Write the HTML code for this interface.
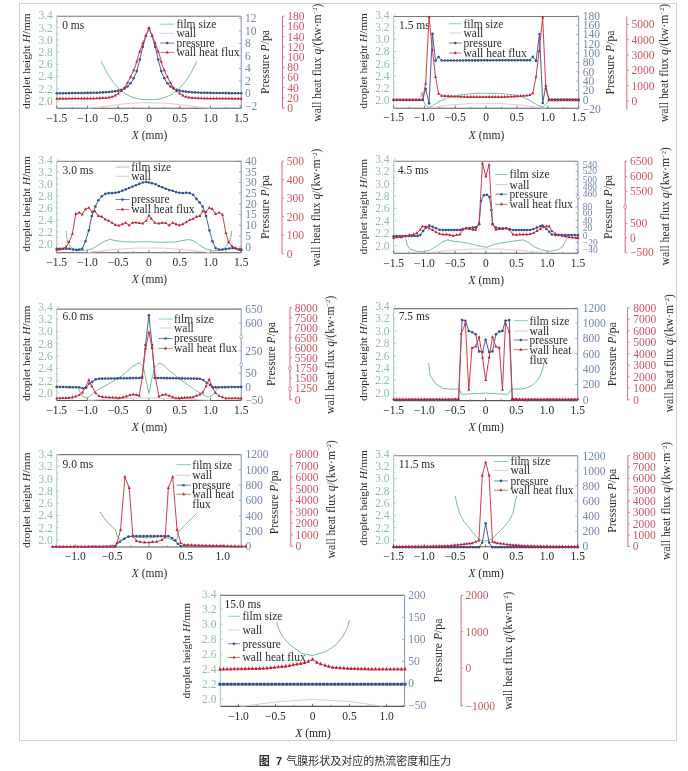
<!DOCTYPE html>
<html><head><meta charset="utf-8"><style>
html,body{margin:0;padding:0;background:#fff;}
svg{display:block;font-family:"Liberation Serif","Noto Serif CJK SC",serif;}
.cap{position:absolute;left:0;top:752px;width:688px;text-align:center;font-family:"Liberation Sans","Noto Sans CJK SC",sans-serif;font-size:11px;color:#222;}
</style></head><body>
<svg width="688" height="771" viewBox="0 0 688 771">
<rect x="19.5" y="3.5" width="657" height="737" fill="none" stroke="#ccd3d3" stroke-width="1"/>
<line x1="56.80" y1="16.20" x2="241.20" y2="16.20" stroke="#7a7a7a" stroke-width="1.1" />
<line x1="56.80" y1="108.30" x2="241.20" y2="108.30" stroke="#555" stroke-width="1.1" />
<line x1="56.80" y1="16.20" x2="56.80" y2="108.30" stroke="#9fd6b8" stroke-width="1.1" />
<line x1="241.20" y1="16.20" x2="241.20" y2="108.30" stroke="#8c9dbf" stroke-width="1.1" />
<line x1="56.80" y1="108.30" x2="56.80" y2="105.70" stroke="#555" stroke-width="0.8" />
<line x1="72.17" y1="108.30" x2="72.17" y2="106.50" stroke="#888" stroke-width="0.8" />
<line x1="87.53" y1="108.30" x2="87.53" y2="105.70" stroke="#555" stroke-width="0.8" />
<line x1="102.90" y1="108.30" x2="102.90" y2="106.50" stroke="#888" stroke-width="0.8" />
<line x1="118.27" y1="108.30" x2="118.27" y2="105.70" stroke="#555" stroke-width="0.8" />
<line x1="133.63" y1="108.30" x2="133.63" y2="106.50" stroke="#888" stroke-width="0.8" />
<line x1="149.00" y1="108.30" x2="149.00" y2="105.70" stroke="#555" stroke-width="0.8" />
<line x1="164.37" y1="108.30" x2="164.37" y2="106.50" stroke="#888" stroke-width="0.8" />
<line x1="179.73" y1="108.30" x2="179.73" y2="105.70" stroke="#555" stroke-width="0.8" />
<line x1="195.10" y1="108.30" x2="195.10" y2="106.50" stroke="#888" stroke-width="0.8" />
<line x1="210.47" y1="108.30" x2="210.47" y2="105.70" stroke="#555" stroke-width="0.8" />
<line x1="225.83" y1="108.30" x2="225.83" y2="106.50" stroke="#888" stroke-width="0.8" />
<line x1="241.20" y1="108.30" x2="241.20" y2="105.70" stroke="#555" stroke-width="0.8" />
<text x="56.80" y="121.51" font-size="11.5" fill="#2a2a2a" text-anchor="middle" >−1.5</text>
<text x="87.53" y="121.51" font-size="11.5" fill="#2a2a2a" text-anchor="middle" >−1.0</text>
<text x="118.27" y="121.51" font-size="11.5" fill="#2a2a2a" text-anchor="middle" >−0.5</text>
<text x="149.00" y="121.51" font-size="11.5" fill="#2a2a2a" text-anchor="middle" >0</text>
<text x="179.73" y="121.51" font-size="11.5" fill="#2a2a2a" text-anchor="middle" >0.5</text>
<text x="210.47" y="121.51" font-size="11.5" fill="#2a2a2a" text-anchor="middle" >1.0</text>
<text x="241.20" y="121.51" font-size="11.5" fill="#2a2a2a" text-anchor="middle" >1.5</text>
<text x="149.50" y="138.71" font-size="11.5" fill="#2a2a2a" text-anchor="middle" ><tspan font-style="italic">X</tspan> (mm)</text>
<text x="52.80" y="104.91" font-size="11.5" fill="#8fbfa2" text-anchor="end" >2.0</text>
<line x1="56.80" y1="101.00" x2="59.30" y2="101.00" stroke="#9fd6b8" stroke-width="0.8" />
<line x1="56.80" y1="94.89" x2="58.40" y2="94.89" stroke="#9fd6b8" stroke-width="0.7" />
<text x="52.80" y="92.70" font-size="11.5" fill="#8fbfa2" text-anchor="end" >2.2</text>
<line x1="56.80" y1="88.79" x2="59.30" y2="88.79" stroke="#9fd6b8" stroke-width="0.8" />
<line x1="56.80" y1="82.68" x2="58.40" y2="82.68" stroke="#9fd6b8" stroke-width="0.7" />
<text x="52.80" y="80.48" font-size="11.5" fill="#8fbfa2" text-anchor="end" >2.4</text>
<line x1="56.80" y1="76.57" x2="59.30" y2="76.57" stroke="#9fd6b8" stroke-width="0.8" />
<line x1="56.80" y1="70.46" x2="58.40" y2="70.46" stroke="#9fd6b8" stroke-width="0.7" />
<text x="52.80" y="68.27" font-size="11.5" fill="#8fbfa2" text-anchor="end" >2.6</text>
<line x1="56.80" y1="64.36" x2="59.30" y2="64.36" stroke="#9fd6b8" stroke-width="0.8" />
<line x1="56.80" y1="58.25" x2="58.40" y2="58.25" stroke="#9fd6b8" stroke-width="0.7" />
<text x="52.80" y="56.05" font-size="11.5" fill="#8fbfa2" text-anchor="end" >2.8</text>
<line x1="56.80" y1="52.14" x2="59.30" y2="52.14" stroke="#9fd6b8" stroke-width="0.8" />
<line x1="56.80" y1="46.04" x2="58.40" y2="46.04" stroke="#9fd6b8" stroke-width="0.7" />
<text x="52.80" y="43.84" font-size="11.5" fill="#8fbfa2" text-anchor="end" >3.0</text>
<line x1="56.80" y1="39.93" x2="59.30" y2="39.93" stroke="#9fd6b8" stroke-width="0.8" />
<line x1="56.80" y1="33.82" x2="58.40" y2="33.82" stroke="#9fd6b8" stroke-width="0.7" />
<text x="52.80" y="31.62" font-size="11.5" fill="#8fbfa2" text-anchor="end" >3.2</text>
<line x1="56.80" y1="27.71" x2="59.30" y2="27.71" stroke="#9fd6b8" stroke-width="0.8" />
<line x1="56.80" y1="21.61" x2="58.40" y2="21.61" stroke="#9fd6b8" stroke-width="0.7" />
<text x="52.80" y="19.41" font-size="11.5" fill="#8fbfa2" text-anchor="end" >3.4</text>
<line x1="56.80" y1="15.50" x2="59.30" y2="15.50" stroke="#9fd6b8" stroke-width="0.8" />
<text transform="translate(30.22,61.10) rotate(-90)" font-size="11.4" fill="#2a2a2a" text-anchor="middle">droplet height <tspan font-style="italic">H</tspan>/mm</text>
<text x="245.00" y="22.41" font-size="11.5" fill="#7286ab" text-anchor="start" >12</text>
<line x1="241.20" y1="18.50" x2="238.70" y2="18.50" stroke="#8c9dbf" stroke-width="0.8" />
<text x="245.00" y="34.81" font-size="11.5" fill="#7286ab" text-anchor="start" >10</text>
<line x1="241.20" y1="30.90" x2="238.70" y2="30.90" stroke="#8c9dbf" stroke-width="0.8" />
<text x="245.00" y="47.31" font-size="11.5" fill="#7286ab" text-anchor="start" >8</text>
<line x1="241.20" y1="43.40" x2="238.70" y2="43.40" stroke="#8c9dbf" stroke-width="0.8" />
<text x="245.00" y="59.81" font-size="11.5" fill="#7286ab" text-anchor="start" >6</text>
<line x1="241.20" y1="55.90" x2="238.70" y2="55.90" stroke="#8c9dbf" stroke-width="0.8" />
<text x="245.00" y="72.31" font-size="11.5" fill="#7286ab" text-anchor="start" >4</text>
<line x1="241.20" y1="68.40" x2="238.70" y2="68.40" stroke="#8c9dbf" stroke-width="0.8" />
<text x="245.00" y="84.81" font-size="11.5" fill="#7286ab" text-anchor="start" >2</text>
<line x1="241.20" y1="80.90" x2="238.70" y2="80.90" stroke="#8c9dbf" stroke-width="0.8" />
<text x="245.00" y="97.31" font-size="11.5" fill="#7286ab" text-anchor="start" >0</text>
<line x1="241.20" y1="93.40" x2="238.70" y2="93.40" stroke="#8c9dbf" stroke-width="0.8" />
<text x="245.00" y="109.71" font-size="11.5" fill="#7286ab" text-anchor="start" >−2</text>
<line x1="241.20" y1="105.80" x2="238.70" y2="105.80" stroke="#8c9dbf" stroke-width="0.8" />
<text transform="translate(269.31,62.00) rotate(-90)" font-size="11.7" fill="#2a2a2a" text-anchor="middle">Pressure <tspan font-style="italic">P</tspan>/pa</text>
<line x1="282.50" y1="16.20" x2="282.50" y2="108.70" stroke="#d86a72" stroke-width="1.0" />
<text x="287.30" y="111.91" font-size="11.5" fill="#cf5560" text-anchor="start" >0</text>
<line x1="282.50" y1="108.00" x2="284.50" y2="108.00" stroke="#d86a72" stroke-width="0.8" />
<text x="287.30" y="101.71" font-size="11.5" fill="#cf5560" text-anchor="start" >20</text>
<line x1="282.50" y1="97.80" x2="284.50" y2="97.80" stroke="#d86a72" stroke-width="0.8" />
<text x="287.30" y="91.51" font-size="11.5" fill="#cf5560" text-anchor="start" >40</text>
<line x1="282.50" y1="87.60" x2="284.50" y2="87.60" stroke="#d86a72" stroke-width="0.8" />
<text x="287.30" y="81.31" font-size="11.5" fill="#cf5560" text-anchor="start" >60</text>
<line x1="282.50" y1="77.40" x2="284.50" y2="77.40" stroke="#d86a72" stroke-width="0.8" />
<text x="287.30" y="71.11" font-size="11.5" fill="#cf5560" text-anchor="start" >80</text>
<line x1="282.50" y1="67.20" x2="284.50" y2="67.20" stroke="#d86a72" stroke-width="0.8" />
<text x="287.30" y="60.91" font-size="11.5" fill="#cf5560" text-anchor="start" >100</text>
<line x1="282.50" y1="57.00" x2="284.50" y2="57.00" stroke="#d86a72" stroke-width="0.8" />
<text x="287.30" y="50.71" font-size="11.5" fill="#cf5560" text-anchor="start" >120</text>
<line x1="282.50" y1="46.80" x2="284.50" y2="46.80" stroke="#d86a72" stroke-width="0.8" />
<text x="287.30" y="40.51" font-size="11.5" fill="#cf5560" text-anchor="start" >140</text>
<line x1="282.50" y1="36.60" x2="284.50" y2="36.60" stroke="#d86a72" stroke-width="0.8" />
<text x="287.30" y="30.31" font-size="11.5" fill="#cf5560" text-anchor="start" >160</text>
<line x1="282.50" y1="26.40" x2="284.50" y2="26.40" stroke="#d86a72" stroke-width="0.8" />
<text x="287.30" y="20.11" font-size="11.5" fill="#cf5560" text-anchor="start" >180</text>
<line x1="282.50" y1="16.20" x2="284.50" y2="16.20" stroke="#d86a72" stroke-width="0.8" />
<text transform="translate(320.51,62.60) rotate(-90)" font-size="11.7" fill="#2a2a2a" text-anchor="middle">wall heat flux <tspan font-style="italic">q</tspan>/(kw·m<tspan dy="-3.5" font-size="6.5">−2</tspan><tspan dy="3.5">)</tspan></text>
<text x="62.20" y="28.51" font-size="11.5" fill="#2a2a2a" text-anchor="start" >0 ms</text>
<line x1="160.20" y1="24.20" x2="174.20" y2="24.20" stroke="#8fcfa8" stroke-width="1.0" />
<line x1="160.20" y1="33.30" x2="174.20" y2="33.30" stroke="#c9cfe0" stroke-width="1.0" />
<line x1="160.20" y1="43.10" x2="174.20" y2="43.10" stroke="#6f84b0" stroke-width="1.0" />
<circle cx="167.20" cy="43.10" r="1.3" fill="#34508a"/>
<line x1="160.20" y1="52.50" x2="174.20" y2="52.50" stroke="#e0707e" stroke-width="1.0" />
<path d="M167.20,50.55 L168.70,53.55 L165.70,53.55 Z" fill="#bb1d36"/>
<text x="176.40" y="28.11" font-size="11.5" fill="#2a2a2a" text-anchor="start" >film size</text>
<text x="176.40" y="37.21" font-size="11.5" fill="#2a2a2a" text-anchor="start" >wall</text>
<text x="176.40" y="47.01" font-size="11.5" fill="#2a2a2a" text-anchor="start" >pressure</text>
<text x="176.40" y="56.41" font-size="11.5" fill="#2a2a2a" text-anchor="start" >wall heat flux</text>
<path d="M87.53,108.30 L105.97,106.30 L124.41,103.80 L142.85,102.60 L167.44,103.20 L185.88,105.50 L210.47,108.30" fill="none" stroke="#dcc4cc" stroke-width="0.9"/>
<path d="M101.06,61.10 L107.20,73.30 L113.35,82.50 L119.50,89.20 L125.64,94.00 L131.79,97.10 L139.78,99.20 L149.00,99.90 L158.22,99.20 L166.21,97.10 L172.36,94.00 L178.50,89.20 L184.65,82.50 L190.80,73.30 L196.94,61.10" fill="none" stroke="#66b886" stroke-width="0.9"/>
<path d="M56.80,93.30 L94.91,92.80 L107.20,92.20 L117.04,91.00 L123.18,89.20 L128.10,86.10 L131.79,81.90 L136.09,73.30 L139.17,62.30 L142.24,48.90 L145.93,36.00 L149.00,28.20 L152.07,36.00 L155.76,48.90 L158.83,62.30 L161.91,73.30 L166.21,81.90 L169.90,86.10 L174.82,89.20 L180.96,91.00 L190.80,92.20 L203.09,92.80 L241.20,93.30" fill="none" stroke="#44609a" stroke-width="1.0" stroke-linejoin="round"/>
<circle cx="56.80" cy="93.30" r="1.3" fill="#34508a"/>
<circle cx="59.87" cy="93.26" r="1.3" fill="#34508a"/>
<circle cx="62.95" cy="93.22" r="1.3" fill="#34508a"/>
<circle cx="66.02" cy="93.18" r="1.3" fill="#34508a"/>
<circle cx="69.09" cy="93.14" r="1.3" fill="#34508a"/>
<circle cx="72.17" cy="93.10" r="1.3" fill="#34508a"/>
<circle cx="75.24" cy="93.06" r="1.3" fill="#34508a"/>
<circle cx="78.31" cy="93.02" r="1.3" fill="#34508a"/>
<circle cx="81.39" cy="92.98" r="1.3" fill="#34508a"/>
<circle cx="84.46" cy="92.94" r="1.3" fill="#34508a"/>
<circle cx="87.53" cy="92.90" r="1.3" fill="#34508a"/>
<circle cx="90.61" cy="92.86" r="1.3" fill="#34508a"/>
<circle cx="93.68" cy="92.82" r="1.3" fill="#34508a"/>
<circle cx="96.75" cy="92.71" r="1.3" fill="#34508a"/>
<circle cx="99.83" cy="92.56" r="1.3" fill="#34508a"/>
<circle cx="102.90" cy="92.41" r="1.3" fill="#34508a"/>
<circle cx="105.97" cy="92.26" r="1.3" fill="#34508a"/>
<circle cx="109.05" cy="91.97" r="1.3" fill="#34508a"/>
<circle cx="112.12" cy="91.60" r="1.3" fill="#34508a"/>
<circle cx="115.19" cy="91.22" r="1.3" fill="#34508a"/>
<circle cx="118.27" cy="90.64" r="1.3" fill="#34508a"/>
<circle cx="121.34" cy="89.74" r="1.3" fill="#34508a"/>
<circle cx="124.41" cy="88.42" r="1.3" fill="#34508a"/>
<circle cx="127.49" cy="86.49" r="1.3" fill="#34508a"/>
<circle cx="130.56" cy="83.30" r="1.3" fill="#34508a"/>
<circle cx="133.63" cy="78.21" r="1.3" fill="#34508a"/>
<circle cx="136.71" cy="71.10" r="1.3" fill="#34508a"/>
<circle cx="139.78" cy="59.62" r="1.3" fill="#34508a"/>
<circle cx="142.85" cy="46.75" r="1.3" fill="#34508a"/>
<circle cx="145.93" cy="36.00" r="1.3" fill="#34508a"/>
<circle cx="149.00" cy="28.20" r="1.3" fill="#34508a"/>
<circle cx="152.07" cy="36.00" r="1.3" fill="#34508a"/>
<circle cx="155.15" cy="46.75" r="1.3" fill="#34508a"/>
<circle cx="158.22" cy="59.62" r="1.3" fill="#34508a"/>
<circle cx="161.29" cy="71.10" r="1.3" fill="#34508a"/>
<circle cx="164.37" cy="78.21" r="1.3" fill="#34508a"/>
<circle cx="167.44" cy="83.30" r="1.3" fill="#34508a"/>
<circle cx="170.51" cy="86.49" r="1.3" fill="#34508a"/>
<circle cx="173.59" cy="88.43" r="1.3" fill="#34508a"/>
<circle cx="176.66" cy="89.74" r="1.3" fill="#34508a"/>
<circle cx="179.73" cy="90.64" r="1.3" fill="#34508a"/>
<circle cx="182.81" cy="91.23" r="1.3" fill="#34508a"/>
<circle cx="185.88" cy="91.60" r="1.3" fill="#34508a"/>
<circle cx="188.95" cy="91.97" r="1.3" fill="#34508a"/>
<circle cx="192.03" cy="92.26" r="1.3" fill="#34508a"/>
<circle cx="195.10" cy="92.41" r="1.3" fill="#34508a"/>
<circle cx="198.17" cy="92.56" r="1.3" fill="#34508a"/>
<circle cx="201.25" cy="92.71" r="1.3" fill="#34508a"/>
<circle cx="204.32" cy="92.82" r="1.3" fill="#34508a"/>
<circle cx="207.39" cy="92.86" r="1.3" fill="#34508a"/>
<circle cx="210.47" cy="92.90" r="1.3" fill="#34508a"/>
<circle cx="213.54" cy="92.94" r="1.3" fill="#34508a"/>
<circle cx="216.61" cy="92.98" r="1.3" fill="#34508a"/>
<circle cx="219.69" cy="93.02" r="1.3" fill="#34508a"/>
<circle cx="222.76" cy="93.06" r="1.3" fill="#34508a"/>
<circle cx="225.83" cy="93.10" r="1.3" fill="#34508a"/>
<circle cx="228.91" cy="93.14" r="1.3" fill="#34508a"/>
<circle cx="231.98" cy="93.18" r="1.3" fill="#34508a"/>
<circle cx="235.05" cy="93.22" r="1.3" fill="#34508a"/>
<circle cx="238.13" cy="93.26" r="1.3" fill="#34508a"/>
<circle cx="241.20" cy="93.30" r="1.3" fill="#34508a"/>
<path d="M56.80,98.70 L94.91,98.40 L107.20,97.90 L113.35,96.50 L119.50,92.80 L124.41,88.00 L128.10,81.90 L131.79,74.50 L135.48,66.00 L138.55,55.00 L142.24,44.70 L145.93,35.50 L149.00,28.20 L152.07,35.50 L155.76,44.70 L159.45,55.00 L162.52,66.00 L166.21,74.50 L169.90,81.90 L173.59,88.00 L178.50,92.80 L184.65,96.50 L190.80,97.90 L203.09,98.40 L241.20,98.70" fill="none" stroke="#d23a4e" stroke-width="1.0" stroke-linejoin="round"/>
<path d="M56.80,96.81 L58.25,99.72 L55.35,99.72 Z" fill="#bb1d36"/>
<path d="M59.87,96.79 L61.32,99.69 L58.42,99.69 Z" fill="#bb1d36"/>
<path d="M62.95,96.77 L64.40,99.67 L61.50,99.67 Z" fill="#bb1d36"/>
<path d="M66.02,96.74 L67.47,99.64 L64.57,99.64 Z" fill="#bb1d36"/>
<path d="M69.09,96.72 L70.54,99.62 L67.64,99.62 Z" fill="#bb1d36"/>
<path d="M72.17,96.69 L73.62,99.59 L70.72,99.59 Z" fill="#bb1d36"/>
<path d="M75.24,96.67 L76.69,99.57 L73.79,99.57 Z" fill="#bb1d36"/>
<path d="M78.31,96.65 L79.76,99.55 L76.86,99.55 Z" fill="#bb1d36"/>
<path d="M81.39,96.62 L82.84,99.52 L79.94,99.52 Z" fill="#bb1d36"/>
<path d="M84.46,96.60 L85.91,99.50 L83.01,99.50 Z" fill="#bb1d36"/>
<path d="M87.53,96.57 L88.98,99.47 L86.08,99.47 Z" fill="#bb1d36"/>
<path d="M90.61,96.55 L92.06,99.45 L89.16,99.45 Z" fill="#bb1d36"/>
<path d="M93.68,96.52 L95.13,99.42 L92.23,99.42 Z" fill="#bb1d36"/>
<path d="M96.75,96.44 L98.20,99.34 L95.30,99.34 Z" fill="#bb1d36"/>
<path d="M99.83,96.31 L101.28,99.22 L98.38,99.22 Z" fill="#bb1d36"/>
<path d="M102.90,96.19 L104.35,99.09 L101.45,99.09 Z" fill="#bb1d36"/>
<path d="M105.97,96.06 L107.42,98.97 L104.52,98.97 Z" fill="#bb1d36"/>
<path d="M109.05,95.59 L110.50,98.50 L107.60,98.50 Z" fill="#bb1d36"/>
<path d="M112.12,94.89 L113.57,97.80 L110.67,97.80 Z" fill="#bb1d36"/>
<path d="M115.19,93.50 L116.64,96.41 L113.74,96.41 Z" fill="#bb1d36"/>
<path d="M118.27,91.65 L119.72,94.55 L116.82,94.55 Z" fill="#bb1d36"/>
<path d="M121.34,89.11 L122.79,92.02 L119.89,92.02 Z" fill="#bb1d36"/>
<path d="M124.41,86.11 L125.86,89.01 L122.96,89.01 Z" fill="#bb1d36"/>
<path d="M127.49,81.03 L128.94,83.93 L126.04,83.93 Z" fill="#bb1d36"/>
<path d="M130.56,75.08 L132.01,77.98 L129.11,77.98 Z" fill="#bb1d36"/>
<path d="M133.63,68.36 L135.08,71.27 L132.18,71.27 Z" fill="#bb1d36"/>
<path d="M136.71,59.71 L138.16,62.61 L135.26,62.61 Z" fill="#bb1d36"/>
<path d="M139.78,49.68 L141.23,52.58 L138.33,52.58 Z" fill="#bb1d36"/>
<path d="M142.85,41.28 L144.30,44.18 L141.40,44.18 Z" fill="#bb1d36"/>
<path d="M145.93,33.61 L147.38,36.51 L144.48,36.51 Z" fill="#bb1d36"/>
<path d="M149.00,26.31 L150.45,29.21 L147.55,29.21 Z" fill="#bb1d36"/>
<path d="M152.07,33.62 L153.52,36.52 L150.62,36.52 Z" fill="#bb1d36"/>
<path d="M155.15,41.28 L156.60,44.18 L153.70,44.18 Z" fill="#bb1d36"/>
<path d="M158.22,49.68 L159.67,52.58 L156.77,52.58 Z" fill="#bb1d36"/>
<path d="M161.29,59.72 L162.74,62.62 L159.84,62.62 Z" fill="#bb1d36"/>
<path d="M164.37,68.36 L165.82,71.27 L162.92,71.27 Z" fill="#bb1d36"/>
<path d="M167.44,75.08 L168.89,77.98 L165.99,77.98 Z" fill="#bb1d36"/>
<path d="M170.51,81.03 L171.96,83.93 L169.06,83.93 Z" fill="#bb1d36"/>
<path d="M173.59,86.11 L175.04,89.02 L172.14,89.02 Z" fill="#bb1d36"/>
<path d="M176.66,89.12 L178.11,92.02 L175.21,92.02 Z" fill="#bb1d36"/>
<path d="M179.73,91.65 L181.18,94.55 L178.28,94.55 Z" fill="#bb1d36"/>
<path d="M182.81,93.51 L184.26,96.41 L181.36,96.41 Z" fill="#bb1d36"/>
<path d="M185.88,94.89 L187.33,97.80 L184.43,97.80 Z" fill="#bb1d36"/>
<path d="M188.95,95.59 L190.40,98.50 L187.50,98.50 Z" fill="#bb1d36"/>
<path d="M192.03,96.06 L193.48,98.97 L190.58,98.97 Z" fill="#bb1d36"/>
<path d="M195.10,96.19 L196.55,99.09 L193.65,99.09 Z" fill="#bb1d36"/>
<path d="M198.17,96.31 L199.62,99.22 L196.72,99.22 Z" fill="#bb1d36"/>
<path d="M201.25,96.44 L202.70,99.34 L199.80,99.34 Z" fill="#bb1d36"/>
<path d="M204.32,96.52 L205.77,99.42 L202.87,99.42 Z" fill="#bb1d36"/>
<path d="M207.39,96.55 L208.84,99.45 L205.94,99.45 Z" fill="#bb1d36"/>
<path d="M210.47,96.57 L211.92,99.47 L209.02,99.47 Z" fill="#bb1d36"/>
<path d="M213.54,96.60 L214.99,99.50 L212.09,99.50 Z" fill="#bb1d36"/>
<path d="M216.61,96.62 L218.06,99.52 L215.16,99.52 Z" fill="#bb1d36"/>
<path d="M219.69,96.65 L221.14,99.55 L218.24,99.55 Z" fill="#bb1d36"/>
<path d="M222.76,96.67 L224.21,99.57 L221.31,99.57 Z" fill="#bb1d36"/>
<path d="M225.83,96.69 L227.28,99.59 L224.38,99.59 Z" fill="#bb1d36"/>
<path d="M228.91,96.72 L230.36,99.62 L227.46,99.62 Z" fill="#bb1d36"/>
<path d="M231.98,96.74 L233.43,99.64 L230.53,99.64 Z" fill="#bb1d36"/>
<path d="M235.05,96.77 L236.50,99.67 L233.60,99.67 Z" fill="#bb1d36"/>
<path d="M238.13,96.79 L239.58,99.69 L236.68,99.69 Z" fill="#bb1d36"/>
<path d="M241.20,96.81 L242.65,99.72 L239.75,99.72 Z" fill="#bb1d36"/>
<line x1="393.60" y1="16.50" x2="578.60" y2="16.50" stroke="#7a7a7a" stroke-width="1.1" />
<line x1="393.60" y1="108.20" x2="578.60" y2="108.20" stroke="#555" stroke-width="1.1" />
<line x1="393.60" y1="16.50" x2="393.60" y2="108.20" stroke="#9fd6b8" stroke-width="1.1" />
<line x1="578.60" y1="16.50" x2="578.60" y2="108.20" stroke="#8c9dbf" stroke-width="1.1" />
<line x1="393.60" y1="108.20" x2="393.60" y2="105.60" stroke="#555" stroke-width="0.8" />
<line x1="409.02" y1="108.20" x2="409.02" y2="106.40" stroke="#888" stroke-width="0.8" />
<line x1="424.43" y1="108.20" x2="424.43" y2="105.60" stroke="#555" stroke-width="0.8" />
<line x1="439.85" y1="108.20" x2="439.85" y2="106.40" stroke="#888" stroke-width="0.8" />
<line x1="455.27" y1="108.20" x2="455.27" y2="105.60" stroke="#555" stroke-width="0.8" />
<line x1="470.68" y1="108.20" x2="470.68" y2="106.40" stroke="#888" stroke-width="0.8" />
<line x1="486.10" y1="108.20" x2="486.10" y2="105.60" stroke="#555" stroke-width="0.8" />
<line x1="501.52" y1="108.20" x2="501.52" y2="106.40" stroke="#888" stroke-width="0.8" />
<line x1="516.93" y1="108.20" x2="516.93" y2="105.60" stroke="#555" stroke-width="0.8" />
<line x1="532.35" y1="108.20" x2="532.35" y2="106.40" stroke="#888" stroke-width="0.8" />
<line x1="547.77" y1="108.20" x2="547.77" y2="105.60" stroke="#555" stroke-width="0.8" />
<line x1="563.18" y1="108.20" x2="563.18" y2="106.40" stroke="#888" stroke-width="0.8" />
<line x1="578.60" y1="108.20" x2="578.60" y2="105.60" stroke="#555" stroke-width="0.8" />
<text x="393.60" y="121.41" font-size="11.5" fill="#2a2a2a" text-anchor="middle" >−1.5</text>
<text x="424.43" y="121.41" font-size="11.5" fill="#2a2a2a" text-anchor="middle" >−1.0</text>
<text x="455.27" y="121.41" font-size="11.5" fill="#2a2a2a" text-anchor="middle" >−0.5</text>
<text x="486.10" y="121.41" font-size="11.5" fill="#2a2a2a" text-anchor="middle" >0</text>
<text x="516.93" y="121.41" font-size="11.5" fill="#2a2a2a" text-anchor="middle" >0.5</text>
<text x="547.77" y="121.41" font-size="11.5" fill="#2a2a2a" text-anchor="middle" >1.0</text>
<text x="578.60" y="121.41" font-size="11.5" fill="#2a2a2a" text-anchor="middle" >1.5</text>
<text x="486.60" y="138.61" font-size="11.5" fill="#2a2a2a" text-anchor="middle" ><tspan font-style="italic">X</tspan> (mm)</text>
<text x="389.60" y="104.21" font-size="11.5" fill="#8fbfa2" text-anchor="end" >2.0</text>
<line x1="393.60" y1="100.30" x2="396.10" y2="100.30" stroke="#9fd6b8" stroke-width="0.8" />
<line x1="393.60" y1="94.20" x2="395.20" y2="94.20" stroke="#9fd6b8" stroke-width="0.7" />
<text x="389.60" y="92.01" font-size="11.5" fill="#8fbfa2" text-anchor="end" >2.2</text>
<line x1="393.60" y1="88.10" x2="396.10" y2="88.10" stroke="#9fd6b8" stroke-width="0.8" />
<line x1="393.60" y1="82.00" x2="395.20" y2="82.00" stroke="#9fd6b8" stroke-width="0.7" />
<text x="389.60" y="79.81" font-size="11.5" fill="#8fbfa2" text-anchor="end" >2.4</text>
<line x1="393.60" y1="75.90" x2="396.10" y2="75.90" stroke="#9fd6b8" stroke-width="0.8" />
<line x1="393.60" y1="69.80" x2="395.20" y2="69.80" stroke="#9fd6b8" stroke-width="0.7" />
<text x="389.60" y="67.61" font-size="11.5" fill="#8fbfa2" text-anchor="end" >2.6</text>
<line x1="393.60" y1="63.70" x2="396.10" y2="63.70" stroke="#9fd6b8" stroke-width="0.8" />
<line x1="393.60" y1="57.60" x2="395.20" y2="57.60" stroke="#9fd6b8" stroke-width="0.7" />
<text x="389.60" y="55.41" font-size="11.5" fill="#8fbfa2" text-anchor="end" >2.8</text>
<line x1="393.60" y1="51.50" x2="396.10" y2="51.50" stroke="#9fd6b8" stroke-width="0.8" />
<line x1="393.60" y1="45.40" x2="395.20" y2="45.40" stroke="#9fd6b8" stroke-width="0.7" />
<text x="389.60" y="43.21" font-size="11.5" fill="#8fbfa2" text-anchor="end" >3.0</text>
<line x1="393.60" y1="39.30" x2="396.10" y2="39.30" stroke="#9fd6b8" stroke-width="0.8" />
<line x1="393.60" y1="33.20" x2="395.20" y2="33.20" stroke="#9fd6b8" stroke-width="0.7" />
<text x="389.60" y="31.01" font-size="11.5" fill="#8fbfa2" text-anchor="end" >3.2</text>
<line x1="393.60" y1="27.10" x2="396.10" y2="27.10" stroke="#9fd6b8" stroke-width="0.8" />
<line x1="393.60" y1="21.00" x2="395.20" y2="21.00" stroke="#9fd6b8" stroke-width="0.7" />
<text x="389.60" y="18.81" font-size="11.5" fill="#8fbfa2" text-anchor="end" >3.4</text>
<line x1="393.60" y1="14.90" x2="396.10" y2="14.90" stroke="#9fd6b8" stroke-width="0.8" />
<text transform="translate(367.02,60.85) rotate(-90)" font-size="11.4" fill="#2a2a2a" text-anchor="middle">droplet height <tspan font-style="italic">H</tspan>/mm</text>
<text x="582.80" y="19.90" font-size="11.5" fill="#7286ab" text-anchor="start" >180</text>
<line x1="578.60" y1="15.99" x2="576.10" y2="15.99" stroke="#8c9dbf" stroke-width="0.8" />
<text x="582.80" y="29.19" font-size="11.5" fill="#7286ab" text-anchor="start" >160</text>
<line x1="578.60" y1="25.28" x2="576.10" y2="25.28" stroke="#8c9dbf" stroke-width="0.8" />
<text x="582.80" y="38.48" font-size="11.5" fill="#7286ab" text-anchor="start" >140</text>
<line x1="578.60" y1="34.57" x2="576.10" y2="34.57" stroke="#8c9dbf" stroke-width="0.8" />
<text x="582.80" y="47.77" font-size="11.5" fill="#7286ab" text-anchor="start" >120</text>
<line x1="578.60" y1="43.86" x2="576.10" y2="43.86" stroke="#8c9dbf" stroke-width="0.8" />
<text x="582.80" y="57.06" font-size="11.5" fill="#7286ab" text-anchor="start" >100</text>
<line x1="578.60" y1="53.15" x2="576.10" y2="53.15" stroke="#8c9dbf" stroke-width="0.8" />
<text x="582.80" y="66.35" font-size="11.5" fill="#7286ab" text-anchor="start" >80</text>
<line x1="578.60" y1="62.44" x2="576.10" y2="62.44" stroke="#8c9dbf" stroke-width="0.8" />
<text x="582.80" y="75.64" font-size="11.5" fill="#7286ab" text-anchor="start" >60</text>
<line x1="578.60" y1="71.73" x2="576.10" y2="71.73" stroke="#8c9dbf" stroke-width="0.8" />
<text x="582.80" y="84.93" font-size="11.5" fill="#7286ab" text-anchor="start" >40</text>
<line x1="578.60" y1="81.02" x2="576.10" y2="81.02" stroke="#8c9dbf" stroke-width="0.8" />
<text x="582.80" y="94.22" font-size="11.5" fill="#7286ab" text-anchor="start" >20</text>
<line x1="578.60" y1="90.31" x2="576.10" y2="90.31" stroke="#8c9dbf" stroke-width="0.8" />
<text x="582.80" y="103.51" font-size="11.5" fill="#7286ab" text-anchor="start" >0</text>
<line x1="578.60" y1="99.60" x2="576.10" y2="99.60" stroke="#8c9dbf" stroke-width="0.8" />
<text x="582.80" y="112.80" font-size="11.5" fill="#7286ab" text-anchor="start" >−20</text>
<line x1="578.60" y1="108.89" x2="576.10" y2="108.89" stroke="#8c9dbf" stroke-width="0.8" />
<text transform="translate(614.31,62.50) rotate(-90)" font-size="11.7" fill="#2a2a2a" text-anchor="middle">Pressure <tspan font-style="italic">P</tspan>/pa</text>
<line x1="626.80" y1="16.50" x2="626.80" y2="109.50" stroke="#d86a72" stroke-width="1.0" />
<text x="631.50" y="28.41" font-size="11.5" fill="#cf5560" text-anchor="start" >5000</text>
<line x1="626.80" y1="24.50" x2="628.80" y2="24.50" stroke="#d86a72" stroke-width="0.8" />
<text x="631.50" y="43.61" font-size="11.5" fill="#cf5560" text-anchor="start" >4000</text>
<line x1="626.80" y1="39.70" x2="628.80" y2="39.70" stroke="#d86a72" stroke-width="0.8" />
<text x="631.50" y="58.91" font-size="11.5" fill="#cf5560" text-anchor="start" >3000</text>
<line x1="626.80" y1="55.00" x2="628.80" y2="55.00" stroke="#d86a72" stroke-width="0.8" />
<text x="631.50" y="74.21" font-size="11.5" fill="#cf5560" text-anchor="start" >2000</text>
<line x1="626.80" y1="70.30" x2="628.80" y2="70.30" stroke="#d86a72" stroke-width="0.8" />
<text x="631.50" y="89.51" font-size="11.5" fill="#cf5560" text-anchor="start" >1000</text>
<line x1="626.80" y1="85.60" x2="628.80" y2="85.60" stroke="#d86a72" stroke-width="0.8" />
<text x="631.50" y="104.81" font-size="11.5" fill="#cf5560" text-anchor="start" >0</text>
<line x1="626.80" y1="100.90" x2="628.80" y2="100.90" stroke="#d86a72" stroke-width="0.8" />
<text transform="translate(667.81,63.00) rotate(-90)" font-size="11.7" fill="#2a2a2a" text-anchor="middle">wall heat flux <tspan font-style="italic">q</tspan>/(kw·m<tspan dy="-3.5" font-size="6.5">−2</tspan><tspan dy="3.5">)</tspan></text>
<text x="399.10" y="28.51" font-size="11.5" fill="#2a2a2a" text-anchor="start" >1.5 ms</text>
<line x1="449.00" y1="23.75" x2="461.50" y2="23.75" stroke="#8fcfa8" stroke-width="1.0" />
<line x1="449.00" y1="33.00" x2="461.50" y2="33.00" stroke="#c9cfe0" stroke-width="1.0" />
<line x1="449.00" y1="43.00" x2="461.50" y2="43.00" stroke="#6f84b0" stroke-width="1.0" />
<circle cx="455.25" cy="43.00" r="1.3" fill="#34508a"/>
<line x1="449.00" y1="53.00" x2="461.50" y2="53.00" stroke="#e0707e" stroke-width="1.0" />
<path d="M455.25,51.05 L456.75,54.05 L453.75,54.05 Z" fill="#bb1d36"/>
<text x="463.50" y="27.66" font-size="11.5" fill="#2a2a2a" text-anchor="start" >film size</text>
<text x="463.50" y="36.91" font-size="11.5" fill="#2a2a2a" text-anchor="start" >wall</text>
<text x="463.50" y="46.91" font-size="11.5" fill="#2a2a2a" text-anchor="start" >pressure</text>
<text x="463.50" y="56.91" font-size="11.5" fill="#2a2a2a" text-anchor="start" >wall heat flux</text>
<path d="M427.52,108.20 L449.10,105.00 L473.77,103.20 L498.43,103.30 L523.10,105.30 L544.68,108.20" fill="none" stroke="#dcc4cc" stroke-width="0.9"/>
<path d="M420.43,97.00 L421.97,92.40 L423.82,101.50 L425.67,105.50 L428.75,107.30 L433.07,105.50 L438.00,102.10 L447.25,98.00 L458.35,95.20 L469.45,93.90 L480.55,93.20 L498.43,93.30 L512.62,94.70 L523.72,97.50 L530.50,100.90 L537.28,105.10 L542.83,107.10 L547.15,103.00 L549.62,99.00" fill="none" stroke="#66b886" stroke-width="0.9"/>
<path d="M393.60,99.90 L396.82,99.90 L400.04,99.90 L403.26,99.90 L406.48,99.90 L409.70,99.90 L412.92,99.90 L416.14,99.90 L419.36,99.90 L422.58,99.90 L425.67,88.70 L429.06,103.40 L432.45,33.90 L435.53,60.70 L438.62,57.00 L441.70,60.50 L444.74,60.49 L447.78,60.48 L450.82,60.47 L453.86,60.46 L456.90,60.45 L459.94,60.44 L462.99,60.43 L466.03,60.42 L469.07,60.41 L472.11,60.40 L475.15,60.39 L478.19,60.38 L481.23,60.37 L484.27,60.36 L487.31,60.34 L490.35,60.33 L493.39,60.32 L496.43,60.31 L499.48,60.30 L502.52,60.29 L505.56,60.28 L508.60,60.27 L511.64,60.26 L514.68,60.25 L517.72,60.24 L520.76,60.23 L523.80,60.22 L526.84,60.21 L529.88,60.20 L532.78,56.70 L536.05,60.90 L539.50,34.00 L542.71,103.00 L545.79,86.00 L549.00,99.50 L551.96,99.50 L554.92,99.50 L557.88,99.50 L560.84,99.50 L563.80,99.50 L566.76,99.50 L569.72,99.50 L572.68,99.50 L575.64,99.50 L578.60,99.50" fill="none" stroke="#44609a" stroke-width="1.0" stroke-linejoin="round"/>
<circle cx="393.60" cy="99.90" r="1.3" fill="#34508a"/>
<circle cx="396.82" cy="99.90" r="1.3" fill="#34508a"/>
<circle cx="400.04" cy="99.90" r="1.3" fill="#34508a"/>
<circle cx="403.26" cy="99.90" r="1.3" fill="#34508a"/>
<circle cx="406.48" cy="99.90" r="1.3" fill="#34508a"/>
<circle cx="409.70" cy="99.90" r="1.3" fill="#34508a"/>
<circle cx="412.92" cy="99.90" r="1.3" fill="#34508a"/>
<circle cx="416.14" cy="99.90" r="1.3" fill="#34508a"/>
<circle cx="419.36" cy="99.90" r="1.3" fill="#34508a"/>
<circle cx="422.58" cy="99.90" r="1.3" fill="#34508a"/>
<circle cx="425.67" cy="88.70" r="1.3" fill="#34508a"/>
<circle cx="429.06" cy="103.40" r="1.3" fill="#34508a"/>
<circle cx="432.45" cy="33.90" r="1.3" fill="#34508a"/>
<circle cx="435.53" cy="60.70" r="1.3" fill="#34508a"/>
<circle cx="438.62" cy="57.00" r="1.3" fill="#34508a"/>
<circle cx="441.70" cy="60.50" r="1.3" fill="#34508a"/>
<circle cx="444.74" cy="60.49" r="1.3" fill="#34508a"/>
<circle cx="447.78" cy="60.48" r="1.3" fill="#34508a"/>
<circle cx="450.82" cy="60.47" r="1.3" fill="#34508a"/>
<circle cx="453.86" cy="60.46" r="1.3" fill="#34508a"/>
<circle cx="456.90" cy="60.45" r="1.3" fill="#34508a"/>
<circle cx="459.94" cy="60.44" r="1.3" fill="#34508a"/>
<circle cx="462.99" cy="60.43" r="1.3" fill="#34508a"/>
<circle cx="466.03" cy="60.42" r="1.3" fill="#34508a"/>
<circle cx="469.07" cy="60.41" r="1.3" fill="#34508a"/>
<circle cx="472.11" cy="60.40" r="1.3" fill="#34508a"/>
<circle cx="475.15" cy="60.39" r="1.3" fill="#34508a"/>
<circle cx="478.19" cy="60.38" r="1.3" fill="#34508a"/>
<circle cx="481.23" cy="60.37" r="1.3" fill="#34508a"/>
<circle cx="484.27" cy="60.36" r="1.3" fill="#34508a"/>
<circle cx="487.31" cy="60.34" r="1.3" fill="#34508a"/>
<circle cx="490.35" cy="60.33" r="1.3" fill="#34508a"/>
<circle cx="493.39" cy="60.32" r="1.3" fill="#34508a"/>
<circle cx="496.43" cy="60.31" r="1.3" fill="#34508a"/>
<circle cx="499.48" cy="60.30" r="1.3" fill="#34508a"/>
<circle cx="502.52" cy="60.29" r="1.3" fill="#34508a"/>
<circle cx="505.56" cy="60.28" r="1.3" fill="#34508a"/>
<circle cx="508.60" cy="60.27" r="1.3" fill="#34508a"/>
<circle cx="511.64" cy="60.26" r="1.3" fill="#34508a"/>
<circle cx="514.68" cy="60.25" r="1.3" fill="#34508a"/>
<circle cx="517.72" cy="60.24" r="1.3" fill="#34508a"/>
<circle cx="520.76" cy="60.23" r="1.3" fill="#34508a"/>
<circle cx="523.80" cy="60.22" r="1.3" fill="#34508a"/>
<circle cx="526.84" cy="60.21" r="1.3" fill="#34508a"/>
<circle cx="529.88" cy="60.20" r="1.3" fill="#34508a"/>
<circle cx="532.78" cy="56.70" r="1.3" fill="#34508a"/>
<circle cx="536.05" cy="60.90" r="1.3" fill="#34508a"/>
<circle cx="539.50" cy="34.00" r="1.3" fill="#34508a"/>
<circle cx="542.71" cy="103.00" r="1.3" fill="#34508a"/>
<circle cx="545.79" cy="86.00" r="1.3" fill="#34508a"/>
<circle cx="549.00" cy="99.50" r="1.3" fill="#34508a"/>
<circle cx="551.96" cy="99.50" r="1.3" fill="#34508a"/>
<circle cx="554.92" cy="99.50" r="1.3" fill="#34508a"/>
<circle cx="557.88" cy="99.50" r="1.3" fill="#34508a"/>
<circle cx="560.84" cy="99.50" r="1.3" fill="#34508a"/>
<circle cx="563.80" cy="99.50" r="1.3" fill="#34508a"/>
<circle cx="566.76" cy="99.50" r="1.3" fill="#34508a"/>
<circle cx="569.72" cy="99.50" r="1.3" fill="#34508a"/>
<circle cx="572.68" cy="99.50" r="1.3" fill="#34508a"/>
<circle cx="575.64" cy="99.50" r="1.3" fill="#34508a"/>
<circle cx="578.60" cy="99.50" r="1.3" fill="#34508a"/>
<path d="M393.60,99.90 L396.82,99.90 L400.04,99.90 L403.26,99.90 L406.48,99.90 L409.70,99.90 L412.92,99.90 L416.14,99.90 L419.36,99.90 L422.58,99.90 L425.67,83.70 L429.06,17.10 L432.45,50.10 L435.53,76.90 L438.62,93.70 L441.70,95.80 L444.94,95.95 L448.18,96.10 L451.41,96.25 L454.65,96.40 L457.89,96.55 L461.12,96.70 L464.36,96.85 L467.60,97.00 L470.68,97.00 L473.77,97.00 L476.85,97.00 L479.93,97.00 L483.02,97.00 L486.10,97.00 L489.18,97.00 L492.27,97.00 L495.35,97.00 L498.43,97.00 L501.52,97.00 L504.60,97.00 L507.77,96.80 L510.94,96.60 L514.11,96.40 L517.29,96.20 L520.46,96.00 L523.63,95.80 L526.80,95.60 L529.88,95.00 L532.78,93.30 L536.05,76.80 L539.13,51.20 L542.71,17.40 L545.79,88.50 L549.00,100.20 L551.96,100.20 L554.92,100.20 L557.88,100.20 L560.84,100.20 L563.80,100.20 L566.76,100.20 L569.72,100.20 L572.68,100.20 L575.64,100.20 L578.60,100.20" fill="none" stroke="#d23a4e" stroke-width="1.0" stroke-linejoin="round"/>
<path d="M393.60,98.02 L395.05,100.92 L392.15,100.92 Z" fill="#bb1d36"/>
<path d="M396.82,98.02 L398.27,100.92 L395.37,100.92 Z" fill="#bb1d36"/>
<path d="M400.04,98.02 L401.49,100.92 L398.59,100.92 Z" fill="#bb1d36"/>
<path d="M403.26,98.02 L404.71,100.92 L401.81,100.92 Z" fill="#bb1d36"/>
<path d="M406.48,98.02 L407.93,100.92 L405.03,100.92 Z" fill="#bb1d36"/>
<path d="M409.70,98.02 L411.15,100.92 L408.25,100.92 Z" fill="#bb1d36"/>
<path d="M412.92,98.02 L414.37,100.92 L411.47,100.92 Z" fill="#bb1d36"/>
<path d="M416.14,98.02 L417.59,100.92 L414.69,100.92 Z" fill="#bb1d36"/>
<path d="M419.36,98.02 L420.81,100.92 L417.91,100.92 Z" fill="#bb1d36"/>
<path d="M422.58,98.02 L424.03,100.92 L421.13,100.92 Z" fill="#bb1d36"/>
<path d="M425.67,81.81 L427.12,84.72 L424.22,84.72 Z" fill="#bb1d36"/>
<path d="M429.06,15.22 L430.51,18.12 L427.61,18.12 Z" fill="#bb1d36"/>
<path d="M432.45,48.22 L433.90,51.12 L431.00,51.12 Z" fill="#bb1d36"/>
<path d="M435.53,75.02 L436.98,77.92 L434.08,77.92 Z" fill="#bb1d36"/>
<path d="M438.62,91.81 L440.07,94.72 L437.17,94.72 Z" fill="#bb1d36"/>
<path d="M441.70,93.91 L443.15,96.81 L440.25,96.81 Z" fill="#bb1d36"/>
<path d="M444.94,94.06 L446.39,96.97 L443.49,96.97 Z" fill="#bb1d36"/>
<path d="M448.18,94.21 L449.62,97.11 L446.73,97.11 Z" fill="#bb1d36"/>
<path d="M451.41,94.36 L452.86,97.27 L449.96,97.27 Z" fill="#bb1d36"/>
<path d="M454.65,94.52 L456.10,97.42 L453.20,97.42 Z" fill="#bb1d36"/>
<path d="M457.89,94.66 L459.34,97.56 L456.44,97.56 Z" fill="#bb1d36"/>
<path d="M461.12,94.81 L462.57,97.72 L459.68,97.72 Z" fill="#bb1d36"/>
<path d="M464.36,94.96 L465.81,97.86 L462.91,97.86 Z" fill="#bb1d36"/>
<path d="M467.60,95.11 L469.05,98.02 L466.15,98.02 Z" fill="#bb1d36"/>
<path d="M470.68,95.11 L472.13,98.02 L469.23,98.02 Z" fill="#bb1d36"/>
<path d="M473.77,95.11 L475.22,98.02 L472.32,98.02 Z" fill="#bb1d36"/>
<path d="M476.85,95.11 L478.30,98.02 L475.40,98.02 Z" fill="#bb1d36"/>
<path d="M479.93,95.11 L481.38,98.02 L478.48,98.02 Z" fill="#bb1d36"/>
<path d="M483.02,95.11 L484.47,98.02 L481.57,98.02 Z" fill="#bb1d36"/>
<path d="M486.10,95.11 L487.55,98.02 L484.65,98.02 Z" fill="#bb1d36"/>
<path d="M489.18,95.11 L490.63,98.02 L487.73,98.02 Z" fill="#bb1d36"/>
<path d="M492.27,95.11 L493.72,98.02 L490.82,98.02 Z" fill="#bb1d36"/>
<path d="M495.35,95.11 L496.80,98.02 L493.90,98.02 Z" fill="#bb1d36"/>
<path d="M498.43,95.11 L499.88,98.02 L496.98,98.02 Z" fill="#bb1d36"/>
<path d="M501.52,95.11 L502.97,98.02 L500.07,98.02 Z" fill="#bb1d36"/>
<path d="M504.60,95.11 L506.05,98.02 L503.15,98.02 Z" fill="#bb1d36"/>
<path d="M507.77,94.91 L509.22,97.81 L506.32,97.81 Z" fill="#bb1d36"/>
<path d="M510.94,94.71 L512.39,97.61 L509.49,97.61 Z" fill="#bb1d36"/>
<path d="M514.11,94.51 L515.56,97.41 L512.66,97.41 Z" fill="#bb1d36"/>
<path d="M517.29,94.31 L518.74,97.22 L515.84,97.22 Z" fill="#bb1d36"/>
<path d="M520.46,94.11 L521.91,97.02 L519.01,97.02 Z" fill="#bb1d36"/>
<path d="M523.63,93.91 L525.08,96.81 L522.18,96.81 Z" fill="#bb1d36"/>
<path d="M526.80,93.71 L528.25,96.61 L525.35,96.61 Z" fill="#bb1d36"/>
<path d="M529.88,93.11 L531.33,96.02 L528.43,96.02 Z" fill="#bb1d36"/>
<path d="M532.78,91.41 L534.23,94.31 L531.33,94.31 Z" fill="#bb1d36"/>
<path d="M536.05,74.91 L537.50,77.81 L534.60,77.81 Z" fill="#bb1d36"/>
<path d="M539.13,49.32 L540.58,52.22 L537.68,52.22 Z" fill="#bb1d36"/>
<path d="M542.71,15.51 L544.16,18.41 L541.26,18.41 Z" fill="#bb1d36"/>
<path d="M545.79,86.61 L547.24,89.52 L544.34,89.52 Z" fill="#bb1d36"/>
<path d="M549.00,98.31 L550.45,101.22 L547.55,101.22 Z" fill="#bb1d36"/>
<path d="M551.96,98.31 L553.41,101.22 L550.51,101.22 Z" fill="#bb1d36"/>
<path d="M554.92,98.31 L556.37,101.22 L553.47,101.22 Z" fill="#bb1d36"/>
<path d="M557.88,98.31 L559.33,101.22 L556.43,101.22 Z" fill="#bb1d36"/>
<path d="M560.84,98.31 L562.29,101.22 L559.39,101.22 Z" fill="#bb1d36"/>
<path d="M563.80,98.31 L565.25,101.22 L562.35,101.22 Z" fill="#bb1d36"/>
<path d="M566.76,98.31 L568.21,101.22 L565.31,101.22 Z" fill="#bb1d36"/>
<path d="M569.72,98.31 L571.17,101.22 L568.27,101.22 Z" fill="#bb1d36"/>
<path d="M572.68,98.31 L574.13,101.22 L571.23,101.22 Z" fill="#bb1d36"/>
<path d="M575.64,98.31 L577.09,101.22 L574.19,101.22 Z" fill="#bb1d36"/>
<path d="M578.60,98.31 L580.05,101.22 L577.15,101.22 Z" fill="#bb1d36"/>
<line x1="56.70" y1="161.20" x2="241.20" y2="161.20" stroke="#7a7a7a" stroke-width="1.1" />
<line x1="56.70" y1="252.80" x2="241.20" y2="252.80" stroke="#555" stroke-width="1.1" />
<line x1="56.70" y1="161.20" x2="56.70" y2="252.80" stroke="#9fd6b8" stroke-width="1.1" />
<line x1="241.20" y1="161.20" x2="241.20" y2="252.80" stroke="#8c9dbf" stroke-width="1.1" />
<line x1="56.70" y1="252.80" x2="56.70" y2="250.20" stroke="#555" stroke-width="0.8" />
<line x1="72.08" y1="252.80" x2="72.08" y2="251.00" stroke="#888" stroke-width="0.8" />
<line x1="87.45" y1="252.80" x2="87.45" y2="250.20" stroke="#555" stroke-width="0.8" />
<line x1="102.83" y1="252.80" x2="102.83" y2="251.00" stroke="#888" stroke-width="0.8" />
<line x1="118.20" y1="252.80" x2="118.20" y2="250.20" stroke="#555" stroke-width="0.8" />
<line x1="133.57" y1="252.80" x2="133.57" y2="251.00" stroke="#888" stroke-width="0.8" />
<line x1="148.95" y1="252.80" x2="148.95" y2="250.20" stroke="#555" stroke-width="0.8" />
<line x1="164.32" y1="252.80" x2="164.32" y2="251.00" stroke="#888" stroke-width="0.8" />
<line x1="179.70" y1="252.80" x2="179.70" y2="250.20" stroke="#555" stroke-width="0.8" />
<line x1="195.07" y1="252.80" x2="195.07" y2="251.00" stroke="#888" stroke-width="0.8" />
<line x1="210.45" y1="252.80" x2="210.45" y2="250.20" stroke="#555" stroke-width="0.8" />
<line x1="225.82" y1="252.80" x2="225.82" y2="251.00" stroke="#888" stroke-width="0.8" />
<line x1="241.20" y1="252.80" x2="241.20" y2="250.20" stroke="#555" stroke-width="0.8" />
<text x="56.70" y="266.01" font-size="11.5" fill="#2a2a2a" text-anchor="middle" >−1.5</text>
<text x="87.45" y="266.01" font-size="11.5" fill="#2a2a2a" text-anchor="middle" >−1.0</text>
<text x="118.20" y="266.01" font-size="11.5" fill="#2a2a2a" text-anchor="middle" >−0.5</text>
<text x="148.95" y="266.01" font-size="11.5" fill="#2a2a2a" text-anchor="middle" >0</text>
<text x="179.70" y="266.01" font-size="11.5" fill="#2a2a2a" text-anchor="middle" >0.5</text>
<text x="210.45" y="266.01" font-size="11.5" fill="#2a2a2a" text-anchor="middle" >1.0</text>
<text x="241.20" y="266.01" font-size="11.5" fill="#2a2a2a" text-anchor="middle" >1.5</text>
<text x="149.45" y="283.21" font-size="11.5" fill="#2a2a2a" text-anchor="middle" ><tspan font-style="italic">X</tspan> (mm)</text>
<text x="52.70" y="247.81" font-size="11.5" fill="#8fbfa2" text-anchor="end" >2.0</text>
<line x1="56.70" y1="243.90" x2="59.20" y2="243.90" stroke="#9fd6b8" stroke-width="0.8" />
<line x1="56.70" y1="237.91" x2="58.30" y2="237.91" stroke="#9fd6b8" stroke-width="0.7" />
<text x="52.70" y="235.84" font-size="11.5" fill="#8fbfa2" text-anchor="end" >2.2</text>
<line x1="56.70" y1="231.93" x2="59.20" y2="231.93" stroke="#9fd6b8" stroke-width="0.8" />
<line x1="56.70" y1="225.94" x2="58.30" y2="225.94" stroke="#9fd6b8" stroke-width="0.7" />
<text x="52.70" y="223.87" font-size="11.5" fill="#8fbfa2" text-anchor="end" >2.4</text>
<line x1="56.70" y1="219.96" x2="59.20" y2="219.96" stroke="#9fd6b8" stroke-width="0.8" />
<line x1="56.70" y1="213.97" x2="58.30" y2="213.97" stroke="#9fd6b8" stroke-width="0.7" />
<text x="52.70" y="211.90" font-size="11.5" fill="#8fbfa2" text-anchor="end" >2.6</text>
<line x1="56.70" y1="207.99" x2="59.20" y2="207.99" stroke="#9fd6b8" stroke-width="0.8" />
<line x1="56.70" y1="202.00" x2="58.30" y2="202.00" stroke="#9fd6b8" stroke-width="0.7" />
<text x="52.70" y="199.92" font-size="11.5" fill="#8fbfa2" text-anchor="end" >2.8</text>
<line x1="56.70" y1="196.01" x2="59.20" y2="196.01" stroke="#9fd6b8" stroke-width="0.8" />
<line x1="56.70" y1="190.03" x2="58.30" y2="190.03" stroke="#9fd6b8" stroke-width="0.7" />
<text x="52.70" y="187.95" font-size="11.5" fill="#8fbfa2" text-anchor="end" >3.0</text>
<line x1="56.70" y1="184.04" x2="59.20" y2="184.04" stroke="#9fd6b8" stroke-width="0.8" />
<line x1="56.70" y1="178.06" x2="58.30" y2="178.06" stroke="#9fd6b8" stroke-width="0.7" />
<text x="52.70" y="175.98" font-size="11.5" fill="#8fbfa2" text-anchor="end" >3.2</text>
<line x1="56.70" y1="172.07" x2="59.20" y2="172.07" stroke="#9fd6b8" stroke-width="0.8" />
<line x1="56.70" y1="166.09" x2="58.30" y2="166.09" stroke="#9fd6b8" stroke-width="0.7" />
<text x="52.70" y="164.01" font-size="11.5" fill="#8fbfa2" text-anchor="end" >3.4</text>
<line x1="56.70" y1="160.10" x2="59.20" y2="160.10" stroke="#9fd6b8" stroke-width="0.8" />
<text transform="translate(30.12,204.00) rotate(-90)" font-size="11.4" fill="#2a2a2a" text-anchor="middle">droplet height <tspan font-style="italic">H</tspan>/mm</text>
<text x="245.20" y="164.85" font-size="11.5" fill="#7286ab" text-anchor="start" >40</text>
<line x1="241.20" y1="160.94" x2="238.70" y2="160.94" stroke="#8c9dbf" stroke-width="0.8" />
<text x="245.20" y="175.57" font-size="11.5" fill="#7286ab" text-anchor="start" >35</text>
<line x1="241.20" y1="171.66" x2="238.70" y2="171.66" stroke="#8c9dbf" stroke-width="0.8" />
<text x="245.20" y="186.29" font-size="11.5" fill="#7286ab" text-anchor="start" >30</text>
<line x1="241.20" y1="182.38" x2="238.70" y2="182.38" stroke="#8c9dbf" stroke-width="0.8" />
<text x="245.20" y="197.01" font-size="11.5" fill="#7286ab" text-anchor="start" >25</text>
<line x1="241.20" y1="193.10" x2="238.70" y2="193.10" stroke="#8c9dbf" stroke-width="0.8" />
<text x="245.20" y="207.73" font-size="11.5" fill="#7286ab" text-anchor="start" >20</text>
<line x1="241.20" y1="203.82" x2="238.70" y2="203.82" stroke="#8c9dbf" stroke-width="0.8" />
<text x="245.20" y="218.45" font-size="11.5" fill="#7286ab" text-anchor="start" >15</text>
<line x1="241.20" y1="214.54" x2="238.70" y2="214.54" stroke="#8c9dbf" stroke-width="0.8" />
<text x="245.20" y="229.17" font-size="11.5" fill="#7286ab" text-anchor="start" >10</text>
<line x1="241.20" y1="225.26" x2="238.70" y2="225.26" stroke="#8c9dbf" stroke-width="0.8" />
<text x="245.20" y="239.89" font-size="11.5" fill="#7286ab" text-anchor="start" >5</text>
<line x1="241.20" y1="235.98" x2="238.70" y2="235.98" stroke="#8c9dbf" stroke-width="0.8" />
<text x="245.20" y="250.61" font-size="11.5" fill="#7286ab" text-anchor="start" >0</text>
<line x1="241.20" y1="246.70" x2="238.70" y2="246.70" stroke="#8c9dbf" stroke-width="0.8" />
<text transform="translate(269.01,207.00) rotate(-90)" font-size="11.7" fill="#2a2a2a" text-anchor="middle">Pressure <tspan font-style="italic">P</tspan>/pa</text>
<line x1="282.00" y1="161.50" x2="282.00" y2="253.90" stroke="#d86a72" stroke-width="1.0" />
<text x="286.80" y="165.11" font-size="11.5" fill="#cf5560" text-anchor="start" >500</text>
<line x1="282.00" y1="161.20" x2="284.00" y2="161.20" stroke="#d86a72" stroke-width="0.8" />
<text x="286.80" y="183.59" font-size="11.5" fill="#cf5560" text-anchor="start" >400</text>
<line x1="282.00" y1="179.68" x2="284.00" y2="179.68" stroke="#d86a72" stroke-width="0.8" />
<text x="286.80" y="202.07" font-size="11.5" fill="#cf5560" text-anchor="start" >300</text>
<line x1="282.00" y1="198.16" x2="284.00" y2="198.16" stroke="#d86a72" stroke-width="0.8" />
<text x="286.80" y="220.55" font-size="11.5" fill="#cf5560" text-anchor="start" >200</text>
<line x1="282.00" y1="216.64" x2="284.00" y2="216.64" stroke="#d86a72" stroke-width="0.8" />
<text x="286.80" y="239.03" font-size="11.5" fill="#cf5560" text-anchor="start" >100</text>
<line x1="282.00" y1="235.12" x2="284.00" y2="235.12" stroke="#d86a72" stroke-width="0.8" />
<text x="286.80" y="257.51" font-size="11.5" fill="#cf5560" text-anchor="start" >0</text>
<line x1="282.00" y1="253.60" x2="284.00" y2="253.60" stroke="#d86a72" stroke-width="0.8" />
<text transform="translate(320.31,207.60) rotate(-90)" font-size="11.7" fill="#2a2a2a" text-anchor="middle">wall heat flux <tspan font-style="italic">q</tspan>/(kw·m<tspan dy="-3.5" font-size="6.5">−2</tspan><tspan dy="3.5">)</tspan></text>
<text x="62.50" y="173.51" font-size="11.5" fill="#2a2a2a" text-anchor="start" >3.0 ms</text>
<line x1="115.50" y1="167.00" x2="129.50" y2="167.00" stroke="#8fcfa8" stroke-width="1.0" />
<line x1="115.50" y1="176.25" x2="129.50" y2="176.25" stroke="#c9cfe0" stroke-width="1.0" />
<line x1="115.50" y1="199.50" x2="129.50" y2="199.50" stroke="#6f84b0" stroke-width="1.0" />
<circle cx="122.50" cy="199.50" r="1.3" fill="#34508a"/>
<line x1="115.50" y1="209.50" x2="129.50" y2="209.50" stroke="#e0707e" stroke-width="1.0" />
<path d="M122.50,207.55 L124.00,210.55 L121.00,210.55 Z" fill="#bb1d36"/>
<text x="131.20" y="170.91" font-size="11.5" fill="#2a2a2a" text-anchor="start" >film size</text>
<text x="131.20" y="180.16" font-size="11.5" fill="#2a2a2a" text-anchor="start" >wall</text>
<text x="131.20" y="203.41" font-size="11.5" fill="#2a2a2a" text-anchor="start" >pressure</text>
<text x="131.20" y="213.41" font-size="11.5" fill="#2a2a2a" text-anchor="start" >wall heat flux</text>
<path d="M87.45,252.60 L112.05,249.80 L136.65,248.00 L161.25,248.00 L185.85,249.80 L210.45,252.60" fill="none" stroke="#dcc4cc" stroke-width="0.9"/>
<path d="M66.23,231.00 L66.85,238.00 L68.38,244.00 L71.46,247.50 L76.38,250.20 L84.38,250.50 L92.37,248.80 L99.13,244.70 L104.67,241.30 L109.59,239.20 L115.12,240.60 L123.12,241.70 L133.57,242.00 L144.64,241.70 L161.25,242.30 L175.39,242.00 L182.16,240.60 L188.93,239.50 L193.23,240.60 L198.76,244.70 L205.53,248.80 L213.52,250.90 L221.83,250.20 L226.56,246.10 L230.01,240.60 L231.05,236.00 L231.61,231.00" fill="none" stroke="#66b886" stroke-width="0.9"/>
<path d="M56.70,248.80 L59.78,248.80 L62.85,248.80 L66.23,248.80 L69.62,248.80 L73.06,249.50 L76.50,249.90 L79.21,249.60 L82.22,248.80 L85.42,241.30 L88.80,230.40 L91.82,216.00 L95.32,206.50 L98.40,200.30 L101.78,196.20 L105.29,193.90 L108.61,193.10 L112.05,193.10 L115.43,192.80 L118.81,192.10 L122.32,190.70 L125.70,189.40 L129.09,188.00 L132.53,186.60 L135.91,185.30 L139.29,183.90 L142.80,182.50 L146.18,182.00 L148.95,182.50 L152.03,183.30 L155.53,184.30 L158.91,186.00 L162.30,187.30 L165.80,188.70 L169.18,190.10 L172.63,190.70 L176.01,192.10 L179.39,192.80 L182.77,193.10 L186.28,192.80 L189.66,193.10 L193.11,194.80 L196.49,198.90 L199.56,202.40 L202.70,206.50 L206.08,216.00 L209.47,230.40 L212.48,241.30 L215.62,248.10 L219.00,249.50 L222.50,249.50 L225.89,249.10 L229.27,248.50 L232.71,248.10 L236.16,248.80 L239.54,249.50 L241.20,249.50" fill="none" stroke="#44609a" stroke-width="1.0" stroke-linejoin="round"/>
<circle cx="56.70" cy="248.80" r="1.3" fill="#34508a"/>
<circle cx="59.78" cy="248.80" r="1.3" fill="#34508a"/>
<circle cx="62.85" cy="248.80" r="1.3" fill="#34508a"/>
<circle cx="66.23" cy="248.80" r="1.3" fill="#34508a"/>
<circle cx="69.62" cy="248.80" r="1.3" fill="#34508a"/>
<circle cx="73.06" cy="249.50" r="1.3" fill="#34508a"/>
<circle cx="76.50" cy="249.90" r="1.3" fill="#34508a"/>
<circle cx="79.21" cy="249.60" r="1.3" fill="#34508a"/>
<circle cx="82.22" cy="248.80" r="1.3" fill="#34508a"/>
<circle cx="85.42" cy="241.30" r="1.3" fill="#34508a"/>
<circle cx="88.80" cy="230.40" r="1.3" fill="#34508a"/>
<circle cx="91.82" cy="216.00" r="1.3" fill="#34508a"/>
<circle cx="95.32" cy="206.50" r="1.3" fill="#34508a"/>
<circle cx="98.40" cy="200.30" r="1.3" fill="#34508a"/>
<circle cx="101.78" cy="196.20" r="1.3" fill="#34508a"/>
<circle cx="105.29" cy="193.90" r="1.3" fill="#34508a"/>
<circle cx="108.61" cy="193.10" r="1.3" fill="#34508a"/>
<circle cx="112.05" cy="193.10" r="1.3" fill="#34508a"/>
<circle cx="115.43" cy="192.80" r="1.3" fill="#34508a"/>
<circle cx="118.81" cy="192.10" r="1.3" fill="#34508a"/>
<circle cx="122.32" cy="190.70" r="1.3" fill="#34508a"/>
<circle cx="125.70" cy="189.40" r="1.3" fill="#34508a"/>
<circle cx="129.09" cy="188.00" r="1.3" fill="#34508a"/>
<circle cx="132.53" cy="186.60" r="1.3" fill="#34508a"/>
<circle cx="135.91" cy="185.30" r="1.3" fill="#34508a"/>
<circle cx="139.29" cy="183.90" r="1.3" fill="#34508a"/>
<circle cx="142.80" cy="182.50" r="1.3" fill="#34508a"/>
<circle cx="146.18" cy="182.00" r="1.3" fill="#34508a"/>
<circle cx="148.95" cy="182.50" r="1.3" fill="#34508a"/>
<circle cx="152.03" cy="183.30" r="1.3" fill="#34508a"/>
<circle cx="155.53" cy="184.30" r="1.3" fill="#34508a"/>
<circle cx="158.91" cy="186.00" r="1.3" fill="#34508a"/>
<circle cx="162.30" cy="187.30" r="1.3" fill="#34508a"/>
<circle cx="165.80" cy="188.70" r="1.3" fill="#34508a"/>
<circle cx="169.18" cy="190.10" r="1.3" fill="#34508a"/>
<circle cx="172.63" cy="190.70" r="1.3" fill="#34508a"/>
<circle cx="176.01" cy="192.10" r="1.3" fill="#34508a"/>
<circle cx="179.39" cy="192.80" r="1.3" fill="#34508a"/>
<circle cx="182.77" cy="193.10" r="1.3" fill="#34508a"/>
<circle cx="186.28" cy="192.80" r="1.3" fill="#34508a"/>
<circle cx="189.66" cy="193.10" r="1.3" fill="#34508a"/>
<circle cx="193.11" cy="194.80" r="1.3" fill="#34508a"/>
<circle cx="196.49" cy="198.90" r="1.3" fill="#34508a"/>
<circle cx="199.56" cy="202.40" r="1.3" fill="#34508a"/>
<circle cx="202.70" cy="206.50" r="1.3" fill="#34508a"/>
<circle cx="206.08" cy="216.00" r="1.3" fill="#34508a"/>
<circle cx="209.47" cy="230.40" r="1.3" fill="#34508a"/>
<circle cx="212.48" cy="241.30" r="1.3" fill="#34508a"/>
<circle cx="215.62" cy="248.10" r="1.3" fill="#34508a"/>
<circle cx="219.00" cy="249.50" r="1.3" fill="#34508a"/>
<circle cx="222.50" cy="249.50" r="1.3" fill="#34508a"/>
<circle cx="225.89" cy="249.10" r="1.3" fill="#34508a"/>
<circle cx="229.27" cy="248.50" r="1.3" fill="#34508a"/>
<circle cx="232.71" cy="248.10" r="1.3" fill="#34508a"/>
<circle cx="236.16" cy="248.80" r="1.3" fill="#34508a"/>
<circle cx="239.54" cy="249.50" r="1.3" fill="#34508a"/>
<circle cx="241.20" cy="249.50" r="1.3" fill="#34508a"/>
<path d="M56.70,249.50 L59.41,249.50 L62.85,248.80 L66.17,246.80 L69.00,242.00 L72.38,233.80 L75.77,214.00 L79.21,212.60 L82.22,214.40 L85.42,209.20 L88.80,207.80 L92.19,211.90 L94.89,211.20 L98.40,216.00 L101.78,216.70 L105.29,219.40 L108.61,220.80 L112.05,222.80 L115.43,224.90 L118.81,225.60 L122.32,224.20 L125.70,222.80 L129.09,225.30 L132.53,222.80 L135.91,222.60 L139.29,223.10 L142.80,223.50 L146.18,220.80 L148.95,215.50 L151.41,218.80 L154.79,222.80 L158.91,223.50 L162.30,222.80 L165.80,223.10 L169.18,225.30 L172.63,222.80 L176.01,224.20 L179.39,225.30 L182.77,224.20 L186.28,222.20 L189.66,220.10 L193.11,218.80 L196.49,216.70 L199.87,216.00 L202.70,211.20 L206.08,211.90 L209.22,207.80 L212.23,208.90 L215.62,214.00 L219.00,212.60 L222.50,214.70 L225.89,233.10 L228.59,242.00 L231.98,246.10 L235.42,248.10 L238.92,249.50 L241.20,250.00" fill="none" stroke="#d23a4e" stroke-width="1.0" stroke-linejoin="round"/>
<path d="M56.70,247.62 L58.15,250.51 L55.25,250.51 Z" fill="#bb1d36"/>
<path d="M59.41,247.62 L60.86,250.51 L57.96,250.51 Z" fill="#bb1d36"/>
<path d="M62.85,246.92 L64.30,249.81 L61.40,249.81 Z" fill="#bb1d36"/>
<path d="M66.17,244.92 L67.62,247.81 L64.72,247.81 Z" fill="#bb1d36"/>
<path d="M69.00,240.12 L70.45,243.01 L67.55,243.01 Z" fill="#bb1d36"/>
<path d="M72.38,231.92 L73.83,234.81 L70.93,234.81 Z" fill="#bb1d36"/>
<path d="M75.77,212.12 L77.22,215.01 L74.31,215.01 Z" fill="#bb1d36"/>
<path d="M79.21,210.72 L80.66,213.61 L77.76,213.61 Z" fill="#bb1d36"/>
<path d="M82.22,212.52 L83.67,215.41 L80.77,215.41 Z" fill="#bb1d36"/>
<path d="M85.42,207.31 L86.87,210.21 L83.97,210.21 Z" fill="#bb1d36"/>
<path d="M88.80,205.92 L90.25,208.81 L87.35,208.81 Z" fill="#bb1d36"/>
<path d="M92.19,210.02 L93.64,212.91 L90.74,212.91 Z" fill="#bb1d36"/>
<path d="M94.89,209.31 L96.34,212.21 L93.44,212.21 Z" fill="#bb1d36"/>
<path d="M98.40,214.12 L99.85,217.01 L96.95,217.01 Z" fill="#bb1d36"/>
<path d="M101.78,214.81 L103.23,217.71 L100.33,217.71 Z" fill="#bb1d36"/>
<path d="M105.29,217.52 L106.74,220.41 L103.84,220.41 Z" fill="#bb1d36"/>
<path d="M108.61,218.92 L110.06,221.81 L107.16,221.81 Z" fill="#bb1d36"/>
<path d="M112.05,220.92 L113.50,223.81 L110.60,223.81 Z" fill="#bb1d36"/>
<path d="M115.43,223.02 L116.88,225.91 L113.98,225.91 Z" fill="#bb1d36"/>
<path d="M118.81,223.72 L120.27,226.61 L117.36,226.61 Z" fill="#bb1d36"/>
<path d="M122.32,222.31 L123.77,225.21 L120.87,225.21 Z" fill="#bb1d36"/>
<path d="M125.70,220.92 L127.15,223.81 L124.25,223.81 Z" fill="#bb1d36"/>
<path d="M129.09,223.42 L130.54,226.31 L127.64,226.31 Z" fill="#bb1d36"/>
<path d="M132.53,220.92 L133.98,223.81 L131.08,223.81 Z" fill="#bb1d36"/>
<path d="M135.91,220.72 L137.36,223.61 L134.46,223.61 Z" fill="#bb1d36"/>
<path d="M139.29,221.22 L140.74,224.11 L137.84,224.11 Z" fill="#bb1d36"/>
<path d="M142.80,221.62 L144.25,224.51 L141.35,224.51 Z" fill="#bb1d36"/>
<path d="M146.18,218.92 L147.63,221.81 L144.73,221.81 Z" fill="#bb1d36"/>
<path d="M148.95,213.62 L150.40,216.51 L147.50,216.51 Z" fill="#bb1d36"/>
<path d="M151.41,216.92 L152.86,219.81 L149.96,219.81 Z" fill="#bb1d36"/>
<path d="M154.79,220.92 L156.24,223.81 L153.34,223.81 Z" fill="#bb1d36"/>
<path d="M158.91,221.62 L160.36,224.51 L157.46,224.51 Z" fill="#bb1d36"/>
<path d="M162.30,220.92 L163.75,223.81 L160.85,223.81 Z" fill="#bb1d36"/>
<path d="M165.80,221.22 L167.25,224.11 L164.35,224.11 Z" fill="#bb1d36"/>
<path d="M169.18,223.42 L170.63,226.31 L167.73,226.31 Z" fill="#bb1d36"/>
<path d="M172.63,220.92 L174.08,223.81 L171.18,223.81 Z" fill="#bb1d36"/>
<path d="M176.01,222.31 L177.46,225.21 L174.56,225.21 Z" fill="#bb1d36"/>
<path d="M179.39,223.42 L180.84,226.31 L177.94,226.31 Z" fill="#bb1d36"/>
<path d="M182.77,222.31 L184.22,225.21 L181.32,225.21 Z" fill="#bb1d36"/>
<path d="M186.28,220.31 L187.73,223.21 L184.83,223.21 Z" fill="#bb1d36"/>
<path d="M189.66,218.22 L191.11,221.11 L188.21,221.11 Z" fill="#bb1d36"/>
<path d="M193.11,216.92 L194.56,219.81 L191.66,219.81 Z" fill="#bb1d36"/>
<path d="M196.49,214.81 L197.94,217.71 L195.04,217.71 Z" fill="#bb1d36"/>
<path d="M199.87,214.12 L201.32,217.01 L198.42,217.01 Z" fill="#bb1d36"/>
<path d="M202.70,209.31 L204.15,212.21 L201.25,212.21 Z" fill="#bb1d36"/>
<path d="M206.08,210.02 L207.53,212.91 L204.63,212.91 Z" fill="#bb1d36"/>
<path d="M209.22,205.92 L210.67,208.81 L207.77,208.81 Z" fill="#bb1d36"/>
<path d="M212.23,207.02 L213.68,209.91 L210.78,209.91 Z" fill="#bb1d36"/>
<path d="M215.62,212.12 L217.07,215.01 L214.17,215.01 Z" fill="#bb1d36"/>
<path d="M219.00,210.72 L220.45,213.61 L217.55,213.61 Z" fill="#bb1d36"/>
<path d="M222.50,212.81 L223.95,215.71 L221.05,215.71 Z" fill="#bb1d36"/>
<path d="M225.89,231.22 L227.34,234.11 L224.44,234.11 Z" fill="#bb1d36"/>
<path d="M228.59,240.12 L230.04,243.01 L227.14,243.01 Z" fill="#bb1d36"/>
<path d="M231.98,244.22 L233.43,247.11 L230.53,247.11 Z" fill="#bb1d36"/>
<path d="M235.42,246.22 L236.87,249.11 L233.97,249.11 Z" fill="#bb1d36"/>
<path d="M238.92,247.62 L240.37,250.51 L237.47,250.51 Z" fill="#bb1d36"/>
<path d="M241.20,248.12 L242.65,251.01 L239.75,251.01 Z" fill="#bb1d36"/>
<line x1="393.60" y1="161.20" x2="578.00" y2="161.20" stroke="#7a7a7a" stroke-width="1.1" />
<line x1="393.60" y1="253.30" x2="578.00" y2="253.30" stroke="#555" stroke-width="1.1" />
<line x1="393.60" y1="161.20" x2="393.60" y2="253.30" stroke="#9fd6b8" stroke-width="1.1" />
<line x1="578.00" y1="161.20" x2="578.00" y2="253.30" stroke="#8c9dbf" stroke-width="1.1" />
<line x1="393.60" y1="253.30" x2="393.60" y2="250.70" stroke="#555" stroke-width="0.8" />
<line x1="408.97" y1="253.30" x2="408.97" y2="251.50" stroke="#888" stroke-width="0.8" />
<line x1="424.33" y1="253.30" x2="424.33" y2="250.70" stroke="#555" stroke-width="0.8" />
<line x1="439.70" y1="253.30" x2="439.70" y2="251.50" stroke="#888" stroke-width="0.8" />
<line x1="455.07" y1="253.30" x2="455.07" y2="250.70" stroke="#555" stroke-width="0.8" />
<line x1="470.43" y1="253.30" x2="470.43" y2="251.50" stroke="#888" stroke-width="0.8" />
<line x1="485.80" y1="253.30" x2="485.80" y2="250.70" stroke="#555" stroke-width="0.8" />
<line x1="501.17" y1="253.30" x2="501.17" y2="251.50" stroke="#888" stroke-width="0.8" />
<line x1="516.53" y1="253.30" x2="516.53" y2="250.70" stroke="#555" stroke-width="0.8" />
<line x1="531.90" y1="253.30" x2="531.90" y2="251.50" stroke="#888" stroke-width="0.8" />
<line x1="547.27" y1="253.30" x2="547.27" y2="250.70" stroke="#555" stroke-width="0.8" />
<line x1="562.63" y1="253.30" x2="562.63" y2="251.50" stroke="#888" stroke-width="0.8" />
<line x1="578.00" y1="253.30" x2="578.00" y2="250.70" stroke="#555" stroke-width="0.8" />
<text x="393.60" y="266.51" font-size="11.5" fill="#2a2a2a" text-anchor="middle" >−1.5</text>
<text x="424.33" y="266.51" font-size="11.5" fill="#2a2a2a" text-anchor="middle" >−1.0</text>
<text x="455.07" y="266.51" font-size="11.5" fill="#2a2a2a" text-anchor="middle" >−0.5</text>
<text x="485.80" y="266.51" font-size="11.5" fill="#2a2a2a" text-anchor="middle" >0</text>
<text x="516.53" y="266.51" font-size="11.5" fill="#2a2a2a" text-anchor="middle" >0.5</text>
<text x="547.27" y="266.51" font-size="11.5" fill="#2a2a2a" text-anchor="middle" >1.0</text>
<text x="578.00" y="266.51" font-size="11.5" fill="#2a2a2a" text-anchor="middle" >1.5</text>
<text x="486.30" y="283.71" font-size="11.5" fill="#2a2a2a" text-anchor="middle" ><tspan font-style="italic">X</tspan> (mm)</text>
<text x="389.60" y="249.51" font-size="11.5" fill="#8fbfa2" text-anchor="end" >2.0</text>
<line x1="393.60" y1="245.60" x2="396.10" y2="245.60" stroke="#9fd6b8" stroke-width="0.8" />
<line x1="393.60" y1="239.41" x2="395.20" y2="239.41" stroke="#9fd6b8" stroke-width="0.7" />
<text x="389.60" y="237.14" font-size="11.5" fill="#8fbfa2" text-anchor="end" >2.2</text>
<line x1="393.60" y1="233.23" x2="396.10" y2="233.23" stroke="#9fd6b8" stroke-width="0.8" />
<line x1="393.60" y1="227.04" x2="395.20" y2="227.04" stroke="#9fd6b8" stroke-width="0.7" />
<text x="389.60" y="224.77" font-size="11.5" fill="#8fbfa2" text-anchor="end" >2.4</text>
<line x1="393.60" y1="220.86" x2="396.10" y2="220.86" stroke="#9fd6b8" stroke-width="0.8" />
<line x1="393.60" y1="214.67" x2="395.20" y2="214.67" stroke="#9fd6b8" stroke-width="0.7" />
<text x="389.60" y="212.40" font-size="11.5" fill="#8fbfa2" text-anchor="end" >2.6</text>
<line x1="393.60" y1="208.49" x2="396.10" y2="208.49" stroke="#9fd6b8" stroke-width="0.8" />
<line x1="393.60" y1="202.30" x2="395.20" y2="202.30" stroke="#9fd6b8" stroke-width="0.7" />
<text x="389.60" y="200.02" font-size="11.5" fill="#8fbfa2" text-anchor="end" >2.8</text>
<line x1="393.60" y1="196.11" x2="396.10" y2="196.11" stroke="#9fd6b8" stroke-width="0.8" />
<line x1="393.60" y1="189.93" x2="395.20" y2="189.93" stroke="#9fd6b8" stroke-width="0.7" />
<text x="389.60" y="187.65" font-size="11.5" fill="#8fbfa2" text-anchor="end" >3.0</text>
<line x1="393.60" y1="183.74" x2="396.10" y2="183.74" stroke="#9fd6b8" stroke-width="0.8" />
<line x1="393.60" y1="177.56" x2="395.20" y2="177.56" stroke="#9fd6b8" stroke-width="0.7" />
<text x="389.60" y="175.28" font-size="11.5" fill="#8fbfa2" text-anchor="end" >3.2</text>
<line x1="393.60" y1="171.37" x2="396.10" y2="171.37" stroke="#9fd6b8" stroke-width="0.8" />
<line x1="393.60" y1="165.19" x2="395.20" y2="165.19" stroke="#9fd6b8" stroke-width="0.7" />
<text x="389.60" y="162.91" font-size="11.5" fill="#8fbfa2" text-anchor="end" >3.4</text>
<line x1="393.60" y1="159.00" x2="396.10" y2="159.00" stroke="#9fd6b8" stroke-width="0.8" />
<text transform="translate(367.02,206.60) rotate(-90)" font-size="11.4" fill="#2a2a2a" text-anchor="middle">droplet height <tspan font-style="italic">H</tspan>/mm</text>
<text x="582.80" y="167.73" font-size="9.5" fill="#7286ab" text-anchor="start" >540</text>
<line x1="578.00" y1="164.50" x2="575.50" y2="164.50" stroke="#8c9dbf" stroke-width="0.8" />
<text x="582.80" y="174.43" font-size="9.5" fill="#7286ab" text-anchor="start" >520</text>
<line x1="578.00" y1="171.20" x2="575.50" y2="171.20" stroke="#8c9dbf" stroke-width="0.8" />
<text x="582.80" y="182.53" font-size="9.5" fill="#7286ab" text-anchor="start" >500</text>
<line x1="578.00" y1="179.30" x2="575.50" y2="179.30" stroke="#8c9dbf" stroke-width="0.8" />
<text x="582.80" y="189.73" font-size="9.5" fill="#7286ab" text-anchor="start" >480</text>
<line x1="578.00" y1="186.50" x2="575.50" y2="186.50" stroke="#8c9dbf" stroke-width="0.8" />
<text x="582.80" y="197.13" font-size="9.5" fill="#7286ab" text-anchor="start" >460</text>
<line x1="578.00" y1="193.90" x2="575.50" y2="193.90" stroke="#8c9dbf" stroke-width="0.8" />
<text x="582.80" y="210.13" font-size="9.5" fill="#7286ab" text-anchor="start" >80</text>
<line x1="578.00" y1="206.90" x2="575.50" y2="206.90" stroke="#8c9dbf" stroke-width="0.8" />
<text x="582.80" y="216.33" font-size="9.5" fill="#7286ab" text-anchor="start" >60</text>
<line x1="578.00" y1="213.10" x2="575.50" y2="213.10" stroke="#8c9dbf" stroke-width="0.8" />
<text x="582.80" y="223.63" font-size="9.5" fill="#7286ab" text-anchor="start" >40</text>
<line x1="578.00" y1="220.40" x2="575.50" y2="220.40" stroke="#8c9dbf" stroke-width="0.8" />
<text x="582.80" y="230.83" font-size="9.5" fill="#7286ab" text-anchor="start" >20</text>
<line x1="578.00" y1="227.60" x2="575.50" y2="227.60" stroke="#8c9dbf" stroke-width="0.8" />
<text x="582.80" y="238.53" font-size="9.5" fill="#7286ab" text-anchor="start" >0</text>
<line x1="578.00" y1="235.30" x2="575.50" y2="235.30" stroke="#8c9dbf" stroke-width="0.8" />
<text x="582.80" y="245.73" font-size="9.5" fill="#7286ab" text-anchor="start" >−20</text>
<line x1="578.00" y1="242.50" x2="575.50" y2="242.50" stroke="#8c9dbf" stroke-width="0.8" />
<text x="582.80" y="252.83" font-size="9.5" fill="#7286ab" text-anchor="start" >−40</text>
<line x1="578.00" y1="249.60" x2="575.50" y2="249.60" stroke="#8c9dbf" stroke-width="0.8" />
<text transform="translate(611.91,207.00) rotate(-90)" font-size="11.7" fill="#2a2a2a" text-anchor="middle">Pressure <tspan font-style="italic">P</tspan>/pa</text>
<ellipse cx="578.00" cy="197.20" rx="1.3" ry="2.0" fill="#fff" stroke="#8c9dbf" stroke-width="0.8"/>
<line x1="625.20" y1="160.90" x2="625.20" y2="253.10" stroke="#d86a72" stroke-width="1.0" />
<text x="630.00" y="165.11" font-size="11.5" fill="#cf5560" text-anchor="start" >6500</text>
<line x1="625.20" y1="161.20" x2="627.20" y2="161.20" stroke="#d86a72" stroke-width="0.8" />
<text x="630.00" y="180.31" font-size="11.5" fill="#cf5560" text-anchor="start" >6000</text>
<line x1="625.20" y1="176.40" x2="627.20" y2="176.40" stroke="#d86a72" stroke-width="0.8" />
<text x="630.00" y="195.11" font-size="11.5" fill="#cf5560" text-anchor="start" >5500</text>
<line x1="625.20" y1="191.20" x2="627.20" y2="191.20" stroke="#d86a72" stroke-width="0.8" />
<text x="630.00" y="227.41" font-size="11.5" fill="#cf5560" text-anchor="start" >500</text>
<line x1="625.20" y1="223.50" x2="627.20" y2="223.50" stroke="#d86a72" stroke-width="0.8" />
<text x="630.00" y="241.81" font-size="11.5" fill="#cf5560" text-anchor="start" >0</text>
<line x1="625.20" y1="237.90" x2="627.20" y2="237.90" stroke="#d86a72" stroke-width="0.8" />
<text x="630.00" y="256.21" font-size="11.5" fill="#cf5560" text-anchor="start" >−500</text>
<line x1="625.20" y1="252.30" x2="627.20" y2="252.30" stroke="#d86a72" stroke-width="0.8" />
<text transform="translate(669.41,206.30) rotate(-90)" font-size="11.7" fill="#2a2a2a" text-anchor="middle">wall heat flux <tspan font-style="italic">q</tspan>/(kw·m<tspan dy="-3.5" font-size="6.5">−2</tspan><tspan dy="3.5">)</tspan></text>
<ellipse cx="625.20" cy="206.80" rx="1.3" ry="2.0" fill="#fff" stroke="#d86a72" stroke-width="0.8"/>
<text x="397.80" y="173.51" font-size="11.5" fill="#2a2a2a" text-anchor="start" >4.5 ms</text>
<line x1="495.25" y1="174.50" x2="507.50" y2="174.50" stroke="#8fcfa8" stroke-width="1.0" />
<line x1="495.25" y1="184.60" x2="507.50" y2="184.60" stroke="#c9cfe0" stroke-width="1.0" />
<line x1="495.25" y1="194.20" x2="507.50" y2="194.20" stroke="#6f84b0" stroke-width="1.0" />
<circle cx="501.38" cy="194.20" r="1.3" fill="#34508a"/>
<line x1="495.25" y1="204.30" x2="507.50" y2="204.30" stroke="#e0707e" stroke-width="1.0" />
<path d="M501.38,202.35 L502.88,205.35 L499.88,205.35 Z" fill="#bb1d36"/>
<text x="509.60" y="178.41" font-size="11.5" fill="#2a2a2a" text-anchor="start" >film size</text>
<text x="509.60" y="188.51" font-size="11.5" fill="#2a2a2a" text-anchor="start" >wall</text>
<text x="509.60" y="198.11" font-size="11.5" fill="#2a2a2a" text-anchor="start" >pressure</text>
<text x="509.60" y="208.21" font-size="11.5" fill="#2a2a2a" text-anchor="start" >wall heat flux</text>
<path d="M424.33,253.00 L448.92,250.50 L473.51,249.00 L498.09,249.00 L522.68,250.50 L547.27,253.00" fill="none" stroke="#dcc4cc" stroke-width="0.9"/>
<path d="M405.89,239.40 L407.12,244.70 L409.58,248.80 L416.34,251.30 L423.10,251.80 L429.87,250.20 L436.63,246.10 L442.16,242.00 L447.69,239.90 L453.84,241.30 L460.60,242.00 L468.59,243.30 L476.58,245.40 L487.03,247.40 L493.18,244.70 L502.76,242.70 L512.23,241.30 L519.18,240.30 L523.29,239.90 L528.70,242.70 L534.17,246.80 L542.35,250.20 L550.59,251.30 L558.76,249.50 L562.88,246.10 L565.58,240.60 L566.69,238.60" fill="none" stroke="#66b886" stroke-width="0.9"/>
<path d="M393.60,236.20 L396.60,236.16 L399.59,236.12 L402.59,236.09 L405.59,236.05 L408.58,236.01 L411.58,235.97 L414.58,235.94 L417.57,235.90 L420.28,235.00 L423.10,231.00 L425.81,227.60 L429.25,225.60 L432.57,226.70 L436.01,228.30 L439.52,229.70 L442.90,230.00 L445.74,230.00 L448.59,230.00 L451.44,230.00 L454.29,230.00 L457.14,230.00 L459.98,230.00 L462.69,229.00 L466.13,228.30 L469.51,228.00 L472.89,227.60 L475.72,227.20 L479.10,224.20 L481.07,201.00 L483.89,195.30 L487.03,194.80 L489.49,197.00 L491.33,210.00 L492.56,224.00 L495.88,227.60 L499.32,228.30 L502.70,228.30 L506.08,228.30 L509.59,229.00 L513.03,230.00 L515.87,230.00 L518.71,230.00 L521.54,230.00 L524.38,230.00 L527.22,230.00 L530.06,230.00 L533.50,229.00 L536.88,227.60 L540.32,226.30 L542.35,225.60 L546.47,229.00 L549.17,231.70 L551.88,234.50 L555.38,235.10 L558.61,235.10 L561.84,235.10 L565.07,235.10 L568.31,235.10 L571.54,235.10 L574.77,235.10 L578.00,235.10" fill="none" stroke="#44609a" stroke-width="1.0" stroke-linejoin="round"/>
<circle cx="393.60" cy="236.20" r="1.3" fill="#34508a"/>
<circle cx="396.60" cy="236.16" r="1.3" fill="#34508a"/>
<circle cx="399.59" cy="236.12" r="1.3" fill="#34508a"/>
<circle cx="402.59" cy="236.09" r="1.3" fill="#34508a"/>
<circle cx="405.59" cy="236.05" r="1.3" fill="#34508a"/>
<circle cx="408.58" cy="236.01" r="1.3" fill="#34508a"/>
<circle cx="411.58" cy="235.97" r="1.3" fill="#34508a"/>
<circle cx="414.58" cy="235.94" r="1.3" fill="#34508a"/>
<circle cx="417.57" cy="235.90" r="1.3" fill="#34508a"/>
<circle cx="420.28" cy="235.00" r="1.3" fill="#34508a"/>
<circle cx="423.10" cy="231.00" r="1.3" fill="#34508a"/>
<circle cx="425.81" cy="227.60" r="1.3" fill="#34508a"/>
<circle cx="429.25" cy="225.60" r="1.3" fill="#34508a"/>
<circle cx="432.57" cy="226.70" r="1.3" fill="#34508a"/>
<circle cx="436.01" cy="228.30" r="1.3" fill="#34508a"/>
<circle cx="439.52" cy="229.70" r="1.3" fill="#34508a"/>
<circle cx="442.90" cy="230.00" r="1.3" fill="#34508a"/>
<circle cx="445.74" cy="230.00" r="1.3" fill="#34508a"/>
<circle cx="448.59" cy="230.00" r="1.3" fill="#34508a"/>
<circle cx="451.44" cy="230.00" r="1.3" fill="#34508a"/>
<circle cx="454.29" cy="230.00" r="1.3" fill="#34508a"/>
<circle cx="457.14" cy="230.00" r="1.3" fill="#34508a"/>
<circle cx="459.98" cy="230.00" r="1.3" fill="#34508a"/>
<circle cx="462.69" cy="229.00" r="1.3" fill="#34508a"/>
<circle cx="466.13" cy="228.30" r="1.3" fill="#34508a"/>
<circle cx="469.51" cy="228.00" r="1.3" fill="#34508a"/>
<circle cx="472.89" cy="227.60" r="1.3" fill="#34508a"/>
<circle cx="475.72" cy="227.20" r="1.3" fill="#34508a"/>
<circle cx="479.10" cy="224.20" r="1.3" fill="#34508a"/>
<circle cx="481.07" cy="201.00" r="1.3" fill="#34508a"/>
<circle cx="483.89" cy="195.30" r="1.3" fill="#34508a"/>
<circle cx="487.03" cy="194.80" r="1.3" fill="#34508a"/>
<circle cx="489.49" cy="197.00" r="1.3" fill="#34508a"/>
<circle cx="491.33" cy="210.00" r="1.3" fill="#34508a"/>
<circle cx="492.56" cy="224.00" r="1.3" fill="#34508a"/>
<circle cx="495.88" cy="227.60" r="1.3" fill="#34508a"/>
<circle cx="499.32" cy="228.30" r="1.3" fill="#34508a"/>
<circle cx="502.70" cy="228.30" r="1.3" fill="#34508a"/>
<circle cx="506.08" cy="228.30" r="1.3" fill="#34508a"/>
<circle cx="509.59" cy="229.00" r="1.3" fill="#34508a"/>
<circle cx="513.03" cy="230.00" r="1.3" fill="#34508a"/>
<circle cx="515.87" cy="230.00" r="1.3" fill="#34508a"/>
<circle cx="518.71" cy="230.00" r="1.3" fill="#34508a"/>
<circle cx="521.54" cy="230.00" r="1.3" fill="#34508a"/>
<circle cx="524.38" cy="230.00" r="1.3" fill="#34508a"/>
<circle cx="527.22" cy="230.00" r="1.3" fill="#34508a"/>
<circle cx="530.06" cy="230.00" r="1.3" fill="#34508a"/>
<circle cx="533.50" cy="229.00" r="1.3" fill="#34508a"/>
<circle cx="536.88" cy="227.60" r="1.3" fill="#34508a"/>
<circle cx="540.32" cy="226.30" r="1.3" fill="#34508a"/>
<circle cx="542.35" cy="225.60" r="1.3" fill="#34508a"/>
<circle cx="546.47" cy="229.00" r="1.3" fill="#34508a"/>
<circle cx="549.17" cy="231.70" r="1.3" fill="#34508a"/>
<circle cx="551.88" cy="234.50" r="1.3" fill="#34508a"/>
<circle cx="555.38" cy="235.10" r="1.3" fill="#34508a"/>
<circle cx="558.61" cy="235.10" r="1.3" fill="#34508a"/>
<circle cx="561.84" cy="235.10" r="1.3" fill="#34508a"/>
<circle cx="565.07" cy="235.10" r="1.3" fill="#34508a"/>
<circle cx="568.31" cy="235.10" r="1.3" fill="#34508a"/>
<circle cx="571.54" cy="235.10" r="1.3" fill="#34508a"/>
<circle cx="574.77" cy="235.10" r="1.3" fill="#34508a"/>
<circle cx="578.00" cy="235.10" r="1.3" fill="#34508a"/>
<path d="M393.60,237.90 L397.10,237.20 L401.22,237.20 L405.28,236.20 L409.40,235.10 L413.52,234.50 L416.90,233.10 L420.28,229.70 L422.43,226.30 L425.81,226.90 L429.19,228.30 L432.57,230.00 L436.01,232.10 L439.52,233.80 L442.90,234.50 L446.28,234.50 L449.72,234.90 L453.10,235.80 L456.48,235.10 L459.98,234.50 L462.69,229.70 L466.13,228.30 L469.51,229.00 L472.89,229.70 L475.72,229.70 L479.10,223.50 L482.48,163.40 L485.80,176.40 L489.12,164.80 L492.50,224.20 L495.88,229.70 L499.32,229.00 L502.76,229.00 L506.21,228.30 L509.59,229.70 L513.03,234.50 L516.41,234.90 L519.79,234.50 L523.29,234.50 L526.68,234.50 L530.06,234.10 L533.50,233.10 L536.88,231.00 L540.32,229.00 L543.76,227.00 L546.47,226.30 L549.17,226.30 L551.88,231.00 L555.38,233.80 L558.76,234.90 L562.20,235.80 L565.58,236.50 L568.96,237.20 L572.41,237.60 L575.91,237.90 L578.00,237.90" fill="none" stroke="#d23a4e" stroke-width="1.0" stroke-linejoin="round"/>
<path d="M393.60,236.02 L395.05,238.91 L392.15,238.91 Z" fill="#bb1d36"/>
<path d="M397.10,235.31 L398.55,238.21 L395.65,238.21 Z" fill="#bb1d36"/>
<path d="M401.22,235.31 L402.67,238.21 L399.77,238.21 Z" fill="#bb1d36"/>
<path d="M405.28,234.31 L406.73,237.21 L403.83,237.21 Z" fill="#bb1d36"/>
<path d="M409.40,233.22 L410.85,236.11 L407.95,236.11 Z" fill="#bb1d36"/>
<path d="M413.52,232.62 L414.97,235.51 L412.07,235.51 Z" fill="#bb1d36"/>
<path d="M416.90,231.22 L418.35,234.11 L415.45,234.11 Z" fill="#bb1d36"/>
<path d="M420.28,227.81 L421.73,230.71 L418.83,230.71 Z" fill="#bb1d36"/>
<path d="M422.43,224.42 L423.88,227.31 L420.98,227.31 Z" fill="#bb1d36"/>
<path d="M425.81,225.02 L427.26,227.91 L424.36,227.91 Z" fill="#bb1d36"/>
<path d="M429.19,226.42 L430.64,229.31 L427.74,229.31 Z" fill="#bb1d36"/>
<path d="M432.57,228.12 L434.02,231.01 L431.12,231.01 Z" fill="#bb1d36"/>
<path d="M436.01,230.22 L437.46,233.11 L434.56,233.11 Z" fill="#bb1d36"/>
<path d="M439.52,231.92 L440.97,234.81 L438.07,234.81 Z" fill="#bb1d36"/>
<path d="M442.90,232.62 L444.35,235.51 L441.45,235.51 Z" fill="#bb1d36"/>
<path d="M446.28,232.62 L447.73,235.51 L444.83,235.51 Z" fill="#bb1d36"/>
<path d="M449.72,233.02 L451.17,235.91 L448.27,235.91 Z" fill="#bb1d36"/>
<path d="M453.10,233.92 L454.55,236.81 L451.65,236.81 Z" fill="#bb1d36"/>
<path d="M456.48,233.22 L457.93,236.11 L455.03,236.11 Z" fill="#bb1d36"/>
<path d="M459.98,232.62 L461.43,235.51 L458.53,235.51 Z" fill="#bb1d36"/>
<path d="M462.69,227.81 L464.14,230.71 L461.24,230.71 Z" fill="#bb1d36"/>
<path d="M466.13,226.42 L467.58,229.31 L464.68,229.31 Z" fill="#bb1d36"/>
<path d="M469.51,227.12 L470.96,230.01 L468.06,230.01 Z" fill="#bb1d36"/>
<path d="M472.89,227.81 L474.34,230.71 L471.44,230.71 Z" fill="#bb1d36"/>
<path d="M475.72,227.81 L477.17,230.71 L474.27,230.71 Z" fill="#bb1d36"/>
<path d="M479.10,221.62 L480.55,224.51 L477.65,224.51 Z" fill="#bb1d36"/>
<path d="M482.48,161.52 L483.93,164.41 L481.03,164.41 Z" fill="#bb1d36"/>
<path d="M485.80,174.52 L487.25,177.41 L484.35,177.41 Z" fill="#bb1d36"/>
<path d="M489.12,162.92 L490.57,165.81 L487.67,165.81 Z" fill="#bb1d36"/>
<path d="M492.50,222.31 L493.95,225.21 L491.05,225.21 Z" fill="#bb1d36"/>
<path d="M495.88,227.81 L497.33,230.71 L494.43,230.71 Z" fill="#bb1d36"/>
<path d="M499.32,227.12 L500.77,230.01 L497.87,230.01 Z" fill="#bb1d36"/>
<path d="M502.76,227.12 L504.21,230.01 L501.31,230.01 Z" fill="#bb1d36"/>
<path d="M506.21,226.42 L507.66,229.31 L504.76,229.31 Z" fill="#bb1d36"/>
<path d="M509.59,227.81 L511.04,230.71 L508.14,230.71 Z" fill="#bb1d36"/>
<path d="M513.03,232.62 L514.48,235.51 L511.58,235.51 Z" fill="#bb1d36"/>
<path d="M516.41,233.02 L517.86,235.91 L514.96,235.91 Z" fill="#bb1d36"/>
<path d="M519.79,232.62 L521.24,235.51 L518.34,235.51 Z" fill="#bb1d36"/>
<path d="M523.29,232.62 L524.74,235.51 L521.84,235.51 Z" fill="#bb1d36"/>
<path d="M526.68,232.62 L528.13,235.51 L525.23,235.51 Z" fill="#bb1d36"/>
<path d="M530.06,232.22 L531.51,235.11 L528.61,235.11 Z" fill="#bb1d36"/>
<path d="M533.50,231.22 L534.95,234.11 L532.05,234.11 Z" fill="#bb1d36"/>
<path d="M536.88,229.12 L538.33,232.01 L535.43,232.01 Z" fill="#bb1d36"/>
<path d="M540.32,227.12 L541.77,230.01 L538.87,230.01 Z" fill="#bb1d36"/>
<path d="M543.76,225.12 L545.21,228.01 L542.31,228.01 Z" fill="#bb1d36"/>
<path d="M546.47,224.42 L547.92,227.31 L545.02,227.31 Z" fill="#bb1d36"/>
<path d="M549.17,224.42 L550.62,227.31 L547.72,227.31 Z" fill="#bb1d36"/>
<path d="M551.88,229.12 L553.33,232.01 L550.43,232.01 Z" fill="#bb1d36"/>
<path d="M555.38,231.92 L556.83,234.81 L553.93,234.81 Z" fill="#bb1d36"/>
<path d="M558.76,233.02 L560.21,235.91 L557.31,235.91 Z" fill="#bb1d36"/>
<path d="M562.20,233.92 L563.65,236.81 L560.75,236.81 Z" fill="#bb1d36"/>
<path d="M565.58,234.62 L567.03,237.51 L564.13,237.51 Z" fill="#bb1d36"/>
<path d="M568.96,235.31 L570.41,238.21 L567.51,238.21 Z" fill="#bb1d36"/>
<path d="M572.41,235.72 L573.86,238.61 L570.96,238.61 Z" fill="#bb1d36"/>
<path d="M575.91,236.02 L577.36,238.91 L574.46,238.91 Z" fill="#bb1d36"/>
<path d="M578.00,236.02 L579.45,238.91 L576.55,238.91 Z" fill="#bb1d36"/>
<line x1="56.70" y1="309.10" x2="241.20" y2="309.10" stroke="#7a7a7a" stroke-width="1.1" />
<line x1="56.70" y1="400.50" x2="241.20" y2="400.50" stroke="#555" stroke-width="1.1" />
<line x1="56.70" y1="309.10" x2="56.70" y2="400.50" stroke="#9fd6b8" stroke-width="1.1" />
<line x1="241.20" y1="309.10" x2="241.20" y2="400.50" stroke="#8c9dbf" stroke-width="1.1" />
<line x1="56.70" y1="400.50" x2="56.70" y2="397.90" stroke="#555" stroke-width="0.8" />
<line x1="72.08" y1="400.50" x2="72.08" y2="398.70" stroke="#888" stroke-width="0.8" />
<line x1="87.45" y1="400.50" x2="87.45" y2="397.90" stroke="#555" stroke-width="0.8" />
<line x1="102.83" y1="400.50" x2="102.83" y2="398.70" stroke="#888" stroke-width="0.8" />
<line x1="118.20" y1="400.50" x2="118.20" y2="397.90" stroke="#555" stroke-width="0.8" />
<line x1="133.57" y1="400.50" x2="133.57" y2="398.70" stroke="#888" stroke-width="0.8" />
<line x1="148.95" y1="400.50" x2="148.95" y2="397.90" stroke="#555" stroke-width="0.8" />
<line x1="164.32" y1="400.50" x2="164.32" y2="398.70" stroke="#888" stroke-width="0.8" />
<line x1="179.70" y1="400.50" x2="179.70" y2="397.90" stroke="#555" stroke-width="0.8" />
<line x1="195.07" y1="400.50" x2="195.07" y2="398.70" stroke="#888" stroke-width="0.8" />
<line x1="210.45" y1="400.50" x2="210.45" y2="397.90" stroke="#555" stroke-width="0.8" />
<line x1="225.82" y1="400.50" x2="225.82" y2="398.70" stroke="#888" stroke-width="0.8" />
<line x1="241.20" y1="400.50" x2="241.20" y2="397.90" stroke="#555" stroke-width="0.8" />
<text x="56.70" y="413.71" font-size="11.5" fill="#2a2a2a" text-anchor="middle" >−1.5</text>
<text x="87.45" y="413.71" font-size="11.5" fill="#2a2a2a" text-anchor="middle" >−1.0</text>
<text x="118.20" y="413.71" font-size="11.5" fill="#2a2a2a" text-anchor="middle" >−0.5</text>
<text x="148.95" y="413.71" font-size="11.5" fill="#2a2a2a" text-anchor="middle" >0</text>
<text x="179.70" y="413.71" font-size="11.5" fill="#2a2a2a" text-anchor="middle" >0.5</text>
<text x="210.45" y="413.71" font-size="11.5" fill="#2a2a2a" text-anchor="middle" >1.0</text>
<text x="241.20" y="413.71" font-size="11.5" fill="#2a2a2a" text-anchor="middle" >1.5</text>
<text x="149.45" y="430.91" font-size="11.5" fill="#2a2a2a" text-anchor="middle" ><tspan font-style="italic">X</tspan> (mm)</text>
<text x="52.70" y="396.91" font-size="11.5" fill="#8fbfa2" text-anchor="end" >2.0</text>
<line x1="56.70" y1="393.00" x2="59.20" y2="393.00" stroke="#9fd6b8" stroke-width="0.8" />
<line x1="56.70" y1="386.86" x2="58.30" y2="386.86" stroke="#9fd6b8" stroke-width="0.7" />
<text x="52.70" y="384.62" font-size="11.5" fill="#8fbfa2" text-anchor="end" >2.2</text>
<line x1="56.70" y1="380.71" x2="59.20" y2="380.71" stroke="#9fd6b8" stroke-width="0.8" />
<line x1="56.70" y1="374.57" x2="58.30" y2="374.57" stroke="#9fd6b8" stroke-width="0.7" />
<text x="52.70" y="372.34" font-size="11.5" fill="#8fbfa2" text-anchor="end" >2.4</text>
<line x1="56.70" y1="368.43" x2="59.20" y2="368.43" stroke="#9fd6b8" stroke-width="0.8" />
<line x1="56.70" y1="362.29" x2="58.30" y2="362.29" stroke="#9fd6b8" stroke-width="0.7" />
<text x="52.70" y="360.05" font-size="11.5" fill="#8fbfa2" text-anchor="end" >2.6</text>
<line x1="56.70" y1="356.14" x2="59.20" y2="356.14" stroke="#9fd6b8" stroke-width="0.8" />
<line x1="56.70" y1="350.00" x2="58.30" y2="350.00" stroke="#9fd6b8" stroke-width="0.7" />
<text x="52.70" y="347.77" font-size="11.5" fill="#8fbfa2" text-anchor="end" >2.8</text>
<line x1="56.70" y1="343.86" x2="59.20" y2="343.86" stroke="#9fd6b8" stroke-width="0.8" />
<line x1="56.70" y1="337.71" x2="58.30" y2="337.71" stroke="#9fd6b8" stroke-width="0.7" />
<text x="52.70" y="335.48" font-size="11.5" fill="#8fbfa2" text-anchor="end" >3.0</text>
<line x1="56.70" y1="331.57" x2="59.20" y2="331.57" stroke="#9fd6b8" stroke-width="0.8" />
<line x1="56.70" y1="325.43" x2="58.30" y2="325.43" stroke="#9fd6b8" stroke-width="0.7" />
<text x="52.70" y="323.20" font-size="11.5" fill="#8fbfa2" text-anchor="end" >3.2</text>
<line x1="56.70" y1="319.29" x2="59.20" y2="319.29" stroke="#9fd6b8" stroke-width="0.8" />
<line x1="56.70" y1="313.14" x2="58.30" y2="313.14" stroke="#9fd6b8" stroke-width="0.7" />
<text x="52.70" y="310.91" font-size="11.5" fill="#8fbfa2" text-anchor="end" >3.4</text>
<line x1="56.70" y1="307.00" x2="59.20" y2="307.00" stroke="#9fd6b8" stroke-width="0.8" />
<text transform="translate(30.12,353.30) rotate(-90)" font-size="11.4" fill="#2a2a2a" text-anchor="middle">droplet height <tspan font-style="italic">H</tspan>/mm</text>
<text x="245.20" y="312.51" font-size="11.5" fill="#7286ab" text-anchor="start" >650</text>
<line x1="241.20" y1="308.60" x2="238.70" y2="308.60" stroke="#8c9dbf" stroke-width="0.8" />
<text x="245.20" y="326.91" font-size="11.5" fill="#7286ab" text-anchor="start" >600</text>
<line x1="241.20" y1="323.00" x2="238.70" y2="323.00" stroke="#8c9dbf" stroke-width="0.8" />
<text x="245.20" y="354.91" font-size="11.5" fill="#7286ab" text-anchor="start" >250</text>
<line x1="241.20" y1="351.00" x2="238.70" y2="351.00" stroke="#8c9dbf" stroke-width="0.8" />
<text x="245.20" y="377.21" font-size="11.5" fill="#7286ab" text-anchor="start" >50</text>
<line x1="241.20" y1="373.30" x2="238.70" y2="373.30" stroke="#8c9dbf" stroke-width="0.8" />
<text x="245.20" y="390.81" font-size="11.5" fill="#7286ab" text-anchor="start" >0</text>
<line x1="241.20" y1="386.90" x2="238.70" y2="386.90" stroke="#8c9dbf" stroke-width="0.8" />
<text x="245.20" y="403.61" font-size="11.5" fill="#7286ab" text-anchor="start" >−50</text>
<line x1="241.20" y1="399.70" x2="238.70" y2="399.70" stroke="#8c9dbf" stroke-width="0.8" />
<text transform="translate(274.71,354.00) rotate(-90)" font-size="11.7" fill="#2a2a2a" text-anchor="middle">Pressure <tspan font-style="italic">P</tspan>/pa</text>
<ellipse cx="241.20" cy="336.60" rx="1.3" ry="2.0" fill="#fff" stroke="#8c9dbf" stroke-width="0.8"/>
<ellipse cx="241.20" cy="364.80" rx="1.3" ry="2.0" fill="#fff" stroke="#8c9dbf" stroke-width="0.8"/>
<line x1="290.00" y1="307.00" x2="290.00" y2="400.50" stroke="#d86a72" stroke-width="1.0" />
<text x="294.70" y="311.71" font-size="11.5" fill="#cf5560" text-anchor="start" >8000</text>
<line x1="290.00" y1="307.80" x2="292.00" y2="307.80" stroke="#d86a72" stroke-width="0.8" />
<text x="294.70" y="321.71" font-size="11.5" fill="#cf5560" text-anchor="start" >7500</text>
<line x1="290.00" y1="317.80" x2="292.00" y2="317.80" stroke="#d86a72" stroke-width="0.8" />
<text x="294.70" y="331.71" font-size="11.5" fill="#cf5560" text-anchor="start" >7000</text>
<line x1="290.00" y1="327.80" x2="292.00" y2="327.80" stroke="#d86a72" stroke-width="0.8" />
<text x="294.70" y="341.71" font-size="11.5" fill="#cf5560" text-anchor="start" >6500</text>
<line x1="290.00" y1="337.80" x2="292.00" y2="337.80" stroke="#d86a72" stroke-width="0.8" />
<text x="294.70" y="351.71" font-size="11.5" fill="#cf5560" text-anchor="start" >6000</text>
<line x1="290.00" y1="347.80" x2="292.00" y2="347.80" stroke="#d86a72" stroke-width="0.8" />
<text x="294.70" y="361.61" font-size="11.5" fill="#cf5560" text-anchor="start" >5500</text>
<line x1="290.00" y1="357.70" x2="292.00" y2="357.70" stroke="#d86a72" stroke-width="0.8" />
<text x="294.70" y="371.61" font-size="11.5" fill="#cf5560" text-anchor="start" >1750</text>
<line x1="290.00" y1="367.70" x2="292.00" y2="367.70" stroke="#d86a72" stroke-width="0.8" />
<text x="294.70" y="381.81" font-size="11.5" fill="#cf5560" text-anchor="start" >1500</text>
<line x1="290.00" y1="377.90" x2="292.00" y2="377.90" stroke="#d86a72" stroke-width="0.8" />
<text x="294.70" y="391.61" font-size="11.5" fill="#cf5560" text-anchor="start" >1250</text>
<line x1="290.00" y1="387.70" x2="292.00" y2="387.70" stroke="#d86a72" stroke-width="0.8" />
<text x="294.70" y="403.61" font-size="11.5" fill="#cf5560" text-anchor="start" >0</text>
<line x1="290.00" y1="399.70" x2="292.00" y2="399.70" stroke="#d86a72" stroke-width="0.8" />
<text transform="translate(333.51,354.80) rotate(-90)" font-size="11.7" fill="#2a2a2a" text-anchor="middle">wall heat flux <tspan font-style="italic">q</tspan>/(kw·m<tspan dy="-3.5" font-size="6.5">−2</tspan><tspan dy="3.5">)</tspan></text>
<ellipse cx="290.00" cy="368.30" rx="1.3" ry="2.0" fill="#fff" stroke="#d86a72" stroke-width="0.8"/>
<ellipse cx="290.00" cy="388.60" rx="1.3" ry="2.0" fill="#fff" stroke="#d86a72" stroke-width="0.8"/>
<text x="62.50" y="319.81" font-size="11.5" fill="#2a2a2a" text-anchor="start" >6.0 ms</text>
<line x1="158.50" y1="319.00" x2="172.60" y2="319.00" stroke="#8fcfa8" stroke-width="1.0" />
<line x1="158.50" y1="328.00" x2="172.60" y2="328.00" stroke="#c9cfe0" stroke-width="1.0" />
<line x1="158.50" y1="338.50" x2="172.60" y2="338.50" stroke="#6f84b0" stroke-width="1.0" />
<circle cx="165.55" cy="338.50" r="1.3" fill="#34508a"/>
<line x1="158.50" y1="348.40" x2="172.60" y2="348.40" stroke="#e0707e" stroke-width="1.0" />
<path d="M165.55,346.45 L167.05,349.45 L164.05,349.45 Z" fill="#bb1d36"/>
<text x="174.00" y="322.91" font-size="11.5" fill="#2a2a2a" text-anchor="start" >film size</text>
<text x="174.00" y="331.91" font-size="11.5" fill="#2a2a2a" text-anchor="start" >wall</text>
<text x="174.00" y="342.41" font-size="11.5" fill="#2a2a2a" text-anchor="start" >pressure</text>
<text x="174.00" y="352.31" font-size="11.5" fill="#2a2a2a" text-anchor="start" >wall heat flux</text>
<path d="M87.45,400.40 L118.20,398.60 L148.95,397.80 L179.70,398.60 L210.45,400.40" fill="none" stroke="#dcc4cc" stroke-width="0.9"/>
<path d="M78.23,388.00 L80.07,392.00 L82.59,396.50 L86.22,397.90 L89.91,396.50 L93.60,392.40 L100.37,388.30 L108.36,384.20 L116.35,379.40 L124.35,373.90 L131.73,367.10 L137.27,363.70 L140.34,363.30 L143.41,367.10 L146.18,380.80 L148.95,393.60 L152.03,378.00 L155.10,367.10 L158.91,363.30 L162.97,364.40 L168.51,369.80 L175.27,375.30 L182.16,380.80 L188.99,385.60 L195.81,390.30 L202.70,394.40 L208.11,397.20 L212.23,395.80 L216.29,390.30 L219.00,386.20" fill="none" stroke="#66b886" stroke-width="0.9"/>
<path d="M56.70,386.90 L59.92,386.96 L63.13,387.01 L66.35,387.07 L69.56,387.13 L72.78,387.19 L75.99,387.24 L79.21,387.30 L82.59,388.30 L86.10,387.60 L89.48,383.50 L92.19,381.90 L95.63,379.40 L99.01,378.70 L102.11,378.65 L105.21,378.59 L108.31,378.54 L111.41,378.48 L114.51,378.43 L117.60,378.38 L120.70,378.32 L123.80,378.27 L126.90,378.22 L130.00,378.16 L133.10,378.11 L136.20,378.05 L139.29,378.00 L142.12,376.70 L145.51,345.00 L148.95,315.20 L152.03,345.00 L154.79,378.00 L158.18,378.00 L161.15,378.05 L164.13,378.10 L167.11,378.15 L170.09,378.20 L173.07,378.25 L176.05,378.30 L179.02,378.35 L182.00,378.40 L184.98,378.45 L187.96,378.50 L190.94,378.55 L193.92,378.60 L196.89,378.65 L199.87,378.70 L203.32,380.10 L206.76,382.80 L210.20,384.90 L212.91,387.60 L215.62,387.30 L218.81,387.25 L222.01,387.20 L225.21,387.15 L228.41,387.10 L231.61,387.05 L234.80,387.00 L238.00,386.95 L241.20,386.90" fill="none" stroke="#44609a" stroke-width="1.0" stroke-linejoin="round"/>
<circle cx="56.70" cy="386.90" r="1.3" fill="#34508a"/>
<circle cx="59.92" cy="386.96" r="1.3" fill="#34508a"/>
<circle cx="63.13" cy="387.01" r="1.3" fill="#34508a"/>
<circle cx="66.35" cy="387.07" r="1.3" fill="#34508a"/>
<circle cx="69.56" cy="387.13" r="1.3" fill="#34508a"/>
<circle cx="72.78" cy="387.19" r="1.3" fill="#34508a"/>
<circle cx="75.99" cy="387.24" r="1.3" fill="#34508a"/>
<circle cx="79.21" cy="387.30" r="1.3" fill="#34508a"/>
<circle cx="82.59" cy="388.30" r="1.3" fill="#34508a"/>
<circle cx="86.10" cy="387.60" r="1.3" fill="#34508a"/>
<circle cx="89.48" cy="383.50" r="1.3" fill="#34508a"/>
<circle cx="92.19" cy="381.90" r="1.3" fill="#34508a"/>
<circle cx="95.63" cy="379.40" r="1.3" fill="#34508a"/>
<circle cx="99.01" cy="378.70" r="1.3" fill="#34508a"/>
<circle cx="102.11" cy="378.65" r="1.3" fill="#34508a"/>
<circle cx="105.21" cy="378.59" r="1.3" fill="#34508a"/>
<circle cx="108.31" cy="378.54" r="1.3" fill="#34508a"/>
<circle cx="111.41" cy="378.48" r="1.3" fill="#34508a"/>
<circle cx="114.51" cy="378.43" r="1.3" fill="#34508a"/>
<circle cx="117.60" cy="378.38" r="1.3" fill="#34508a"/>
<circle cx="120.70" cy="378.32" r="1.3" fill="#34508a"/>
<circle cx="123.80" cy="378.27" r="1.3" fill="#34508a"/>
<circle cx="126.90" cy="378.22" r="1.3" fill="#34508a"/>
<circle cx="130.00" cy="378.16" r="1.3" fill="#34508a"/>
<circle cx="133.10" cy="378.11" r="1.3" fill="#34508a"/>
<circle cx="136.20" cy="378.05" r="1.3" fill="#34508a"/>
<circle cx="139.29" cy="378.00" r="1.3" fill="#34508a"/>
<circle cx="142.12" cy="376.70" r="1.3" fill="#34508a"/>
<circle cx="145.51" cy="345.00" r="1.3" fill="#34508a"/>
<circle cx="148.95" cy="315.20" r="1.3" fill="#34508a"/>
<circle cx="152.03" cy="345.00" r="1.3" fill="#34508a"/>
<circle cx="154.79" cy="378.00" r="1.3" fill="#34508a"/>
<circle cx="158.18" cy="378.00" r="1.3" fill="#34508a"/>
<circle cx="161.15" cy="378.05" r="1.3" fill="#34508a"/>
<circle cx="164.13" cy="378.10" r="1.3" fill="#34508a"/>
<circle cx="167.11" cy="378.15" r="1.3" fill="#34508a"/>
<circle cx="170.09" cy="378.20" r="1.3" fill="#34508a"/>
<circle cx="173.07" cy="378.25" r="1.3" fill="#34508a"/>
<circle cx="176.05" cy="378.30" r="1.3" fill="#34508a"/>
<circle cx="179.02" cy="378.35" r="1.3" fill="#34508a"/>
<circle cx="182.00" cy="378.40" r="1.3" fill="#34508a"/>
<circle cx="184.98" cy="378.45" r="1.3" fill="#34508a"/>
<circle cx="187.96" cy="378.50" r="1.3" fill="#34508a"/>
<circle cx="190.94" cy="378.55" r="1.3" fill="#34508a"/>
<circle cx="193.92" cy="378.60" r="1.3" fill="#34508a"/>
<circle cx="196.89" cy="378.65" r="1.3" fill="#34508a"/>
<circle cx="199.87" cy="378.70" r="1.3" fill="#34508a"/>
<circle cx="203.32" cy="380.10" r="1.3" fill="#34508a"/>
<circle cx="206.76" cy="382.80" r="1.3" fill="#34508a"/>
<circle cx="210.20" cy="384.90" r="1.3" fill="#34508a"/>
<circle cx="212.91" cy="387.60" r="1.3" fill="#34508a"/>
<circle cx="215.62" cy="387.30" r="1.3" fill="#34508a"/>
<circle cx="218.81" cy="387.25" r="1.3" fill="#34508a"/>
<circle cx="222.01" cy="387.20" r="1.3" fill="#34508a"/>
<circle cx="225.21" cy="387.15" r="1.3" fill="#34508a"/>
<circle cx="228.41" cy="387.10" r="1.3" fill="#34508a"/>
<circle cx="231.61" cy="387.05" r="1.3" fill="#34508a"/>
<circle cx="234.80" cy="387.00" r="1.3" fill="#34508a"/>
<circle cx="238.00" cy="386.95" r="1.3" fill="#34508a"/>
<circle cx="241.20" cy="386.90" r="1.3" fill="#34508a"/>
<path d="M56.70,398.30 L59.78,398.20 L62.85,398.10 L65.92,398.00 L69.00,397.90 L72.38,397.20 L75.77,396.50 L79.21,395.10 L82.59,392.40 L85.42,387.60 L88.80,380.10 L91.82,386.20 L95.63,393.10 L99.01,396.10 L102.52,396.90 L105.90,397.20 L109.30,397.38 L112.70,397.55 L116.09,397.72 L119.49,397.90 L123.00,397.20 L126.38,396.50 L129.82,395.10 L133.21,394.40 L136.65,395.10 L139.29,395.80 L142.12,378.00 L145.51,348.70 L148.95,332.50 L152.09,348.00 L155.53,378.00 L158.91,396.50 L162.30,395.10 L165.80,394.40 L169.18,395.80 L172.63,397.20 L176.01,398.30 L178.86,398.12 L181.71,397.93 L184.56,397.75 L187.41,397.57 L190.26,397.38 L193.11,397.20 L196.49,395.80 L199.87,394.40 L202.70,392.40 L206.08,386.20 L209.22,379.40 L212.23,386.90 L215.62,393.10 L219.00,395.80 L222.50,397.20 L225.82,398.30 L228.90,398.30 L231.98,398.30 L235.05,398.30 L238.12,398.30 L241.20,398.30" fill="none" stroke="#d23a4e" stroke-width="1.0" stroke-linejoin="round"/>
<path d="M56.70,396.42 L58.15,399.31 L55.25,399.31 Z" fill="#bb1d36"/>
<path d="M59.78,396.31 L61.23,399.21 L58.33,399.21 Z" fill="#bb1d36"/>
<path d="M62.85,396.22 L64.30,399.12 L61.40,399.12 Z" fill="#bb1d36"/>
<path d="M65.92,396.12 L67.38,399.01 L64.47,399.01 Z" fill="#bb1d36"/>
<path d="M69.00,396.01 L70.45,398.91 L67.55,398.91 Z" fill="#bb1d36"/>
<path d="M72.38,395.31 L73.83,398.21 L70.93,398.21 Z" fill="#bb1d36"/>
<path d="M75.77,394.62 L77.22,397.51 L74.31,397.51 Z" fill="#bb1d36"/>
<path d="M79.21,393.22 L80.66,396.12 L77.76,396.12 Z" fill="#bb1d36"/>
<path d="M82.59,390.51 L84.04,393.41 L81.14,393.41 Z" fill="#bb1d36"/>
<path d="M85.42,385.72 L86.87,388.62 L83.97,388.62 Z" fill="#bb1d36"/>
<path d="M88.80,378.22 L90.25,381.12 L87.35,381.12 Z" fill="#bb1d36"/>
<path d="M91.82,384.31 L93.27,387.21 L90.37,387.21 Z" fill="#bb1d36"/>
<path d="M95.63,391.22 L97.08,394.12 L94.18,394.12 Z" fill="#bb1d36"/>
<path d="M99.01,394.22 L100.46,397.12 L97.56,397.12 Z" fill="#bb1d36"/>
<path d="M102.52,395.01 L103.97,397.91 L101.07,397.91 Z" fill="#bb1d36"/>
<path d="M105.90,395.31 L107.35,398.21 L104.45,398.21 Z" fill="#bb1d36"/>
<path d="M109.30,395.49 L110.75,398.39 L107.85,398.39 Z" fill="#bb1d36"/>
<path d="M112.70,395.66 L114.15,398.56 L111.25,398.56 Z" fill="#bb1d36"/>
<path d="M116.09,395.84 L117.54,398.74 L114.64,398.74 Z" fill="#bb1d36"/>
<path d="M119.49,396.01 L120.94,398.91 L118.04,398.91 Z" fill="#bb1d36"/>
<path d="M123.00,395.31 L124.45,398.21 L121.55,398.21 Z" fill="#bb1d36"/>
<path d="M126.38,394.62 L127.83,397.51 L124.93,397.51 Z" fill="#bb1d36"/>
<path d="M129.82,393.22 L131.27,396.12 L128.37,396.12 Z" fill="#bb1d36"/>
<path d="M133.21,392.51 L134.66,395.41 L131.76,395.41 Z" fill="#bb1d36"/>
<path d="M136.65,393.22 L138.10,396.12 L135.20,396.12 Z" fill="#bb1d36"/>
<path d="M139.29,393.92 L140.74,396.81 L137.84,396.81 Z" fill="#bb1d36"/>
<path d="M142.12,376.12 L143.57,379.01 L140.67,379.01 Z" fill="#bb1d36"/>
<path d="M145.51,346.81 L146.96,349.71 L144.06,349.71 Z" fill="#bb1d36"/>
<path d="M148.95,330.62 L150.40,333.51 L147.50,333.51 Z" fill="#bb1d36"/>
<path d="M152.09,346.12 L153.54,349.01 L150.64,349.01 Z" fill="#bb1d36"/>
<path d="M155.53,376.12 L156.98,379.01 L154.08,379.01 Z" fill="#bb1d36"/>
<path d="M158.91,394.62 L160.36,397.51 L157.46,397.51 Z" fill="#bb1d36"/>
<path d="M162.30,393.22 L163.75,396.12 L160.85,396.12 Z" fill="#bb1d36"/>
<path d="M165.80,392.51 L167.25,395.41 L164.35,395.41 Z" fill="#bb1d36"/>
<path d="M169.18,393.92 L170.63,396.81 L167.73,396.81 Z" fill="#bb1d36"/>
<path d="M172.63,395.31 L174.08,398.21 L171.18,398.21 Z" fill="#bb1d36"/>
<path d="M176.01,396.42 L177.46,399.31 L174.56,399.31 Z" fill="#bb1d36"/>
<path d="M178.86,396.23 L180.31,399.13 L177.41,399.13 Z" fill="#bb1d36"/>
<path d="M181.71,396.05 L183.16,398.95 L180.26,398.95 Z" fill="#bb1d36"/>
<path d="M184.56,395.87 L186.01,398.76 L183.11,398.76 Z" fill="#bb1d36"/>
<path d="M187.41,395.68 L188.86,398.58 L185.96,398.58 Z" fill="#bb1d36"/>
<path d="M190.26,395.50 L191.71,398.40 L188.81,398.40 Z" fill="#bb1d36"/>
<path d="M193.11,395.31 L194.56,398.21 L191.66,398.21 Z" fill="#bb1d36"/>
<path d="M196.49,393.92 L197.94,396.81 L195.04,396.81 Z" fill="#bb1d36"/>
<path d="M199.87,392.51 L201.32,395.41 L198.42,395.41 Z" fill="#bb1d36"/>
<path d="M202.70,390.51 L204.15,393.41 L201.25,393.41 Z" fill="#bb1d36"/>
<path d="M206.08,384.31 L207.53,387.21 L204.63,387.21 Z" fill="#bb1d36"/>
<path d="M209.22,377.51 L210.67,380.41 L207.77,380.41 Z" fill="#bb1d36"/>
<path d="M212.23,385.01 L213.68,387.91 L210.78,387.91 Z" fill="#bb1d36"/>
<path d="M215.62,391.22 L217.07,394.12 L214.17,394.12 Z" fill="#bb1d36"/>
<path d="M219.00,393.92 L220.45,396.81 L217.55,396.81 Z" fill="#bb1d36"/>
<path d="M222.50,395.31 L223.95,398.21 L221.05,398.21 Z" fill="#bb1d36"/>
<path d="M225.82,396.42 L227.27,399.31 L224.38,399.31 Z" fill="#bb1d36"/>
<path d="M228.90,396.42 L230.35,399.31 L227.45,399.31 Z" fill="#bb1d36"/>
<path d="M231.98,396.42 L233.43,399.31 L230.53,399.31 Z" fill="#bb1d36"/>
<path d="M235.05,396.42 L236.50,399.31 L233.60,399.31 Z" fill="#bb1d36"/>
<path d="M238.12,396.42 L239.57,399.31 L236.68,399.31 Z" fill="#bb1d36"/>
<path d="M241.20,396.42 L242.65,399.31 L239.75,399.31 Z" fill="#bb1d36"/>
<line x1="393.60" y1="308.60" x2="577.70" y2="308.60" stroke="#7a7a7a" stroke-width="1.1" />
<line x1="393.60" y1="400.60" x2="577.70" y2="400.60" stroke="#555" stroke-width="1.1" />
<line x1="393.60" y1="308.60" x2="393.60" y2="400.60" stroke="#9fd6b8" stroke-width="1.1" />
<line x1="577.70" y1="308.60" x2="577.70" y2="400.60" stroke="#8c9dbf" stroke-width="1.1" />
<line x1="393.60" y1="400.60" x2="393.60" y2="398.00" stroke="#555" stroke-width="0.8" />
<line x1="408.94" y1="400.60" x2="408.94" y2="398.80" stroke="#888" stroke-width="0.8" />
<line x1="424.28" y1="400.60" x2="424.28" y2="398.00" stroke="#555" stroke-width="0.8" />
<line x1="439.62" y1="400.60" x2="439.62" y2="398.80" stroke="#888" stroke-width="0.8" />
<line x1="454.97" y1="400.60" x2="454.97" y2="398.00" stroke="#555" stroke-width="0.8" />
<line x1="470.31" y1="400.60" x2="470.31" y2="398.80" stroke="#888" stroke-width="0.8" />
<line x1="485.65" y1="400.60" x2="485.65" y2="398.00" stroke="#555" stroke-width="0.8" />
<line x1="500.99" y1="400.60" x2="500.99" y2="398.80" stroke="#888" stroke-width="0.8" />
<line x1="516.33" y1="400.60" x2="516.33" y2="398.00" stroke="#555" stroke-width="0.8" />
<line x1="531.68" y1="400.60" x2="531.68" y2="398.80" stroke="#888" stroke-width="0.8" />
<line x1="547.02" y1="400.60" x2="547.02" y2="398.00" stroke="#555" stroke-width="0.8" />
<line x1="562.36" y1="400.60" x2="562.36" y2="398.80" stroke="#888" stroke-width="0.8" />
<line x1="577.70" y1="400.60" x2="577.70" y2="398.00" stroke="#555" stroke-width="0.8" />
<text x="393.60" y="413.81" font-size="11.5" fill="#2a2a2a" text-anchor="middle" >−1.5</text>
<text x="424.28" y="413.81" font-size="11.5" fill="#2a2a2a" text-anchor="middle" >−1.0</text>
<text x="454.97" y="413.81" font-size="11.5" fill="#2a2a2a" text-anchor="middle" >−0.5</text>
<text x="485.65" y="413.81" font-size="11.5" fill="#2a2a2a" text-anchor="middle" >0</text>
<text x="516.33" y="413.81" font-size="11.5" fill="#2a2a2a" text-anchor="middle" >0.5</text>
<text x="547.02" y="413.81" font-size="11.5" fill="#2a2a2a" text-anchor="middle" >1.0</text>
<text x="577.70" y="413.81" font-size="11.5" fill="#2a2a2a" text-anchor="middle" >1.5</text>
<text x="486.15" y="431.01" font-size="11.5" fill="#2a2a2a" text-anchor="middle" ><tspan font-style="italic">X</tspan> (mm)</text>
<text x="389.60" y="396.61" font-size="11.5" fill="#8fbfa2" text-anchor="end" >2.0</text>
<line x1="393.60" y1="392.70" x2="396.10" y2="392.70" stroke="#9fd6b8" stroke-width="0.8" />
<line x1="393.60" y1="386.52" x2="395.20" y2="386.52" stroke="#9fd6b8" stroke-width="0.7" />
<text x="389.60" y="384.25" font-size="11.5" fill="#8fbfa2" text-anchor="end" >2.2</text>
<line x1="393.60" y1="380.34" x2="396.10" y2="380.34" stroke="#9fd6b8" stroke-width="0.8" />
<line x1="393.60" y1="374.16" x2="395.20" y2="374.16" stroke="#9fd6b8" stroke-width="0.7" />
<text x="389.60" y="371.90" font-size="11.5" fill="#8fbfa2" text-anchor="end" >2.4</text>
<line x1="393.60" y1="367.99" x2="396.10" y2="367.99" stroke="#9fd6b8" stroke-width="0.8" />
<line x1="393.60" y1="361.81" x2="395.20" y2="361.81" stroke="#9fd6b8" stroke-width="0.7" />
<text x="389.60" y="359.54" font-size="11.5" fill="#8fbfa2" text-anchor="end" >2.6</text>
<line x1="393.60" y1="355.63" x2="396.10" y2="355.63" stroke="#9fd6b8" stroke-width="0.8" />
<line x1="393.60" y1="349.45" x2="395.20" y2="349.45" stroke="#9fd6b8" stroke-width="0.7" />
<text x="389.60" y="347.18" font-size="11.5" fill="#8fbfa2" text-anchor="end" >2.8</text>
<line x1="393.60" y1="343.27" x2="396.10" y2="343.27" stroke="#9fd6b8" stroke-width="0.8" />
<line x1="393.60" y1="337.09" x2="395.20" y2="337.09" stroke="#9fd6b8" stroke-width="0.7" />
<text x="389.60" y="334.82" font-size="11.5" fill="#8fbfa2" text-anchor="end" >3.0</text>
<line x1="393.60" y1="330.91" x2="396.10" y2="330.91" stroke="#9fd6b8" stroke-width="0.8" />
<line x1="393.60" y1="324.74" x2="395.20" y2="324.74" stroke="#9fd6b8" stroke-width="0.7" />
<text x="389.60" y="322.47" font-size="11.5" fill="#8fbfa2" text-anchor="end" >3.2</text>
<line x1="393.60" y1="318.56" x2="396.10" y2="318.56" stroke="#9fd6b8" stroke-width="0.8" />
<line x1="393.60" y1="312.38" x2="395.20" y2="312.38" stroke="#9fd6b8" stroke-width="0.7" />
<text x="389.60" y="310.11" font-size="11.5" fill="#8fbfa2" text-anchor="end" >3.4</text>
<line x1="393.60" y1="306.20" x2="396.10" y2="306.20" stroke="#9fd6b8" stroke-width="0.8" />
<text transform="translate(367.02,353.10) rotate(-90)" font-size="11.4" fill="#2a2a2a" text-anchor="middle">droplet height <tspan font-style="italic">H</tspan>/mm</text>
<text x="582.80" y="311.69" font-size="11.5" fill="#7286ab" text-anchor="start" >1200</text>
<line x1="577.70" y1="307.78" x2="575.20" y2="307.78" stroke="#8c9dbf" stroke-width="0.8" />
<text x="582.80" y="327.01" font-size="11.5" fill="#7286ab" text-anchor="start" >1000</text>
<line x1="577.70" y1="323.10" x2="575.20" y2="323.10" stroke="#8c9dbf" stroke-width="0.8" />
<text x="582.80" y="342.33" font-size="11.5" fill="#7286ab" text-anchor="start" >800</text>
<line x1="577.70" y1="338.42" x2="575.20" y2="338.42" stroke="#8c9dbf" stroke-width="0.8" />
<text x="582.80" y="357.65" font-size="11.5" fill="#7286ab" text-anchor="start" >600</text>
<line x1="577.70" y1="353.74" x2="575.20" y2="353.74" stroke="#8c9dbf" stroke-width="0.8" />
<text x="582.80" y="372.97" font-size="11.5" fill="#7286ab" text-anchor="start" >400</text>
<line x1="577.70" y1="369.06" x2="575.20" y2="369.06" stroke="#8c9dbf" stroke-width="0.8" />
<text x="582.80" y="388.29" font-size="11.5" fill="#7286ab" text-anchor="start" >200</text>
<line x1="577.70" y1="384.38" x2="575.20" y2="384.38" stroke="#8c9dbf" stroke-width="0.8" />
<text x="582.80" y="403.61" font-size="11.5" fill="#7286ab" text-anchor="start" >0</text>
<line x1="577.70" y1="399.70" x2="575.20" y2="399.70" stroke="#8c9dbf" stroke-width="0.8" />
<text transform="translate(615.91,354.20) rotate(-90)" font-size="11.7" fill="#2a2a2a" text-anchor="middle">Pressure <tspan font-style="italic">P</tspan>/pa</text>
<line x1="627.60" y1="307.80" x2="627.60" y2="400.50" stroke="#d86a72" stroke-width="1.0" />
<text x="633.20" y="311.69" font-size="11.5" fill="#cf5560" text-anchor="start" >8000</text>
<line x1="627.60" y1="307.78" x2="629.60" y2="307.78" stroke="#d86a72" stroke-width="0.8" />
<text x="633.20" y="323.18" font-size="11.5" fill="#cf5560" text-anchor="start" >7000</text>
<line x1="627.60" y1="319.27" x2="629.60" y2="319.27" stroke="#d86a72" stroke-width="0.8" />
<text x="633.20" y="334.67" font-size="11.5" fill="#cf5560" text-anchor="start" >6000</text>
<line x1="627.60" y1="330.76" x2="629.60" y2="330.76" stroke="#d86a72" stroke-width="0.8" />
<text x="633.20" y="346.16" font-size="11.5" fill="#cf5560" text-anchor="start" >5000</text>
<line x1="627.60" y1="342.25" x2="629.60" y2="342.25" stroke="#d86a72" stroke-width="0.8" />
<text x="633.20" y="357.65" font-size="11.5" fill="#cf5560" text-anchor="start" >4000</text>
<line x1="627.60" y1="353.74" x2="629.60" y2="353.74" stroke="#d86a72" stroke-width="0.8" />
<text x="633.20" y="369.14" font-size="11.5" fill="#cf5560" text-anchor="start" >3000</text>
<line x1="627.60" y1="365.23" x2="629.60" y2="365.23" stroke="#d86a72" stroke-width="0.8" />
<text x="633.20" y="380.63" font-size="11.5" fill="#cf5560" text-anchor="start" >2000</text>
<line x1="627.60" y1="376.72" x2="629.60" y2="376.72" stroke="#d86a72" stroke-width="0.8" />
<text x="633.20" y="392.12" font-size="11.5" fill="#cf5560" text-anchor="start" >1000</text>
<line x1="627.60" y1="388.21" x2="629.60" y2="388.21" stroke="#d86a72" stroke-width="0.8" />
<text x="633.20" y="403.61" font-size="11.5" fill="#cf5560" text-anchor="start" >0</text>
<line x1="627.60" y1="399.70" x2="629.60" y2="399.70" stroke="#d86a72" stroke-width="0.8" />
<text transform="translate(672.61,353.30) rotate(-90)" font-size="11.7" fill="#2a2a2a" text-anchor="middle">wall heat flux <tspan font-style="italic">q</tspan>/(kw·m<tspan dy="-3.5" font-size="6.5">−2</tspan><tspan dy="3.5">)</tspan></text>
<text x="398.70" y="319.61" font-size="11.5" fill="#2a2a2a" text-anchor="start" >7.5 ms</text>
<line x1="513.80" y1="320.60" x2="527.80" y2="320.60" stroke="#8fcfa8" stroke-width="1.0" />
<line x1="513.80" y1="331.00" x2="527.80" y2="331.00" stroke="#c9cfe0" stroke-width="1.0" />
<line x1="513.80" y1="340.00" x2="527.80" y2="340.00" stroke="#6f84b0" stroke-width="1.0" />
<circle cx="520.80" cy="340.00" r="1.3" fill="#34508a"/>
<line x1="513.80" y1="349.60" x2="527.80" y2="349.60" stroke="#e0707e" stroke-width="1.0" />
<path d="M520.80,347.65 L522.30,350.65 L519.30,350.65 Z" fill="#bb1d36"/>
<text x="529.50" y="324.51" font-size="11.5" fill="#2a2a2a" text-anchor="start" >film size</text>
<text x="529.50" y="334.91" font-size="11.5" fill="#2a2a2a" text-anchor="start" >wall</text>
<text x="529.50" y="343.91" font-size="11.5" fill="#2a2a2a" text-anchor="start" >pressure</text>
<text x="529.50" y="353.51" font-size="11.5" fill="#2a2a2a" text-anchor="start" >wall heat</text>
<text x="529.50" y="363.61" font-size="11.5" fill="#2a2a2a" text-anchor="start" >flux</text>
<path d="M428.58,363.00 L430.11,375.30 L435.33,383.50 L442.69,388.30 L450.36,389.00 L457.24,389.00 L459.88,390.30 L461.41,394.40 L485.65,393.10 L508.17,394.40 L510.20,390.30 L513.69,389.00 L520.51,389.00 L525.97,388.30 L532.78,384.90 L538.30,379.40 L541.68,372.60 L543.76,364.40" fill="none" stroke="#66b886" stroke-width="0.9"/>
<path d="M393.60,399.30 L396.69,399.30 L399.79,399.30 L402.88,399.30 L405.98,399.30 L409.07,399.30 L412.17,399.30 L415.26,399.30 L418.36,399.30 L421.45,399.30 L424.55,399.30 L427.64,399.30 L430.74,399.30 L433.83,399.30 L436.92,399.30 L440.02,399.30 L443.11,399.30 L446.21,399.30 L449.30,399.30 L452.40,399.30 L455.49,399.30 L458.59,399.30 L462.02,320.00 L465.40,320.70 L468.77,330.90 L472.21,332.30 L475.71,334.30 L479.08,351.40 L482.52,352.10 L485.65,339.80 L489.09,352.10 L492.46,351.40 L495.90,334.30 L499.27,331.60 L502.46,330.90 L505.47,320.70 L509.28,320.00 L512.28,399.30 L515.40,399.30 L518.51,399.30 L521.63,399.30 L524.74,399.30 L527.86,399.30 L530.97,399.30 L534.09,399.30 L537.20,399.30 L540.32,399.30 L543.43,399.30 L546.55,399.30 L549.66,399.30 L552.78,399.30 L555.89,399.30 L559.01,399.30 L562.12,399.30 L565.24,399.30 L568.35,399.30 L571.47,399.30 L574.58,399.30 L577.70,399.30" fill="none" stroke="#44609a" stroke-width="1.0" stroke-linejoin="round"/>
<circle cx="462.02" cy="320.00" r="1.3" fill="#34508a"/>
<circle cx="465.40" cy="320.70" r="1.3" fill="#34508a"/>
<circle cx="468.77" cy="330.90" r="1.3" fill="#34508a"/>
<circle cx="472.21" cy="332.30" r="1.3" fill="#34508a"/>
<circle cx="475.71" cy="334.30" r="1.3" fill="#34508a"/>
<circle cx="479.08" cy="351.40" r="1.3" fill="#34508a"/>
<circle cx="482.52" cy="352.10" r="1.3" fill="#34508a"/>
<circle cx="485.65" cy="339.80" r="1.3" fill="#34508a"/>
<circle cx="489.09" cy="352.10" r="1.3" fill="#34508a"/>
<circle cx="492.46" cy="351.40" r="1.3" fill="#34508a"/>
<circle cx="495.90" cy="334.30" r="1.3" fill="#34508a"/>
<circle cx="499.27" cy="331.60" r="1.3" fill="#34508a"/>
<circle cx="502.46" cy="330.90" r="1.3" fill="#34508a"/>
<circle cx="505.47" cy="320.70" r="1.3" fill="#34508a"/>
<circle cx="509.28" cy="320.00" r="1.3" fill="#34508a"/>
<circle cx="512.28" cy="399.30" r="1.3" fill="#34508a"/>
<path d="M393.60,399.30 L396.69,399.30 L399.79,399.30 L402.88,399.30 L405.98,399.30 L409.07,399.30 L412.17,399.30 L415.26,399.30 L418.36,399.30 L421.45,399.30 L424.55,399.30 L427.64,399.30 L430.74,399.30 L433.83,399.30 L436.92,399.30 L440.02,399.30 L443.11,399.30 L446.21,399.30 L449.30,399.30 L452.40,399.30 L455.49,399.30 L458.59,399.30 L461.29,333.60 L465.40,323.40 L468.77,389.70 L472.03,348.00 L475.71,346.60 L479.08,337.10 L482.52,357.60 L485.65,380.10 L489.09,357.60 L492.46,337.10 L495.90,346.60 L499.27,347.70 L502.46,389.70 L505.47,323.40 L509.28,331.60 L512.28,399.30 L515.40,399.30 L518.51,399.30 L521.63,399.30 L524.74,399.30 L527.86,399.30 L530.97,399.30 L534.09,399.30 L537.20,399.30 L540.32,399.30 L543.43,399.30 L546.55,399.30 L549.66,399.30 L552.78,399.30 L555.89,399.30 L559.01,399.30 L562.12,399.30 L565.24,399.30 L568.35,399.30 L571.47,399.30 L574.58,399.30 L577.70,399.30" fill="none" stroke="#d23a4e" stroke-width="1.0" stroke-linejoin="round"/>
<path d="M455.49,397.42 L456.94,400.31 L454.04,400.31 Z" fill="#bb1d36"/>
<path d="M458.59,397.42 L460.04,400.31 L457.14,400.31 Z" fill="#bb1d36"/>
<path d="M461.29,331.72 L462.74,334.62 L459.84,334.62 Z" fill="#bb1d36"/>
<path d="M465.40,321.51 L466.85,324.41 L463.95,324.41 Z" fill="#bb1d36"/>
<path d="M468.77,387.81 L470.22,390.71 L467.32,390.71 Z" fill="#bb1d36"/>
<path d="M472.03,346.12 L473.48,349.01 L470.58,349.01 Z" fill="#bb1d36"/>
<path d="M475.71,344.72 L477.16,347.62 L474.26,347.62 Z" fill="#bb1d36"/>
<path d="M479.08,335.22 L480.53,338.12 L477.63,338.12 Z" fill="#bb1d36"/>
<path d="M482.52,355.72 L483.97,358.62 L481.07,358.62 Z" fill="#bb1d36"/>
<path d="M485.65,378.22 L487.10,381.12 L484.20,381.12 Z" fill="#bb1d36"/>
<path d="M489.09,355.72 L490.54,358.62 L487.64,358.62 Z" fill="#bb1d36"/>
<path d="M492.46,335.22 L493.91,338.12 L491.01,338.12 Z" fill="#bb1d36"/>
<path d="M495.90,344.72 L497.35,347.62 L494.45,347.62 Z" fill="#bb1d36"/>
<path d="M499.27,345.81 L500.72,348.71 L497.82,348.71 Z" fill="#bb1d36"/>
<path d="M502.46,387.81 L503.91,390.71 L501.01,390.71 Z" fill="#bb1d36"/>
<path d="M505.47,321.51 L506.92,324.41 L504.02,324.41 Z" fill="#bb1d36"/>
<path d="M509.28,329.72 L510.73,332.62 L507.83,332.62 Z" fill="#bb1d36"/>
<path d="M512.28,397.42 L513.73,400.31 L510.83,400.31 Z" fill="#bb1d36"/>
<path d="M515.40,397.42 L516.85,400.31 L513.95,400.31 Z" fill="#bb1d36"/>
<path d="M393.60,397.42 L395.05,400.31 L392.15,400.31 Z" fill="#bb1d36"/>
<path d="M396.67,397.42 L398.12,400.31 L395.22,400.31 Z" fill="#bb1d36"/>
<path d="M399.74,397.42 L401.19,400.31 L398.29,400.31 Z" fill="#bb1d36"/>
<path d="M402.81,397.42 L404.25,400.31 L401.36,400.31 Z" fill="#bb1d36"/>
<path d="M405.87,397.42 L407.32,400.31 L404.42,400.31 Z" fill="#bb1d36"/>
<path d="M408.94,397.42 L410.39,400.31 L407.49,400.31 Z" fill="#bb1d36"/>
<path d="M412.01,397.42 L413.46,400.31 L410.56,400.31 Z" fill="#bb1d36"/>
<path d="M415.08,397.42 L416.53,400.31 L413.63,400.31 Z" fill="#bb1d36"/>
<path d="M418.15,397.42 L419.60,400.31 L416.70,400.31 Z" fill="#bb1d36"/>
<path d="M421.22,397.42 L422.67,400.31 L419.77,400.31 Z" fill="#bb1d36"/>
<path d="M424.28,397.42 L425.73,400.31 L422.83,400.31 Z" fill="#bb1d36"/>
<path d="M427.35,397.42 L428.80,400.31 L425.90,400.31 Z" fill="#bb1d36"/>
<path d="M430.42,397.42 L431.87,400.31 L428.97,400.31 Z" fill="#bb1d36"/>
<path d="M433.49,397.42 L434.94,400.31 L432.04,400.31 Z" fill="#bb1d36"/>
<path d="M436.56,397.42 L438.01,400.31 L435.11,400.31 Z" fill="#bb1d36"/>
<path d="M439.62,397.42 L441.07,400.31 L438.18,400.31 Z" fill="#bb1d36"/>
<path d="M442.69,397.42 L444.14,400.31 L441.24,400.31 Z" fill="#bb1d36"/>
<path d="M445.76,397.42 L447.21,400.31 L444.31,400.31 Z" fill="#bb1d36"/>
<path d="M448.83,397.42 L450.28,400.31 L447.38,400.31 Z" fill="#bb1d36"/>
<path d="M451.90,397.42 L453.35,400.31 L450.45,400.31 Z" fill="#bb1d36"/>
<path d="M454.97,397.42 L456.42,400.31 L453.52,400.31 Z" fill="#bb1d36"/>
<path d="M458.04,397.42 L459.49,400.31 L456.59,400.31 Z" fill="#bb1d36"/>
<path d="M513.27,397.42 L514.72,400.31 L511.82,400.31 Z" fill="#bb1d36"/>
<path d="M516.33,397.42 L517.78,400.31 L514.88,400.31 Z" fill="#bb1d36"/>
<path d="M519.40,397.42 L520.85,400.31 L517.95,400.31 Z" fill="#bb1d36"/>
<path d="M522.47,397.42 L523.92,400.31 L521.02,400.31 Z" fill="#bb1d36"/>
<path d="M525.54,397.42 L526.99,400.31 L524.09,400.31 Z" fill="#bb1d36"/>
<path d="M528.61,397.42 L530.06,400.31 L527.16,400.31 Z" fill="#bb1d36"/>
<path d="M531.68,397.42 L533.13,400.31 L530.23,400.31 Z" fill="#bb1d36"/>
<path d="M534.74,397.42 L536.19,400.31 L533.29,400.31 Z" fill="#bb1d36"/>
<path d="M537.81,397.42 L539.26,400.31 L536.36,400.31 Z" fill="#bb1d36"/>
<path d="M540.88,397.42 L542.33,400.31 L539.43,400.31 Z" fill="#bb1d36"/>
<path d="M543.95,397.42 L545.40,400.31 L542.50,400.31 Z" fill="#bb1d36"/>
<path d="M547.02,397.42 L548.47,400.31 L545.57,400.31 Z" fill="#bb1d36"/>
<path d="M550.09,397.42 L551.54,400.31 L548.63,400.31 Z" fill="#bb1d36"/>
<path d="M553.15,397.42 L554.60,400.31 L551.70,400.31 Z" fill="#bb1d36"/>
<path d="M556.22,397.42 L557.67,400.31 L554.77,400.31 Z" fill="#bb1d36"/>
<path d="M559.29,397.42 L560.74,400.31 L557.84,400.31 Z" fill="#bb1d36"/>
<path d="M562.36,397.42 L563.81,400.31 L560.91,400.31 Z" fill="#bb1d36"/>
<path d="M565.43,397.42 L566.88,400.31 L563.98,400.31 Z" fill="#bb1d36"/>
<path d="M568.50,397.42 L569.95,400.31 L567.05,400.31 Z" fill="#bb1d36"/>
<path d="M571.56,397.42 L573.01,400.31 L570.11,400.31 Z" fill="#bb1d36"/>
<path d="M574.63,397.42 L576.08,400.31 L573.18,400.31 Z" fill="#bb1d36"/>
<path d="M577.70,397.42 L579.15,400.31 L576.25,400.31 Z" fill="#bb1d36"/>
<line x1="56.80" y1="454.60" x2="241.20" y2="454.60" stroke="#7a7a7a" stroke-width="1.1" />
<line x1="52.00" y1="547.00" x2="241.20" y2="547.00" stroke="#555" stroke-width="1.1" />
<line x1="56.80" y1="454.60" x2="56.80" y2="547.00" stroke="#9fd6b8" stroke-width="1.1" />
<line x1="241.20" y1="454.60" x2="241.20" y2="547.00" stroke="#8c9dbf" stroke-width="1.1" />
<line x1="56.80" y1="547.00" x2="56.80" y2="545.20" stroke="#888" stroke-width="0.8" />
<line x1="75.24" y1="547.00" x2="75.24" y2="544.40" stroke="#555" stroke-width="0.8" />
<line x1="93.68" y1="547.00" x2="93.68" y2="545.20" stroke="#888" stroke-width="0.8" />
<line x1="112.12" y1="547.00" x2="112.12" y2="544.40" stroke="#555" stroke-width="0.8" />
<line x1="130.56" y1="547.00" x2="130.56" y2="545.20" stroke="#888" stroke-width="0.8" />
<line x1="149.00" y1="547.00" x2="149.00" y2="544.40" stroke="#555" stroke-width="0.8" />
<line x1="167.44" y1="547.00" x2="167.44" y2="545.20" stroke="#888" stroke-width="0.8" />
<line x1="185.88" y1="547.00" x2="185.88" y2="544.40" stroke="#555" stroke-width="0.8" />
<line x1="204.32" y1="547.00" x2="204.32" y2="545.20" stroke="#888" stroke-width="0.8" />
<line x1="222.76" y1="547.00" x2="222.76" y2="544.40" stroke="#555" stroke-width="0.8" />
<line x1="241.20" y1="547.00" x2="241.20" y2="545.20" stroke="#888" stroke-width="0.8" />
<text x="75.24" y="560.21" font-size="11.5" fill="#2a2a2a" text-anchor="middle" >−1.0</text>
<text x="112.12" y="560.21" font-size="11.5" fill="#2a2a2a" text-anchor="middle" >−0.5</text>
<text x="149.00" y="560.21" font-size="11.5" fill="#2a2a2a" text-anchor="middle" >0</text>
<text x="185.88" y="560.21" font-size="11.5" fill="#2a2a2a" text-anchor="middle" >0.5</text>
<text x="222.76" y="560.21" font-size="11.5" fill="#2a2a2a" text-anchor="middle" >1.0</text>
<text x="149.50" y="577.41" font-size="11.5" fill="#2a2a2a" text-anchor="middle" ><tspan font-style="italic">X</tspan> (mm)</text>
<text x="52.80" y="543.91" font-size="11.5" fill="#8fbfa2" text-anchor="end" >2.0</text>
<line x1="56.80" y1="540.00" x2="59.30" y2="540.00" stroke="#9fd6b8" stroke-width="0.8" />
<line x1="56.80" y1="533.88" x2="58.40" y2="533.88" stroke="#9fd6b8" stroke-width="0.7" />
<text x="52.80" y="531.67" font-size="11.5" fill="#8fbfa2" text-anchor="end" >2.2</text>
<line x1="56.80" y1="527.76" x2="59.30" y2="527.76" stroke="#9fd6b8" stroke-width="0.8" />
<line x1="56.80" y1="521.64" x2="58.40" y2="521.64" stroke="#9fd6b8" stroke-width="0.7" />
<text x="52.80" y="519.42" font-size="11.5" fill="#8fbfa2" text-anchor="end" >2.4</text>
<line x1="56.80" y1="515.51" x2="59.30" y2="515.51" stroke="#9fd6b8" stroke-width="0.8" />
<line x1="56.80" y1="509.39" x2="58.40" y2="509.39" stroke="#9fd6b8" stroke-width="0.7" />
<text x="52.80" y="507.18" font-size="11.5" fill="#8fbfa2" text-anchor="end" >2.6</text>
<line x1="56.80" y1="503.27" x2="59.30" y2="503.27" stroke="#9fd6b8" stroke-width="0.8" />
<line x1="56.80" y1="497.15" x2="58.40" y2="497.15" stroke="#9fd6b8" stroke-width="0.7" />
<text x="52.80" y="494.94" font-size="11.5" fill="#8fbfa2" text-anchor="end" >2.8</text>
<line x1="56.80" y1="491.03" x2="59.30" y2="491.03" stroke="#9fd6b8" stroke-width="0.8" />
<line x1="56.80" y1="484.91" x2="58.40" y2="484.91" stroke="#9fd6b8" stroke-width="0.7" />
<text x="52.80" y="482.70" font-size="11.5" fill="#8fbfa2" text-anchor="end" >3.0</text>
<line x1="56.80" y1="478.79" x2="59.30" y2="478.79" stroke="#9fd6b8" stroke-width="0.8" />
<line x1="56.80" y1="472.66" x2="58.40" y2="472.66" stroke="#9fd6b8" stroke-width="0.7" />
<text x="52.80" y="470.45" font-size="11.5" fill="#8fbfa2" text-anchor="end" >3.2</text>
<line x1="56.80" y1="466.54" x2="59.30" y2="466.54" stroke="#9fd6b8" stroke-width="0.8" />
<line x1="56.80" y1="460.42" x2="58.40" y2="460.42" stroke="#9fd6b8" stroke-width="0.7" />
<text x="52.80" y="458.21" font-size="11.5" fill="#8fbfa2" text-anchor="end" >3.4</text>
<line x1="56.80" y1="454.30" x2="59.30" y2="454.30" stroke="#9fd6b8" stroke-width="0.8" />
<text transform="translate(30.22,500.20) rotate(-90)" font-size="11.4" fill="#2a2a2a" text-anchor="middle">droplet height <tspan font-style="italic">H</tspan>/mm</text>
<text x="245.50" y="458.29" font-size="11.5" fill="#7286ab" text-anchor="start" >1200</text>
<line x1="241.20" y1="454.38" x2="238.70" y2="454.38" stroke="#8c9dbf" stroke-width="0.8" />
<text x="245.50" y="473.61" font-size="11.5" fill="#7286ab" text-anchor="start" >1000</text>
<line x1="241.20" y1="469.70" x2="238.70" y2="469.70" stroke="#8c9dbf" stroke-width="0.8" />
<text x="245.50" y="488.93" font-size="11.5" fill="#7286ab" text-anchor="start" >800</text>
<line x1="241.20" y1="485.02" x2="238.70" y2="485.02" stroke="#8c9dbf" stroke-width="0.8" />
<text x="245.50" y="504.25" font-size="11.5" fill="#7286ab" text-anchor="start" >600</text>
<line x1="241.20" y1="500.34" x2="238.70" y2="500.34" stroke="#8c9dbf" stroke-width="0.8" />
<text x="245.50" y="519.57" font-size="11.5" fill="#7286ab" text-anchor="start" >400</text>
<line x1="241.20" y1="515.66" x2="238.70" y2="515.66" stroke="#8c9dbf" stroke-width="0.8" />
<text x="245.50" y="534.89" font-size="11.5" fill="#7286ab" text-anchor="start" >200</text>
<line x1="241.20" y1="530.98" x2="238.70" y2="530.98" stroke="#8c9dbf" stroke-width="0.8" />
<text x="245.50" y="550.21" font-size="11.5" fill="#7286ab" text-anchor="start" >0</text>
<line x1="241.20" y1="546.30" x2="238.70" y2="546.30" stroke="#8c9dbf" stroke-width="0.8" />
<text transform="translate(278.31,502.30) rotate(-90)" font-size="11.7" fill="#2a2a2a" text-anchor="middle">Pressure <tspan font-style="italic">P</tspan>/pa</text>
<line x1="290.80" y1="454.40" x2="290.80" y2="546.80" stroke="#d86a72" stroke-width="1.0" />
<text x="295.50" y="458.29" font-size="11.5" fill="#cf5560" text-anchor="start" >8000</text>
<line x1="290.80" y1="454.38" x2="292.80" y2="454.38" stroke="#d86a72" stroke-width="0.8" />
<text x="295.50" y="469.78" font-size="11.5" fill="#cf5560" text-anchor="start" >7000</text>
<line x1="290.80" y1="465.87" x2="292.80" y2="465.87" stroke="#d86a72" stroke-width="0.8" />
<text x="295.50" y="481.27" font-size="11.5" fill="#cf5560" text-anchor="start" >6000</text>
<line x1="290.80" y1="477.36" x2="292.80" y2="477.36" stroke="#d86a72" stroke-width="0.8" />
<text x="295.50" y="492.76" font-size="11.5" fill="#cf5560" text-anchor="start" >5000</text>
<line x1="290.80" y1="488.85" x2="292.80" y2="488.85" stroke="#d86a72" stroke-width="0.8" />
<text x="295.50" y="504.25" font-size="11.5" fill="#cf5560" text-anchor="start" >4000</text>
<line x1="290.80" y1="500.34" x2="292.80" y2="500.34" stroke="#d86a72" stroke-width="0.8" />
<text x="295.50" y="515.74" font-size="11.5" fill="#cf5560" text-anchor="start" >3000</text>
<line x1="290.80" y1="511.83" x2="292.80" y2="511.83" stroke="#d86a72" stroke-width="0.8" />
<text x="295.50" y="527.23" font-size="11.5" fill="#cf5560" text-anchor="start" >2000</text>
<line x1="290.80" y1="523.32" x2="292.80" y2="523.32" stroke="#d86a72" stroke-width="0.8" />
<text x="295.50" y="538.72" font-size="11.5" fill="#cf5560" text-anchor="start" >1000</text>
<line x1="290.80" y1="534.81" x2="292.80" y2="534.81" stroke="#d86a72" stroke-width="0.8" />
<text x="295.50" y="550.21" font-size="11.5" fill="#cf5560" text-anchor="start" >0</text>
<line x1="290.80" y1="546.30" x2="292.80" y2="546.30" stroke="#d86a72" stroke-width="0.8" />
<text transform="translate(334.51,499.30) rotate(-90)" font-size="11.7" fill="#2a2a2a" text-anchor="middle">wall heat flux <tspan font-style="italic">q</tspan>/(kw·m<tspan dy="-3.5" font-size="6.5">−2</tspan><tspan dy="3.5">)</tspan></text>
<text x="62.50" y="467.71" font-size="11.5" fill="#2a2a2a" text-anchor="start" >9.0 ms</text>
<line x1="176.50" y1="464.60" x2="190.80" y2="464.60" stroke="#8fcfa8" stroke-width="1.0" />
<line x1="176.50" y1="475.30" x2="190.80" y2="475.30" stroke="#c9cfe0" stroke-width="1.0" />
<line x1="176.50" y1="485.20" x2="190.80" y2="485.20" stroke="#6f84b0" stroke-width="1.0" />
<circle cx="183.65" cy="485.20" r="1.3" fill="#34508a"/>
<line x1="176.50" y1="494.20" x2="190.80" y2="494.20" stroke="#e0707e" stroke-width="1.0" />
<path d="M183.65,492.25 L185.15,495.25 L182.15,495.25 Z" fill="#bb1d36"/>
<text x="192.30" y="468.51" font-size="11.5" fill="#2a2a2a" text-anchor="start" >film size</text>
<text x="192.30" y="479.21" font-size="11.5" fill="#2a2a2a" text-anchor="start" >wall</text>
<text x="192.30" y="489.11" font-size="11.5" fill="#2a2a2a" text-anchor="start" >pressure</text>
<text x="192.30" y="498.11" font-size="11.5" fill="#2a2a2a" text-anchor="start" >wall heat</text>
<text x="192.30" y="507.91" font-size="11.5" fill="#2a2a2a" text-anchor="start" >flux</text>
<path d="M100.10,511.90 L105.19,519.90 L111.01,525.70 L115.44,530.00 L117.58,537.30 L121.19,540.20 L127.02,537.30 L131.37,536.60 L137.20,537.30 L149.00,537.80 L162.50,536.60 L169.80,538.80 L174.23,541.00 L176.29,541.50 L178.50,532.00 L184.26,525.70 L191.63,518.40 L197.39,512.60" fill="none" stroke="#66b886" stroke-width="0.9"/>
<path d="M52.37,546.75 L56.08,546.71 L59.79,546.66 L63.50,546.62 L67.21,546.57 L70.92,546.53 L74.63,546.49 L78.34,546.44 L82.05,546.40 L85.76,546.35 L89.47,546.31 L93.18,546.26 L96.89,546.22 L100.60,546.18 L104.31,546.13 L108.02,546.09 L111.73,546.04 L115.44,546.00 L119.79,541.70 L124.14,538.80 L128.49,536.60 L132.85,536.10 L136.39,536.10 L139.94,536.10 L143.49,536.10 L147.04,536.10 L150.59,536.10 L154.13,536.10 L157.68,536.10 L161.23,536.10 L164.78,536.10 L168.33,536.10 L172.01,538.00 L174.89,540.20 L177.77,543.80 L180.72,546.00 L184.32,546.04 L187.93,546.08 L191.53,546.12 L195.14,546.17 L198.75,546.21 L202.35,546.25 L205.96,546.29 L209.57,546.33 L213.17,546.38 L216.78,546.42 L220.38,546.46 L223.99,546.50 L227.60,546.54 L231.20,546.58 L234.81,546.62 L238.41,546.67 L242.02,546.71 L245.63,546.75" fill="none" stroke="#44609a" stroke-width="1.0" stroke-linejoin="round"/>
<circle cx="115.44" cy="546.00" r="1.3" fill="#34508a"/>
<circle cx="119.79" cy="541.70" r="1.3" fill="#34508a"/>
<circle cx="124.14" cy="538.80" r="1.3" fill="#34508a"/>
<circle cx="128.49" cy="536.60" r="1.3" fill="#34508a"/>
<circle cx="132.85" cy="536.10" r="1.3" fill="#34508a"/>
<circle cx="136.39" cy="536.10" r="1.3" fill="#34508a"/>
<circle cx="139.94" cy="536.10" r="1.3" fill="#34508a"/>
<circle cx="143.49" cy="536.10" r="1.3" fill="#34508a"/>
<circle cx="147.04" cy="536.10" r="1.3" fill="#34508a"/>
<circle cx="150.59" cy="536.10" r="1.3" fill="#34508a"/>
<circle cx="154.13" cy="536.10" r="1.3" fill="#34508a"/>
<circle cx="157.68" cy="536.10" r="1.3" fill="#34508a"/>
<circle cx="161.23" cy="536.10" r="1.3" fill="#34508a"/>
<circle cx="164.78" cy="536.10" r="1.3" fill="#34508a"/>
<circle cx="168.33" cy="536.10" r="1.3" fill="#34508a"/>
<circle cx="172.01" cy="538.00" r="1.3" fill="#34508a"/>
<circle cx="174.89" cy="540.20" r="1.3" fill="#34508a"/>
<circle cx="177.77" cy="543.80" r="1.3" fill="#34508a"/>
<circle cx="180.72" cy="546.00" r="1.3" fill="#34508a"/>
<path d="M52.37,546.75 L56.00,546.75 L59.62,546.75 L63.24,546.75 L66.87,546.75 L70.49,546.75 L74.11,546.75 L77.73,546.75 L81.36,546.75 L84.98,546.75 L88.60,546.75 L92.23,546.75 L95.85,546.75 L99.47,546.75 L103.10,546.75 L106.72,546.75 L110.34,546.75 L113.96,546.75 L116.91,543.10 L120.53,530.00 L124.88,477.00 L129.23,487.90 L132.85,535.80 L136.46,540.90 L140.08,542.00 L144.50,542.40 L149.00,542.60 L152.39,542.00 L156.74,541.70 L161.83,539.90 L165.23,537.30 L168.33,487.90 L172.68,477.00 L177.10,530.00 L180.72,543.10 L184.26,544.90 L187.87,544.99 L191.48,545.09 L195.09,545.18 L198.70,545.28 L202.31,545.37 L205.92,545.46 L209.53,545.56 L213.14,545.65 L216.75,545.75 L220.36,545.84 L223.97,545.94 L227.58,546.03 L231.19,546.12 L234.80,546.22 L238.41,546.31 L242.02,546.41 L245.63,546.50" fill="none" stroke="#d23a4e" stroke-width="1.0" stroke-linejoin="round"/>
<path d="M52.37,544.87 L53.82,547.76 L50.92,547.76 Z" fill="#bb1d36"/>
<path d="M56.00,544.87 L57.45,547.76 L54.55,547.76 Z" fill="#bb1d36"/>
<path d="M59.62,544.87 L61.07,547.76 L58.17,547.76 Z" fill="#bb1d36"/>
<path d="M63.24,544.87 L64.69,547.76 L61.79,547.76 Z" fill="#bb1d36"/>
<path d="M66.87,544.87 L68.32,547.76 L65.42,547.76 Z" fill="#bb1d36"/>
<path d="M70.49,544.87 L71.94,547.76 L69.04,547.76 Z" fill="#bb1d36"/>
<path d="M74.11,544.87 L75.56,547.76 L72.66,547.76 Z" fill="#bb1d36"/>
<path d="M77.73,544.87 L79.18,547.76 L76.28,547.76 Z" fill="#bb1d36"/>
<path d="M81.36,544.87 L82.81,547.76 L79.91,547.76 Z" fill="#bb1d36"/>
<path d="M84.98,544.87 L86.43,547.76 L83.53,547.76 Z" fill="#bb1d36"/>
<path d="M88.60,544.87 L90.05,547.76 L87.15,547.76 Z" fill="#bb1d36"/>
<path d="M92.23,544.87 L93.68,547.76 L90.78,547.76 Z" fill="#bb1d36"/>
<path d="M95.85,544.87 L97.30,547.76 L94.40,547.76 Z" fill="#bb1d36"/>
<path d="M99.47,544.87 L100.92,547.76 L98.02,547.76 Z" fill="#bb1d36"/>
<path d="M103.10,544.87 L104.55,547.76 L101.65,547.76 Z" fill="#bb1d36"/>
<path d="M106.72,544.87 L108.17,547.76 L105.27,547.76 Z" fill="#bb1d36"/>
<path d="M110.34,544.87 L111.79,547.76 L108.89,547.76 Z" fill="#bb1d36"/>
<path d="M113.96,544.87 L115.41,547.76 L112.51,547.76 Z" fill="#bb1d36"/>
<path d="M116.91,541.22 L118.36,544.12 L115.46,544.12 Z" fill="#bb1d36"/>
<path d="M120.53,528.12 L121.98,531.01 L119.08,531.01 Z" fill="#bb1d36"/>
<path d="M124.88,475.12 L126.33,478.01 L123.43,478.01 Z" fill="#bb1d36"/>
<path d="M129.23,486.01 L130.68,488.91 L127.78,488.91 Z" fill="#bb1d36"/>
<path d="M132.85,533.91 L134.30,536.81 L131.40,536.81 Z" fill="#bb1d36"/>
<path d="M136.46,539.01 L137.91,541.91 L135.01,541.91 Z" fill="#bb1d36"/>
<path d="M140.08,540.12 L141.53,543.01 L138.63,543.01 Z" fill="#bb1d36"/>
<path d="M144.50,540.51 L145.95,543.41 L143.05,543.41 Z" fill="#bb1d36"/>
<path d="M149.00,540.72 L150.45,543.62 L147.55,543.62 Z" fill="#bb1d36"/>
<path d="M152.39,540.12 L153.84,543.01 L150.94,543.01 Z" fill="#bb1d36"/>
<path d="M156.74,539.82 L158.19,542.72 L155.29,542.72 Z" fill="#bb1d36"/>
<path d="M161.83,538.01 L163.28,540.91 L160.38,540.91 Z" fill="#bb1d36"/>
<path d="M165.23,535.41 L166.68,538.31 L163.78,538.31 Z" fill="#bb1d36"/>
<path d="M168.33,486.01 L169.78,488.91 L166.88,488.91 Z" fill="#bb1d36"/>
<path d="M172.68,475.12 L174.13,478.01 L171.23,478.01 Z" fill="#bb1d36"/>
<path d="M177.10,528.12 L178.55,531.01 L175.65,531.01 Z" fill="#bb1d36"/>
<path d="M180.72,541.22 L182.17,544.12 L179.27,544.12 Z" fill="#bb1d36"/>
<path d="M184.26,543.01 L185.71,545.91 L182.81,545.91 Z" fill="#bb1d36"/>
<path d="M187.87,543.11 L189.32,546.01 L186.42,546.01 Z" fill="#bb1d36"/>
<path d="M191.48,543.20 L192.93,546.10 L190.03,546.10 Z" fill="#bb1d36"/>
<path d="M195.09,543.30 L196.54,546.20 L193.64,546.20 Z" fill="#bb1d36"/>
<path d="M198.70,543.39 L200.15,546.29 L197.25,546.29 Z" fill="#bb1d36"/>
<path d="M202.31,543.49 L203.76,546.39 L200.86,546.39 Z" fill="#bb1d36"/>
<path d="M205.92,543.58 L207.37,546.48 L204.47,546.48 Z" fill="#bb1d36"/>
<path d="M209.53,543.67 L210.98,546.57 L208.08,546.57 Z" fill="#bb1d36"/>
<path d="M213.14,543.77 L214.59,546.67 L211.69,546.67 Z" fill="#bb1d36"/>
<path d="M216.75,543.86 L218.20,546.76 L215.30,546.76 Z" fill="#bb1d36"/>
<path d="M220.36,543.96 L221.81,546.86 L218.91,546.86 Z" fill="#bb1d36"/>
<path d="M223.97,544.05 L225.42,546.95 L222.52,546.95 Z" fill="#bb1d36"/>
<path d="M227.58,544.14 L229.03,547.04 L226.13,547.04 Z" fill="#bb1d36"/>
<path d="M231.19,544.24 L232.64,547.14 L229.74,547.14 Z" fill="#bb1d36"/>
<path d="M234.80,544.33 L236.25,547.23 L233.35,547.23 Z" fill="#bb1d36"/>
<path d="M238.41,544.43 L239.86,547.33 L236.96,547.33 Z" fill="#bb1d36"/>
<path d="M242.02,544.52 L243.47,547.42 L240.57,547.42 Z" fill="#bb1d36"/>
<path d="M245.63,544.62 L247.08,547.51 L244.18,547.51 Z" fill="#bb1d36"/>
<line x1="393.60" y1="455.70" x2="577.70" y2="455.70" stroke="#7a7a7a" stroke-width="1.1" />
<line x1="393.60" y1="546.80" x2="577.70" y2="546.80" stroke="#555" stroke-width="1.1" />
<line x1="393.60" y1="455.70" x2="393.60" y2="546.80" stroke="#9fd6b8" stroke-width="1.1" />
<line x1="577.70" y1="455.70" x2="577.70" y2="546.80" stroke="#8c9dbf" stroke-width="1.1" />
<line x1="393.60" y1="546.80" x2="393.60" y2="544.20" stroke="#555" stroke-width="0.8" />
<line x1="408.94" y1="546.80" x2="408.94" y2="545.00" stroke="#888" stroke-width="0.8" />
<line x1="424.28" y1="546.80" x2="424.28" y2="544.20" stroke="#555" stroke-width="0.8" />
<line x1="439.62" y1="546.80" x2="439.62" y2="545.00" stroke="#888" stroke-width="0.8" />
<line x1="454.97" y1="546.80" x2="454.97" y2="544.20" stroke="#555" stroke-width="0.8" />
<line x1="470.31" y1="546.80" x2="470.31" y2="545.00" stroke="#888" stroke-width="0.8" />
<line x1="485.65" y1="546.80" x2="485.65" y2="544.20" stroke="#555" stroke-width="0.8" />
<line x1="500.99" y1="546.80" x2="500.99" y2="545.00" stroke="#888" stroke-width="0.8" />
<line x1="516.33" y1="546.80" x2="516.33" y2="544.20" stroke="#555" stroke-width="0.8" />
<line x1="531.68" y1="546.80" x2="531.68" y2="545.00" stroke="#888" stroke-width="0.8" />
<line x1="547.02" y1="546.80" x2="547.02" y2="544.20" stroke="#555" stroke-width="0.8" />
<line x1="562.36" y1="546.80" x2="562.36" y2="545.00" stroke="#888" stroke-width="0.8" />
<line x1="577.70" y1="546.80" x2="577.70" y2="544.20" stroke="#555" stroke-width="0.8" />
<text x="393.60" y="560.01" font-size="11.5" fill="#2a2a2a" text-anchor="middle" >−1.5</text>
<text x="424.28" y="560.01" font-size="11.5" fill="#2a2a2a" text-anchor="middle" >−1.0</text>
<text x="454.97" y="560.01" font-size="11.5" fill="#2a2a2a" text-anchor="middle" >−0.5</text>
<text x="485.65" y="560.01" font-size="11.5" fill="#2a2a2a" text-anchor="middle" >0</text>
<text x="516.33" y="560.01" font-size="11.5" fill="#2a2a2a" text-anchor="middle" >0.5</text>
<text x="547.02" y="560.01" font-size="11.5" fill="#2a2a2a" text-anchor="middle" >1.0</text>
<text x="577.70" y="560.01" font-size="11.5" fill="#2a2a2a" text-anchor="middle" >1.5</text>
<text x="486.15" y="577.21" font-size="11.5" fill="#2a2a2a" text-anchor="middle" ><tspan font-style="italic">X</tspan> (mm)</text>
<text x="389.60" y="543.91" font-size="11.5" fill="#8fbfa2" text-anchor="end" >2.0</text>
<line x1="393.60" y1="540.00" x2="396.10" y2="540.00" stroke="#9fd6b8" stroke-width="0.8" />
<line x1="393.60" y1="533.85" x2="395.20" y2="533.85" stroke="#9fd6b8" stroke-width="0.7" />
<text x="389.60" y="531.61" font-size="11.5" fill="#8fbfa2" text-anchor="end" >2.2</text>
<line x1="393.60" y1="527.70" x2="396.10" y2="527.70" stroke="#9fd6b8" stroke-width="0.8" />
<line x1="393.60" y1="521.55" x2="395.20" y2="521.55" stroke="#9fd6b8" stroke-width="0.7" />
<text x="389.60" y="519.31" font-size="11.5" fill="#8fbfa2" text-anchor="end" >2.4</text>
<line x1="393.60" y1="515.40" x2="396.10" y2="515.40" stroke="#9fd6b8" stroke-width="0.8" />
<line x1="393.60" y1="509.25" x2="395.20" y2="509.25" stroke="#9fd6b8" stroke-width="0.7" />
<text x="389.60" y="507.01" font-size="11.5" fill="#8fbfa2" text-anchor="end" >2.6</text>
<line x1="393.60" y1="503.10" x2="396.10" y2="503.10" stroke="#9fd6b8" stroke-width="0.8" />
<line x1="393.60" y1="496.95" x2="395.20" y2="496.95" stroke="#9fd6b8" stroke-width="0.7" />
<text x="389.60" y="494.71" font-size="11.5" fill="#8fbfa2" text-anchor="end" >2.8</text>
<line x1="393.60" y1="490.80" x2="396.10" y2="490.80" stroke="#9fd6b8" stroke-width="0.8" />
<line x1="393.60" y1="484.65" x2="395.20" y2="484.65" stroke="#9fd6b8" stroke-width="0.7" />
<text x="389.60" y="482.41" font-size="11.5" fill="#8fbfa2" text-anchor="end" >3.0</text>
<line x1="393.60" y1="478.50" x2="396.10" y2="478.50" stroke="#9fd6b8" stroke-width="0.8" />
<line x1="393.60" y1="472.35" x2="395.20" y2="472.35" stroke="#9fd6b8" stroke-width="0.7" />
<text x="389.60" y="470.11" font-size="11.5" fill="#8fbfa2" text-anchor="end" >3.2</text>
<line x1="393.60" y1="466.20" x2="396.10" y2="466.20" stroke="#9fd6b8" stroke-width="0.8" />
<line x1="393.60" y1="460.05" x2="395.20" y2="460.05" stroke="#9fd6b8" stroke-width="0.7" />
<text x="389.60" y="457.81" font-size="11.5" fill="#8fbfa2" text-anchor="end" >3.4</text>
<line x1="393.60" y1="453.90" x2="396.10" y2="453.90" stroke="#9fd6b8" stroke-width="0.8" />
<text transform="translate(367.02,497.90) rotate(-90)" font-size="11.4" fill="#2a2a2a" text-anchor="middle">droplet height <tspan font-style="italic">H</tspan>/mm</text>
<text x="582.50" y="459.61" font-size="11.5" fill="#7286ab" text-anchor="start" >1200</text>
<line x1="577.70" y1="455.70" x2="575.20" y2="455.70" stroke="#8c9dbf" stroke-width="0.8" />
<text x="582.50" y="474.71" font-size="11.5" fill="#7286ab" text-anchor="start" >1000</text>
<line x1="577.70" y1="470.80" x2="575.20" y2="470.80" stroke="#8c9dbf" stroke-width="0.8" />
<text x="582.50" y="489.81" font-size="11.5" fill="#7286ab" text-anchor="start" >800</text>
<line x1="577.70" y1="485.90" x2="575.20" y2="485.90" stroke="#8c9dbf" stroke-width="0.8" />
<text x="582.50" y="504.91" font-size="11.5" fill="#7286ab" text-anchor="start" >600</text>
<line x1="577.70" y1="501.00" x2="575.20" y2="501.00" stroke="#8c9dbf" stroke-width="0.8" />
<text x="582.50" y="520.01" font-size="11.5" fill="#7286ab" text-anchor="start" >400</text>
<line x1="577.70" y1="516.10" x2="575.20" y2="516.10" stroke="#8c9dbf" stroke-width="0.8" />
<text x="582.50" y="535.11" font-size="11.5" fill="#7286ab" text-anchor="start" >200</text>
<line x1="577.70" y1="531.20" x2="575.20" y2="531.20" stroke="#8c9dbf" stroke-width="0.8" />
<text x="582.50" y="550.21" font-size="11.5" fill="#7286ab" text-anchor="start" >0</text>
<line x1="577.70" y1="546.30" x2="575.20" y2="546.30" stroke="#8c9dbf" stroke-width="0.8" />
<text transform="translate(615.91,500.80) rotate(-90)" font-size="11.7" fill="#2a2a2a" text-anchor="middle">Pressure <tspan font-style="italic">P</tspan>/pa</text>
<line x1="627.90" y1="455.70" x2="627.90" y2="547.00" stroke="#d86a72" stroke-width="1.0" />
<text x="632.70" y="459.61" font-size="11.5" fill="#cf5560" text-anchor="start" >8000</text>
<line x1="627.90" y1="455.70" x2="629.90" y2="455.70" stroke="#d86a72" stroke-width="0.8" />
<text x="632.70" y="470.96" font-size="11.5" fill="#cf5560" text-anchor="start" >7000</text>
<line x1="627.90" y1="467.05" x2="629.90" y2="467.05" stroke="#d86a72" stroke-width="0.8" />
<text x="632.70" y="482.31" font-size="11.5" fill="#cf5560" text-anchor="start" >6000</text>
<line x1="627.90" y1="478.40" x2="629.90" y2="478.40" stroke="#d86a72" stroke-width="0.8" />
<text x="632.70" y="493.66" font-size="11.5" fill="#cf5560" text-anchor="start" >5000</text>
<line x1="627.90" y1="489.75" x2="629.90" y2="489.75" stroke="#d86a72" stroke-width="0.8" />
<text x="632.70" y="505.01" font-size="11.5" fill="#cf5560" text-anchor="start" >4000</text>
<line x1="627.90" y1="501.10" x2="629.90" y2="501.10" stroke="#d86a72" stroke-width="0.8" />
<text x="632.70" y="516.36" font-size="11.5" fill="#cf5560" text-anchor="start" >3000</text>
<line x1="627.90" y1="512.45" x2="629.90" y2="512.45" stroke="#d86a72" stroke-width="0.8" />
<text x="632.70" y="527.71" font-size="11.5" fill="#cf5560" text-anchor="start" >2000</text>
<line x1="627.90" y1="523.80" x2="629.90" y2="523.80" stroke="#d86a72" stroke-width="0.8" />
<text x="632.70" y="539.06" font-size="11.5" fill="#cf5560" text-anchor="start" >1000</text>
<line x1="627.90" y1="535.15" x2="629.90" y2="535.15" stroke="#d86a72" stroke-width="0.8" />
<text x="632.70" y="550.41" font-size="11.5" fill="#cf5560" text-anchor="start" >0</text>
<line x1="627.90" y1="546.50" x2="629.90" y2="546.50" stroke="#d86a72" stroke-width="0.8" />
<text transform="translate(670.21,500.90) rotate(-90)" font-size="11.7" fill="#2a2a2a" text-anchor="middle">wall heat flux <tspan font-style="italic">q</tspan>/(kw·m<tspan dy="-3.5" font-size="6.5">−2</tspan><tspan dy="3.5">)</tspan></text>
<text x="398.70" y="467.71" font-size="11.5" fill="#2a2a2a" text-anchor="start" >11.5 ms</text>
<line x1="494.00" y1="461.50" x2="507.75" y2="461.50" stroke="#8fcfa8" stroke-width="1.0" />
<line x1="494.00" y1="470.50" x2="507.75" y2="470.50" stroke="#c9cfe0" stroke-width="1.0" />
<line x1="494.00" y1="480.90" x2="507.75" y2="480.90" stroke="#6f84b0" stroke-width="1.0" />
<circle cx="500.88" cy="480.90" r="1.3" fill="#34508a"/>
<line x1="494.00" y1="490.20" x2="507.75" y2="490.20" stroke="#e0707e" stroke-width="1.0" />
<path d="M500.88,488.25 L502.38,491.25 L499.38,491.25 Z" fill="#bb1d36"/>
<text x="510.40" y="465.41" font-size="11.5" fill="#2a2a2a" text-anchor="start" >film size</text>
<text x="510.40" y="474.41" font-size="11.5" fill="#2a2a2a" text-anchor="start" >wall</text>
<text x="510.40" y="484.81" font-size="11.5" fill="#2a2a2a" text-anchor="start" >pressure</text>
<text x="510.40" y="494.11" font-size="11.5" fill="#2a2a2a" text-anchor="start" >wall heat flux</text>
<path d="M455.21,496.00 L457.18,504.90 L460.00,514.50 L463.99,521.30 L469.51,528.10 L474.97,535.00 L479.57,539.80 L485.65,541.10 L491.91,539.10 L497.31,533.60 L504.18,526.80 L509.58,520.00 L513.02,513.10 L514.37,506.30 L515.72,499.50 L517.07,496.00" fill="none" stroke="#66b886" stroke-width="0.9"/>
<path d="M393.60,547.30 L396.65,547.30 L399.69,547.30 L402.74,547.30 L405.79,547.30 L408.83,547.30 L411.88,547.30 L414.92,547.30 L417.97,547.30 L421.02,547.30 L424.06,547.30 L427.11,547.30 L430.16,547.30 L433.20,547.30 L436.25,547.30 L439.30,547.30 L442.34,547.30 L445.39,547.30 L448.44,547.30 L451.48,547.30 L454.53,547.30 L457.57,547.30 L460.62,547.30 L463.67,547.30 L466.71,547.30 L469.76,547.30 L472.81,547.30 L475.85,547.30 L478.90,547.30 L482.27,542.50 L485.65,523.40 L489.09,542.50 L492.46,547.30 L495.51,547.30 L498.55,547.30 L501.59,547.30 L504.64,547.30 L507.68,547.30 L510.73,547.30 L513.77,547.30 L516.82,547.30 L519.86,547.30 L522.90,547.30 L525.95,547.30 L528.99,547.30 L532.04,547.30 L535.08,547.30 L538.13,547.30 L541.17,547.30 L544.21,547.30 L547.26,547.30 L550.30,547.30 L553.35,547.30 L556.39,547.30 L559.43,547.30 L562.48,547.30 L565.52,547.30 L568.57,547.30 L571.61,547.30 L574.66,547.30 L577.70,547.30" fill="none" stroke="#44609a" stroke-width="1.0" stroke-linejoin="round"/>
<circle cx="393.60" cy="547.30" r="1.3" fill="#34508a"/>
<circle cx="396.65" cy="547.30" r="1.3" fill="#34508a"/>
<circle cx="399.69" cy="547.30" r="1.3" fill="#34508a"/>
<circle cx="402.74" cy="547.30" r="1.3" fill="#34508a"/>
<circle cx="405.79" cy="547.30" r="1.3" fill="#34508a"/>
<circle cx="408.83" cy="547.30" r="1.3" fill="#34508a"/>
<circle cx="411.88" cy="547.30" r="1.3" fill="#34508a"/>
<circle cx="414.92" cy="547.30" r="1.3" fill="#34508a"/>
<circle cx="417.97" cy="547.30" r="1.3" fill="#34508a"/>
<circle cx="421.02" cy="547.30" r="1.3" fill="#34508a"/>
<circle cx="424.06" cy="547.30" r="1.3" fill="#34508a"/>
<circle cx="427.11" cy="547.30" r="1.3" fill="#34508a"/>
<circle cx="430.16" cy="547.30" r="1.3" fill="#34508a"/>
<circle cx="433.20" cy="547.30" r="1.3" fill="#34508a"/>
<circle cx="436.25" cy="547.30" r="1.3" fill="#34508a"/>
<circle cx="439.30" cy="547.30" r="1.3" fill="#34508a"/>
<circle cx="442.34" cy="547.30" r="1.3" fill="#34508a"/>
<circle cx="445.39" cy="547.30" r="1.3" fill="#34508a"/>
<circle cx="448.44" cy="547.30" r="1.3" fill="#34508a"/>
<circle cx="451.48" cy="547.30" r="1.3" fill="#34508a"/>
<circle cx="454.53" cy="547.30" r="1.3" fill="#34508a"/>
<circle cx="457.57" cy="547.30" r="1.3" fill="#34508a"/>
<circle cx="460.62" cy="547.30" r="1.3" fill="#34508a"/>
<circle cx="463.67" cy="547.30" r="1.3" fill="#34508a"/>
<circle cx="466.71" cy="547.30" r="1.3" fill="#34508a"/>
<circle cx="469.76" cy="547.30" r="1.3" fill="#34508a"/>
<circle cx="472.81" cy="547.30" r="1.3" fill="#34508a"/>
<circle cx="475.85" cy="547.30" r="1.3" fill="#34508a"/>
<circle cx="478.90" cy="547.30" r="1.3" fill="#34508a"/>
<circle cx="482.27" cy="542.50" r="1.3" fill="#34508a"/>
<circle cx="485.65" cy="523.40" r="1.3" fill="#34508a"/>
<circle cx="489.09" cy="542.50" r="1.3" fill="#34508a"/>
<circle cx="492.46" cy="547.30" r="1.3" fill="#34508a"/>
<circle cx="495.51" cy="547.30" r="1.3" fill="#34508a"/>
<circle cx="498.55" cy="547.30" r="1.3" fill="#34508a"/>
<circle cx="501.59" cy="547.30" r="1.3" fill="#34508a"/>
<circle cx="504.64" cy="547.30" r="1.3" fill="#34508a"/>
<circle cx="507.68" cy="547.30" r="1.3" fill="#34508a"/>
<circle cx="510.73" cy="547.30" r="1.3" fill="#34508a"/>
<circle cx="513.77" cy="547.30" r="1.3" fill="#34508a"/>
<circle cx="516.82" cy="547.30" r="1.3" fill="#34508a"/>
<circle cx="519.86" cy="547.30" r="1.3" fill="#34508a"/>
<circle cx="522.90" cy="547.30" r="1.3" fill="#34508a"/>
<circle cx="525.95" cy="547.30" r="1.3" fill="#34508a"/>
<circle cx="528.99" cy="547.30" r="1.3" fill="#34508a"/>
<circle cx="532.04" cy="547.30" r="1.3" fill="#34508a"/>
<circle cx="535.08" cy="547.30" r="1.3" fill="#34508a"/>
<circle cx="538.13" cy="547.30" r="1.3" fill="#34508a"/>
<circle cx="541.17" cy="547.30" r="1.3" fill="#34508a"/>
<circle cx="544.21" cy="547.30" r="1.3" fill="#34508a"/>
<circle cx="547.26" cy="547.30" r="1.3" fill="#34508a"/>
<circle cx="550.30" cy="547.30" r="1.3" fill="#34508a"/>
<circle cx="553.35" cy="547.30" r="1.3" fill="#34508a"/>
<circle cx="556.39" cy="547.30" r="1.3" fill="#34508a"/>
<circle cx="559.43" cy="547.30" r="1.3" fill="#34508a"/>
<circle cx="562.48" cy="547.30" r="1.3" fill="#34508a"/>
<circle cx="565.52" cy="547.30" r="1.3" fill="#34508a"/>
<circle cx="568.57" cy="547.30" r="1.3" fill="#34508a"/>
<circle cx="571.61" cy="547.30" r="1.3" fill="#34508a"/>
<circle cx="574.66" cy="547.30" r="1.3" fill="#34508a"/>
<circle cx="577.70" cy="547.30" r="1.3" fill="#34508a"/>
<path d="M393.60,546.60 L396.67,546.58 L399.74,546.55 L402.81,546.52 L405.87,546.50 L408.94,546.48 L412.01,546.45 L415.08,546.42 L418.15,546.40 L421.22,546.38 L424.28,546.35 L427.35,546.32 L430.42,546.30 L433.30,546.23 L436.19,546.17 L439.07,546.10 L441.96,546.03 L444.84,545.97 L447.73,545.90 L451.12,545.55 L454.51,545.20 L457.90,544.85 L461.29,544.50 L464.02,544.17 L466.75,543.85 L469.48,543.53 L472.21,543.20 L475.56,541.80 L478.90,540.40 L482.27,475.50 L485.65,462.30 L489.09,475.50 L492.46,541.80 L494.89,542.50 L497.31,543.20 L500.53,543.60 L503.75,544.00 L506.97,544.40 L510.20,544.80 L513.09,545.02 L515.99,545.24 L518.89,545.46 L521.78,545.68 L524.68,545.90 L527.87,545.97 L531.06,546.04 L534.25,546.11 L537.44,546.19 L540.63,546.26 L543.83,546.33 L547.02,546.40 L550.09,546.42 L553.15,546.44 L556.22,546.46 L559.29,546.48 L562.36,546.50 L565.43,546.52 L568.50,546.54 L571.56,546.56 L574.63,546.58 L577.70,546.60" fill="none" stroke="#d23a4e" stroke-width="1.0" stroke-linejoin="round"/>
<path d="M393.60,544.72 L395.05,547.62 L392.15,547.62 Z" fill="#bb1d36"/>
<path d="M396.67,544.69 L398.12,547.59 L395.22,547.59 Z" fill="#bb1d36"/>
<path d="M399.74,544.66 L401.19,547.56 L398.29,547.56 Z" fill="#bb1d36"/>
<path d="M402.81,544.64 L404.25,547.54 L401.36,547.54 Z" fill="#bb1d36"/>
<path d="M405.87,544.62 L407.32,547.51 L404.42,547.51 Z" fill="#bb1d36"/>
<path d="M408.94,544.59 L410.39,547.49 L407.49,547.49 Z" fill="#bb1d36"/>
<path d="M412.01,544.57 L413.46,547.47 L410.56,547.47 Z" fill="#bb1d36"/>
<path d="M415.08,544.54 L416.53,547.44 L413.63,547.44 Z" fill="#bb1d36"/>
<path d="M418.15,544.51 L419.60,547.41 L416.70,547.41 Z" fill="#bb1d36"/>
<path d="M421.22,544.49 L422.67,547.39 L419.77,547.39 Z" fill="#bb1d36"/>
<path d="M424.28,544.46 L425.73,547.36 L422.83,547.36 Z" fill="#bb1d36"/>
<path d="M427.35,544.44 L428.80,547.34 L425.90,547.34 Z" fill="#bb1d36"/>
<path d="M430.42,544.41 L431.87,547.31 L428.97,547.31 Z" fill="#bb1d36"/>
<path d="M433.30,544.35 L434.75,547.25 L431.85,547.25 Z" fill="#bb1d36"/>
<path d="M436.19,544.28 L437.64,547.18 L434.74,547.18 Z" fill="#bb1d36"/>
<path d="M439.07,544.21 L440.52,547.11 L437.62,547.11 Z" fill="#bb1d36"/>
<path d="M441.96,544.15 L443.41,547.05 L440.51,547.05 Z" fill="#bb1d36"/>
<path d="M444.84,544.08 L446.29,546.98 L443.39,546.98 Z" fill="#bb1d36"/>
<path d="M447.73,544.01 L449.18,546.91 L446.28,546.91 Z" fill="#bb1d36"/>
<path d="M451.12,543.66 L452.57,546.56 L449.67,546.56 Z" fill="#bb1d36"/>
<path d="M454.51,543.32 L455.96,546.22 L453.06,546.22 Z" fill="#bb1d36"/>
<path d="M457.90,542.97 L459.35,545.87 L456.45,545.87 Z" fill="#bb1d36"/>
<path d="M461.29,542.62 L462.74,545.51 L459.84,545.51 Z" fill="#bb1d36"/>
<path d="M464.02,542.29 L465.47,545.19 L462.57,545.19 Z" fill="#bb1d36"/>
<path d="M466.75,541.97 L468.20,544.87 L465.30,544.87 Z" fill="#bb1d36"/>
<path d="M469.48,541.64 L470.93,544.54 L468.03,544.54 Z" fill="#bb1d36"/>
<path d="M472.21,541.32 L473.66,544.22 L470.76,544.22 Z" fill="#bb1d36"/>
<path d="M475.56,539.91 L477.01,542.81 L474.11,542.81 Z" fill="#bb1d36"/>
<path d="M478.90,538.51 L480.35,541.41 L477.45,541.41 Z" fill="#bb1d36"/>
<path d="M482.27,473.62 L483.72,476.51 L480.82,476.51 Z" fill="#bb1d36"/>
<path d="M485.65,460.42 L487.10,463.31 L484.20,463.31 Z" fill="#bb1d36"/>
<path d="M489.09,473.62 L490.54,476.51 L487.64,476.51 Z" fill="#bb1d36"/>
<path d="M492.46,539.91 L493.91,542.81 L491.01,542.81 Z" fill="#bb1d36"/>
<path d="M494.89,540.62 L496.34,543.51 L493.44,543.51 Z" fill="#bb1d36"/>
<path d="M497.31,541.32 L498.76,544.22 L495.86,544.22 Z" fill="#bb1d36"/>
<path d="M500.53,541.72 L501.98,544.62 L499.08,544.62 Z" fill="#bb1d36"/>
<path d="M503.75,542.12 L505.20,545.01 L502.30,545.01 Z" fill="#bb1d36"/>
<path d="M506.97,542.51 L508.42,545.41 L505.52,545.41 Z" fill="#bb1d36"/>
<path d="M510.20,542.91 L511.65,545.81 L508.75,545.81 Z" fill="#bb1d36"/>
<path d="M513.09,543.13 L514.54,546.03 L511.64,546.03 Z" fill="#bb1d36"/>
<path d="M515.99,543.36 L517.44,546.25 L514.54,546.25 Z" fill="#bb1d36"/>
<path d="M518.89,543.57 L520.34,546.47 L517.44,546.47 Z" fill="#bb1d36"/>
<path d="M521.78,543.79 L523.23,546.69 L520.33,546.69 Z" fill="#bb1d36"/>
<path d="M524.68,544.01 L526.13,546.91 L523.23,546.91 Z" fill="#bb1d36"/>
<path d="M527.87,544.09 L529.32,546.99 L526.42,546.99 Z" fill="#bb1d36"/>
<path d="M531.06,544.16 L532.51,547.06 L529.61,547.06 Z" fill="#bb1d36"/>
<path d="M534.25,544.23 L535.70,547.13 L532.80,547.13 Z" fill="#bb1d36"/>
<path d="M537.44,544.30 L538.89,547.20 L535.99,547.20 Z" fill="#bb1d36"/>
<path d="M540.63,544.37 L542.08,547.27 L539.18,547.27 Z" fill="#bb1d36"/>
<path d="M543.83,544.44 L545.28,547.34 L542.38,547.34 Z" fill="#bb1d36"/>
<path d="M547.02,544.51 L548.47,547.41 L545.57,547.41 Z" fill="#bb1d36"/>
<path d="M550.09,544.53 L551.54,547.43 L548.63,547.43 Z" fill="#bb1d36"/>
<path d="M553.15,544.55 L554.60,547.45 L551.70,547.45 Z" fill="#bb1d36"/>
<path d="M556.22,544.58 L557.67,547.48 L554.77,547.48 Z" fill="#bb1d36"/>
<path d="M559.29,544.60 L560.74,547.50 L557.84,547.50 Z" fill="#bb1d36"/>
<path d="M562.36,544.62 L563.81,547.51 L560.91,547.51 Z" fill="#bb1d36"/>
<path d="M565.43,544.63 L566.88,547.53 L563.98,547.53 Z" fill="#bb1d36"/>
<path d="M568.50,544.65 L569.95,547.55 L567.05,547.55 Z" fill="#bb1d36"/>
<path d="M571.56,544.68 L573.01,547.58 L570.11,547.58 Z" fill="#bb1d36"/>
<path d="M574.63,544.70 L576.08,547.60 L573.18,547.60 Z" fill="#bb1d36"/>
<path d="M577.70,544.72 L579.15,547.62 L576.25,547.62 Z" fill="#bb1d36"/>
<line x1="220.40" y1="595.40" x2="404.60" y2="595.40" stroke="#7a7a7a" stroke-width="1.1" />
<line x1="220.40" y1="706.40" x2="404.60" y2="706.40" stroke="#555" stroke-width="1.1" />
<line x1="220.40" y1="595.40" x2="220.40" y2="706.40" stroke="#9fd6b8" stroke-width="1.1" />
<line x1="404.60" y1="595.40" x2="404.60" y2="706.40" stroke="#8c9dbf" stroke-width="1.1" />
<line x1="238.41" y1="706.40" x2="238.41" y2="703.80" stroke="#555" stroke-width="0.8" />
<line x1="256.93" y1="706.40" x2="256.93" y2="704.60" stroke="#888" stroke-width="0.8" />
<line x1="275.45" y1="706.40" x2="275.45" y2="703.80" stroke="#555" stroke-width="0.8" />
<line x1="293.98" y1="706.40" x2="293.98" y2="704.60" stroke="#888" stroke-width="0.8" />
<line x1="312.50" y1="706.40" x2="312.50" y2="703.80" stroke="#555" stroke-width="0.8" />
<line x1="331.02" y1="706.40" x2="331.02" y2="704.60" stroke="#888" stroke-width="0.8" />
<line x1="349.55" y1="706.40" x2="349.55" y2="703.80" stroke="#555" stroke-width="0.8" />
<line x1="368.07" y1="706.40" x2="368.07" y2="704.60" stroke="#888" stroke-width="0.8" />
<line x1="386.59" y1="706.40" x2="386.59" y2="703.80" stroke="#555" stroke-width="0.8" />
<text x="238.41" y="719.61" font-size="11.5" fill="#2a2a2a" text-anchor="middle" >−1.0</text>
<text x="275.45" y="719.61" font-size="11.5" fill="#2a2a2a" text-anchor="middle" >−0.5</text>
<text x="312.50" y="719.61" font-size="11.5" fill="#2a2a2a" text-anchor="middle" >0</text>
<text x="349.55" y="719.61" font-size="11.5" fill="#2a2a2a" text-anchor="middle" >0.5</text>
<text x="386.59" y="719.61" font-size="11.5" fill="#2a2a2a" text-anchor="middle" >1.0</text>
<text x="313.00" y="736.81" font-size="11.5" fill="#2a2a2a" text-anchor="middle" ><tspan font-style="italic">X</tspan> (mm)</text>
<text x="216.40" y="703.21" font-size="11.5" fill="#8fbfa2" text-anchor="end" >2.0</text>
<line x1="220.40" y1="699.30" x2="222.90" y2="699.30" stroke="#9fd6b8" stroke-width="0.8" />
<line x1="220.40" y1="691.80" x2="222.00" y2="691.80" stroke="#9fd6b8" stroke-width="0.7" />
<text x="216.40" y="688.21" font-size="11.5" fill="#8fbfa2" text-anchor="end" >2.2</text>
<line x1="220.40" y1="684.30" x2="222.90" y2="684.30" stroke="#9fd6b8" stroke-width="0.8" />
<line x1="220.40" y1="676.80" x2="222.00" y2="676.80" stroke="#9fd6b8" stroke-width="0.7" />
<text x="216.40" y="673.21" font-size="11.5" fill="#8fbfa2" text-anchor="end" >2.4</text>
<line x1="220.40" y1="669.30" x2="222.90" y2="669.30" stroke="#9fd6b8" stroke-width="0.8" />
<line x1="220.40" y1="661.80" x2="222.00" y2="661.80" stroke="#9fd6b8" stroke-width="0.7" />
<text x="216.40" y="658.21" font-size="11.5" fill="#8fbfa2" text-anchor="end" >2.6</text>
<line x1="220.40" y1="654.30" x2="222.90" y2="654.30" stroke="#9fd6b8" stroke-width="0.8" />
<line x1="220.40" y1="646.80" x2="222.00" y2="646.80" stroke="#9fd6b8" stroke-width="0.7" />
<text x="216.40" y="643.21" font-size="11.5" fill="#8fbfa2" text-anchor="end" >2.8</text>
<line x1="220.40" y1="639.30" x2="222.90" y2="639.30" stroke="#9fd6b8" stroke-width="0.8" />
<line x1="220.40" y1="631.80" x2="222.00" y2="631.80" stroke="#9fd6b8" stroke-width="0.7" />
<text x="216.40" y="628.21" font-size="11.5" fill="#8fbfa2" text-anchor="end" >3.0</text>
<line x1="220.40" y1="624.30" x2="222.90" y2="624.30" stroke="#9fd6b8" stroke-width="0.8" />
<line x1="220.40" y1="616.80" x2="222.00" y2="616.80" stroke="#9fd6b8" stroke-width="0.7" />
<text x="216.40" y="613.21" font-size="11.5" fill="#8fbfa2" text-anchor="end" >3.2</text>
<line x1="220.40" y1="609.30" x2="222.90" y2="609.30" stroke="#9fd6b8" stroke-width="0.8" />
<line x1="220.40" y1="601.80" x2="222.00" y2="601.80" stroke="#9fd6b8" stroke-width="0.7" />
<text x="216.40" y="598.21" font-size="11.5" fill="#8fbfa2" text-anchor="end" >3.4</text>
<line x1="220.40" y1="594.30" x2="222.90" y2="594.30" stroke="#9fd6b8" stroke-width="0.8" />
<text transform="translate(190.32,650.70) rotate(-90)" font-size="11.4" fill="#2a2a2a" text-anchor="middle">droplet height <tspan font-style="italic">H</tspan>/mm</text>
<text x="408.20" y="599.21" font-size="11.5" fill="#7286ab" text-anchor="start" >200</text>
<line x1="404.60" y1="595.30" x2="402.10" y2="595.30" stroke="#8c9dbf" stroke-width="0.8" />
<text x="408.20" y="621.21" font-size="11.5" fill="#7286ab" text-anchor="start" >150</text>
<line x1="404.60" y1="617.30" x2="402.10" y2="617.30" stroke="#8c9dbf" stroke-width="0.8" />
<text x="408.20" y="643.21" font-size="11.5" fill="#7286ab" text-anchor="start" >100</text>
<line x1="404.60" y1="639.30" x2="402.10" y2="639.30" stroke="#8c9dbf" stroke-width="0.8" />
<text x="408.20" y="665.21" font-size="11.5" fill="#7286ab" text-anchor="start" >50</text>
<line x1="404.60" y1="661.30" x2="402.10" y2="661.30" stroke="#8c9dbf" stroke-width="0.8" />
<text x="408.20" y="687.21" font-size="11.5" fill="#7286ab" text-anchor="start" >0</text>
<line x1="404.60" y1="683.30" x2="402.10" y2="683.30" stroke="#8c9dbf" stroke-width="0.8" />
<text x="408.20" y="709.21" font-size="11.5" fill="#7286ab" text-anchor="start" >−50</text>
<line x1="404.60" y1="705.30" x2="402.10" y2="705.30" stroke="#8c9dbf" stroke-width="0.8" />
<text transform="translate(441.61,650.60) rotate(-90)" font-size="11.7" fill="#2a2a2a" text-anchor="middle">Pressure <tspan font-style="italic">P</tspan>/pa</text>
<line x1="461.10" y1="595.40" x2="461.10" y2="706.50" stroke="#d86a72" stroke-width="1.0" />
<text x="465.60" y="599.31" font-size="11.5" fill="#cf5560" text-anchor="start" >2000</text>
<line x1="461.10" y1="595.40" x2="463.10" y2="595.40" stroke="#d86a72" stroke-width="0.8" />
<text x="465.60" y="635.51" font-size="11.5" fill="#cf5560" text-anchor="start" >1000</text>
<line x1="461.10" y1="631.60" x2="463.10" y2="631.60" stroke="#d86a72" stroke-width="0.8" />
<text x="465.60" y="672.01" font-size="11.5" fill="#cf5560" text-anchor="start" >0</text>
<line x1="461.10" y1="668.10" x2="463.10" y2="668.10" stroke="#d86a72" stroke-width="0.8" />
<text x="465.60" y="709.51" font-size="11.5" fill="#cf5560" text-anchor="start" >−1000</text>
<line x1="461.10" y1="705.60" x2="463.10" y2="705.60" stroke="#d86a72" stroke-width="0.8" />
<text transform="translate(511.91,650.70) rotate(-90)" font-size="11.7" fill="#2a2a2a" text-anchor="middle">wall heat flux <tspan font-style="italic">q</tspan>/(kw·m<tspan dy="-3.5" font-size="6.5">−2</tspan><tspan dy="3.5">)</tspan></text>
<text x="224.50" y="607.66" font-size="11.5" fill="#2a2a2a" text-anchor="start" >15.0 ms</text>
<line x1="228.00" y1="616.25" x2="240.00" y2="616.25" stroke="#8fcfa8" stroke-width="1.0" />
<line x1="228.00" y1="630.00" x2="240.00" y2="630.00" stroke="#c9cfe0" stroke-width="1.0" />
<line x1="228.00" y1="643.75" x2="240.00" y2="643.75" stroke="#6f84b0" stroke-width="1.0" />
<circle cx="234.00" cy="643.75" r="1.3" fill="#34508a"/>
<line x1="228.00" y1="657.50" x2="240.00" y2="657.50" stroke="#e0707e" stroke-width="1.0" />
<path d="M234.00,655.55 L235.50,658.55 L232.50,658.55 Z" fill="#bb1d36"/>
<text x="242.50" y="620.16" font-size="11.5" fill="#2a2a2a" text-anchor="start" >film size</text>
<text x="242.50" y="633.91" font-size="11.5" fill="#2a2a2a" text-anchor="start" >wall</text>
<text x="242.50" y="647.66" font-size="11.5" fill="#2a2a2a" text-anchor="start" >pressure</text>
<text x="242.50" y="661.41" font-size="11.5" fill="#2a2a2a" text-anchor="start" >wall heat flux</text>
<path d="M240.63,706.50 L275.45,702.00 L312.50,699.40 L349.55,701.50 L382.89,706.30" fill="none" stroke="#cccccc" stroke-width="0.9"/>
<path d="M276.71,621.90 L278.42,628.50 L282.86,637.00 L290.27,645.20 L302.27,653.50 L312.50,655.50 L325.02,652.00 L335.62,645.20 L343.10,636.10 L347.62,627.10 L349.40,620.30" fill="none" stroke="#66b886" stroke-width="0.9"/>
<path d="M219.88,684.30 L223.59,684.30 L227.29,684.30 L231.00,684.30 L234.70,684.30 L238.41,684.30 L242.11,684.30 L245.81,684.30 L249.52,684.30 L253.22,684.30 L256.93,684.30 L260.63,684.30 L264.34,684.30 L268.04,684.30 L271.75,684.30 L275.45,684.30 L279.16,684.30 L282.86,684.30 L286.57,684.30 L290.27,684.30 L293.98,684.30 L297.68,684.30 L301.39,684.30 L305.09,684.30 L308.80,684.30 L312.50,684.30 L316.20,684.30 L319.91,684.30 L323.61,684.30 L327.32,684.30 L331.02,684.30 L334.73,684.30 L338.43,684.30 L342.14,684.30 L345.84,684.30 L349.55,684.30 L353.25,684.30 L356.96,684.30 L360.66,684.30 L364.37,684.30 L368.07,684.30 L371.78,684.30 L375.48,684.30 L379.19,684.30 L382.89,684.30 L386.59,684.30 L390.30,684.30 L394.00,684.30 L397.71,684.30 L401.41,684.30 L405.12,684.30" fill="none" stroke="#44609a" stroke-width="1.0" stroke-linejoin="round"/>
<rect x="218.43" y="682.80" width="2.9" height="3.0" rx="0.4" fill="#34508a"/>
<rect x="222.14" y="682.80" width="2.9" height="3.0" rx="0.4" fill="#34508a"/>
<rect x="225.84" y="682.80" width="2.9" height="3.0" rx="0.4" fill="#34508a"/>
<rect x="229.55" y="682.80" width="2.9" height="3.0" rx="0.4" fill="#34508a"/>
<rect x="233.25" y="682.80" width="2.9" height="3.0" rx="0.4" fill="#34508a"/>
<rect x="236.96" y="682.80" width="2.9" height="3.0" rx="0.4" fill="#34508a"/>
<rect x="240.66" y="682.80" width="2.9" height="3.0" rx="0.4" fill="#34508a"/>
<rect x="244.36" y="682.80" width="2.9" height="3.0" rx="0.4" fill="#34508a"/>
<rect x="248.07" y="682.80" width="2.9" height="3.0" rx="0.4" fill="#34508a"/>
<rect x="251.77" y="682.80" width="2.9" height="3.0" rx="0.4" fill="#34508a"/>
<rect x="255.48" y="682.80" width="2.9" height="3.0" rx="0.4" fill="#34508a"/>
<rect x="259.18" y="682.80" width="2.9" height="3.0" rx="0.4" fill="#34508a"/>
<rect x="262.89" y="682.80" width="2.9" height="3.0" rx="0.4" fill="#34508a"/>
<rect x="266.59" y="682.80" width="2.9" height="3.0" rx="0.4" fill="#34508a"/>
<rect x="270.30" y="682.80" width="2.9" height="3.0" rx="0.4" fill="#34508a"/>
<rect x="274.00" y="682.80" width="2.9" height="3.0" rx="0.4" fill="#34508a"/>
<rect x="277.71" y="682.80" width="2.9" height="3.0" rx="0.4" fill="#34508a"/>
<rect x="281.41" y="682.80" width="2.9" height="3.0" rx="0.4" fill="#34508a"/>
<rect x="285.12" y="682.80" width="2.9" height="3.0" rx="0.4" fill="#34508a"/>
<rect x="288.82" y="682.80" width="2.9" height="3.0" rx="0.4" fill="#34508a"/>
<rect x="292.53" y="682.80" width="2.9" height="3.0" rx="0.4" fill="#34508a"/>
<rect x="296.23" y="682.80" width="2.9" height="3.0" rx="0.4" fill="#34508a"/>
<rect x="299.94" y="682.80" width="2.9" height="3.0" rx="0.4" fill="#34508a"/>
<rect x="303.64" y="682.80" width="2.9" height="3.0" rx="0.4" fill="#34508a"/>
<rect x="307.35" y="682.80" width="2.9" height="3.0" rx="0.4" fill="#34508a"/>
<rect x="311.05" y="682.80" width="2.9" height="3.0" rx="0.4" fill="#34508a"/>
<rect x="314.75" y="682.80" width="2.9" height="3.0" rx="0.4" fill="#34508a"/>
<rect x="318.46" y="682.80" width="2.9" height="3.0" rx="0.4" fill="#34508a"/>
<rect x="322.16" y="682.80" width="2.9" height="3.0" rx="0.4" fill="#34508a"/>
<rect x="325.87" y="682.80" width="2.9" height="3.0" rx="0.4" fill="#34508a"/>
<rect x="329.57" y="682.80" width="2.9" height="3.0" rx="0.4" fill="#34508a"/>
<rect x="333.28" y="682.80" width="2.9" height="3.0" rx="0.4" fill="#34508a"/>
<rect x="336.98" y="682.80" width="2.9" height="3.0" rx="0.4" fill="#34508a"/>
<rect x="340.69" y="682.80" width="2.9" height="3.0" rx="0.4" fill="#34508a"/>
<rect x="344.39" y="682.80" width="2.9" height="3.0" rx="0.4" fill="#34508a"/>
<rect x="348.10" y="682.80" width="2.9" height="3.0" rx="0.4" fill="#34508a"/>
<rect x="351.80" y="682.80" width="2.9" height="3.0" rx="0.4" fill="#34508a"/>
<rect x="355.51" y="682.80" width="2.9" height="3.0" rx="0.4" fill="#34508a"/>
<rect x="359.21" y="682.80" width="2.9" height="3.0" rx="0.4" fill="#34508a"/>
<rect x="362.92" y="682.80" width="2.9" height="3.0" rx="0.4" fill="#34508a"/>
<rect x="366.62" y="682.80" width="2.9" height="3.0" rx="0.4" fill="#34508a"/>
<rect x="370.33" y="682.80" width="2.9" height="3.0" rx="0.4" fill="#34508a"/>
<rect x="374.03" y="682.80" width="2.9" height="3.0" rx="0.4" fill="#34508a"/>
<rect x="377.74" y="682.80" width="2.9" height="3.0" rx="0.4" fill="#34508a"/>
<rect x="381.44" y="682.80" width="2.9" height="3.0" rx="0.4" fill="#34508a"/>
<rect x="385.14" y="682.80" width="2.9" height="3.0" rx="0.4" fill="#34508a"/>
<rect x="388.85" y="682.80" width="2.9" height="3.0" rx="0.4" fill="#34508a"/>
<rect x="392.55" y="682.80" width="2.9" height="3.0" rx="0.4" fill="#34508a"/>
<rect x="396.26" y="682.80" width="2.9" height="3.0" rx="0.4" fill="#34508a"/>
<rect x="399.96" y="682.80" width="2.9" height="3.0" rx="0.4" fill="#34508a"/>
<rect x="403.67" y="682.80" width="2.9" height="3.0" rx="0.4" fill="#34508a"/>
<path d="M219.88,669.30 L223.49,669.23 L227.11,669.17 L230.72,669.10 L234.33,669.03 L237.94,668.97 L241.55,668.90 L245.17,668.83 L248.78,668.77 L252.39,668.70 L256.00,668.63 L259.61,668.57 L263.23,668.50 L266.97,668.13 L270.71,667.77 L274.45,667.40 L278.19,667.03 L281.94,666.67 L285.68,666.30 L289.46,665.62 L293.24,664.95 L297.01,664.27 L300.79,663.60 L304.53,662.55 L308.28,661.50 L312.50,659.50 L316.80,662.50 L320.50,664.00 L325.10,665.50 L328.80,666.45 L332.51,667.40 L336.28,667.67 L340.06,667.95 L343.84,668.23 L347.62,668.50 L351.07,668.60 L354.52,668.70 L357.97,668.80 L361.42,668.90 L364.87,669.00 L368.33,669.10 L371.78,669.20 L375.48,669.20 L379.19,669.20 L382.89,669.20 L386.59,669.20 L390.30,669.20 L394.00,669.20 L397.71,669.20 L401.41,669.20 L405.12,669.20" fill="none" stroke="#d23a4e" stroke-width="1.0" stroke-linejoin="round"/>
<path d="M219.88,666.83 L221.48,670.63 L218.28,670.63 Z" fill="#bb1d36"/>
<path d="M223.49,666.76 L225.09,670.56 L221.89,670.56 Z" fill="#bb1d36"/>
<path d="M227.11,666.70 L228.71,670.50 L225.51,670.50 Z" fill="#bb1d36"/>
<path d="M230.72,666.63 L232.32,670.43 L229.12,670.43 Z" fill="#bb1d36"/>
<path d="M234.33,666.56 L235.93,670.36 L232.73,670.36 Z" fill="#bb1d36"/>
<path d="M237.94,666.50 L239.54,670.30 L236.34,670.30 Z" fill="#bb1d36"/>
<path d="M241.55,666.43 L243.15,670.23 L239.95,670.23 Z" fill="#bb1d36"/>
<path d="M245.17,666.36 L246.77,670.16 L243.57,670.16 Z" fill="#bb1d36"/>
<path d="M248.78,666.30 L250.38,670.10 L247.18,670.10 Z" fill="#bb1d36"/>
<path d="M252.39,666.23 L253.99,670.03 L250.79,670.03 Z" fill="#bb1d36"/>
<path d="M256.00,666.16 L257.60,669.96 L254.40,669.96 Z" fill="#bb1d36"/>
<path d="M259.61,666.10 L261.21,669.90 L258.01,669.90 Z" fill="#bb1d36"/>
<path d="M263.23,666.03 L264.83,669.83 L261.63,669.83 Z" fill="#bb1d36"/>
<path d="M266.97,665.66 L268.57,669.46 L265.37,669.46 Z" fill="#bb1d36"/>
<path d="M270.71,665.30 L272.31,669.10 L269.11,669.10 Z" fill="#bb1d36"/>
<path d="M274.45,664.93 L276.05,668.73 L272.85,668.73 Z" fill="#bb1d36"/>
<path d="M278.19,664.56 L279.79,668.36 L276.59,668.36 Z" fill="#bb1d36"/>
<path d="M281.94,664.20 L283.54,668.00 L280.34,668.00 Z" fill="#bb1d36"/>
<path d="M285.68,663.83 L287.28,667.63 L284.08,667.63 Z" fill="#bb1d36"/>
<path d="M289.46,663.15 L291.06,666.96 L287.86,666.96 Z" fill="#bb1d36"/>
<path d="M293.24,662.48 L294.84,666.28 L291.64,666.28 Z" fill="#bb1d36"/>
<path d="M297.01,661.80 L298.61,665.61 L295.41,665.61 Z" fill="#bb1d36"/>
<path d="M300.79,661.13 L302.39,664.93 L299.19,664.93 Z" fill="#bb1d36"/>
<path d="M304.53,660.08 L306.13,663.88 L302.93,663.88 Z" fill="#bb1d36"/>
<path d="M308.28,659.03 L309.88,662.83 L306.68,662.83 Z" fill="#bb1d36"/>
<path d="M312.50,657.03 L314.10,660.83 L310.90,660.83 Z" fill="#bb1d36"/>
<path d="M316.80,660.03 L318.40,663.83 L315.20,663.83 Z" fill="#bb1d36"/>
<path d="M320.50,661.53 L322.10,665.33 L318.90,665.33 Z" fill="#bb1d36"/>
<path d="M325.10,663.03 L326.70,666.83 L323.50,666.83 Z" fill="#bb1d36"/>
<path d="M328.80,663.98 L330.40,667.78 L327.20,667.78 Z" fill="#bb1d36"/>
<path d="M332.51,664.93 L334.11,668.73 L330.91,668.73 Z" fill="#bb1d36"/>
<path d="M336.28,665.20 L337.88,669.00 L334.68,669.00 Z" fill="#bb1d36"/>
<path d="M340.06,665.48 L341.66,669.28 L338.46,669.28 Z" fill="#bb1d36"/>
<path d="M343.84,665.75 L345.44,669.56 L342.24,669.56 Z" fill="#bb1d36"/>
<path d="M347.62,666.03 L349.22,669.83 L346.02,669.83 Z" fill="#bb1d36"/>
<path d="M351.07,666.13 L352.67,669.93 L349.47,669.93 Z" fill="#bb1d36"/>
<path d="M354.52,666.23 L356.12,670.03 L352.92,670.03 Z" fill="#bb1d36"/>
<path d="M357.97,666.33 L359.57,670.13 L356.37,670.13 Z" fill="#bb1d36"/>
<path d="M361.42,666.43 L363.02,670.23 L359.82,670.23 Z" fill="#bb1d36"/>
<path d="M364.87,666.53 L366.47,670.33 L363.27,670.33 Z" fill="#bb1d36"/>
<path d="M368.33,666.63 L369.93,670.43 L366.73,670.43 Z" fill="#bb1d36"/>
<path d="M371.78,666.73 L373.38,670.53 L370.18,670.53 Z" fill="#bb1d36"/>
<path d="M375.48,666.73 L377.08,670.53 L373.88,670.53 Z" fill="#bb1d36"/>
<path d="M379.19,666.73 L380.79,670.53 L377.59,670.53 Z" fill="#bb1d36"/>
<path d="M382.89,666.73 L384.49,670.53 L381.29,670.53 Z" fill="#bb1d36"/>
<path d="M386.59,666.73 L388.19,670.53 L384.99,670.53 Z" fill="#bb1d36"/>
<path d="M390.30,666.73 L391.90,670.53 L388.70,670.53 Z" fill="#bb1d36"/>
<path d="M394.00,666.73 L395.60,670.53 L392.40,670.53 Z" fill="#bb1d36"/>
<path d="M397.71,666.73 L399.31,670.53 L396.11,670.53 Z" fill="#bb1d36"/>
<path d="M401.41,666.73 L403.01,670.53 L399.81,670.53 Z" fill="#bb1d36"/>
<path d="M405.12,666.73 L406.72,670.53 L403.52,670.53 Z" fill="#bb1d36"/>
<g fill="#2a2a2a" font-size="11" style="font-family:'Liberation Sans','Noto Sans CJK SC',sans-serif">
<text x="258.7" y="765.4" font-weight="bold">图</text>
<text x="276.0" y="765.4" font-weight="bold">7</text>
<text x="286.3" y="765.4" textLength="165" lengthAdjust="spacingAndGlyphs">气膜形状及对应的热流密度和压力</text>
</g>
</svg>
</body></html>
